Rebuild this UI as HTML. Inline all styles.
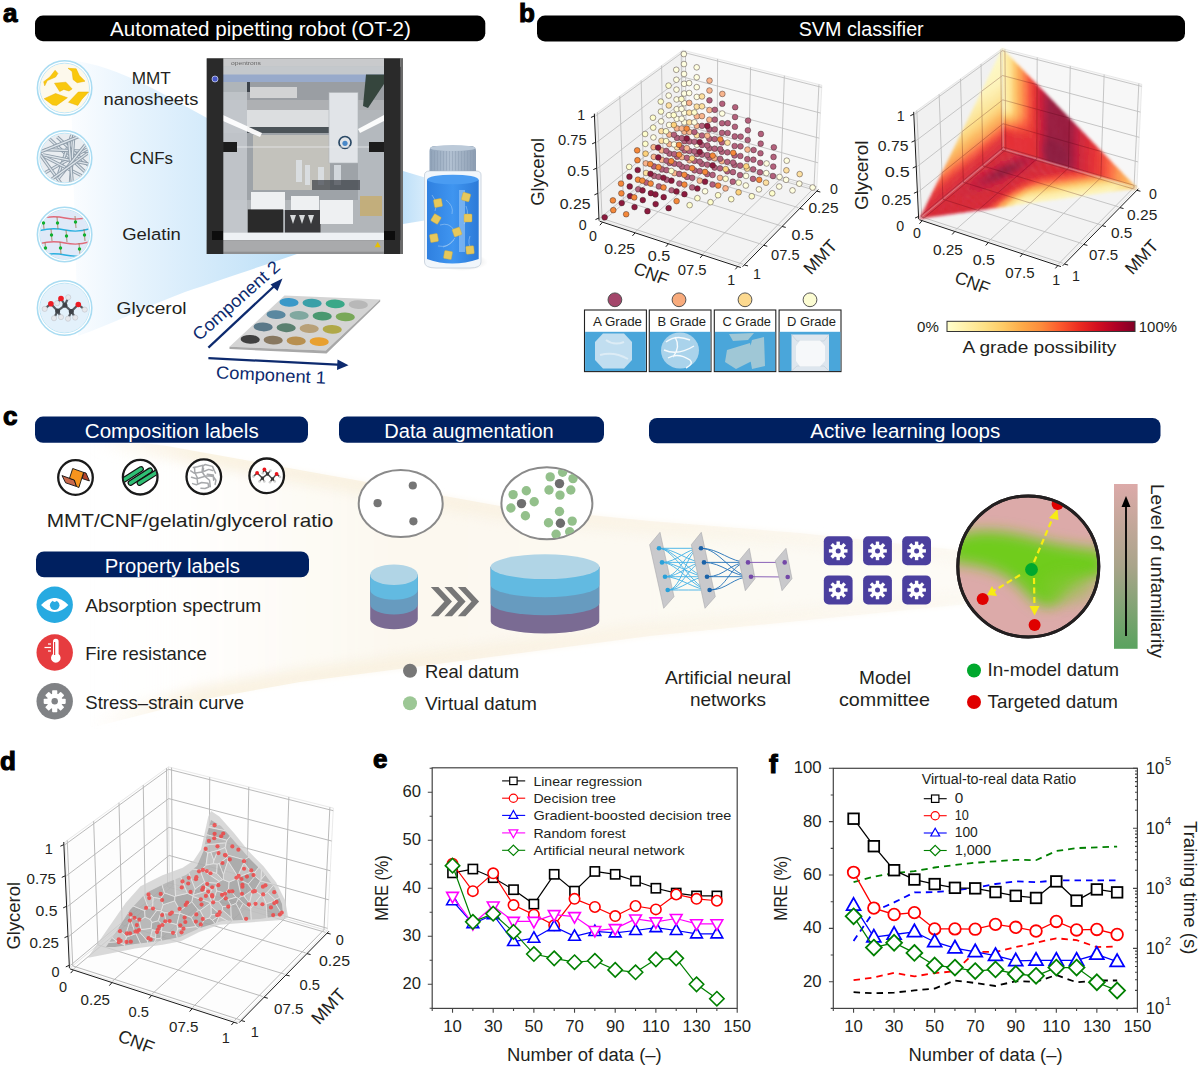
<!DOCTYPE html>
<html><head><meta charset="utf-8"><title>figure</title>
<style>
html,body{margin:0;padding:0;background:#fff;}
svg{display:block;}
text{font-family:"Liberation Sans", sans-serif;}
</style></head>
<body>
<svg width="1200" height="1066" viewBox="0 0 1200 1066">
<defs>
<linearGradient id="fanA" x1="0" y1="0" x2="1" y2="0">
<stop offset="0" stop-color="#fbfdff"/><stop offset="0.3" stop-color="#e6f3fd"/>
<stop offset="1" stop-color="#bcdff7"/></linearGradient>
<linearGradient id="fanB" x1="0" y1="0" x2="1" y2="0">
<stop offset="0" stop-color="#bfe0f8"/><stop offset="1" stop-color="#e6f3fd"/></linearGradient>
<clipPath id="cclip2"><circle cx="64.6" cy="158" r="24.3"/></clipPath>
<clipPath id="cclip3"><circle cx="64.6" cy="234.5" r="24.3"/></clipPath>
<filter id="blurP" x="0" y="0" width="100%" height="100%"><feGaussianBlur stdDeviation="0.6"/></filter>
<linearGradient id="capG" x1="0" y1="0" x2="1" y2="0">
<stop offset="0" stop-color="#8fa2b8"/><stop offset="0.45" stop-color="#b2c1d2"/><stop offset="1" stop-color="#8c9db2"/></linearGradient>
<linearGradient id="liqG" x1="0" y1="0" x2="1" y2="0">
<stop offset="0" stop-color="#2f80e0"/><stop offset="0.5" stop-color="#3f95f0"/><stop offset="1" stop-color="#2c7ad8"/></linearGradient>
<radialGradient id="shadB" cx="0.5" cy="0.5" r="0.5"><stop offset="0" stop-color="#000" stop-opacity="0.18"/><stop offset="1" stop-color="#000" stop-opacity="0"/></radialGradient>
<filter id="blurS" x="-5%" y="-5%" width="110%" height="110%"><feGaussianBlur stdDeviation="1.6"/></filter>
<clipPath id="triBR"><polygon points="1002.27,48.57 919.87,218.48 1136.83,188.13"/></clipPath>
<linearGradient id="cbar" x1="0" y1="0" x2="1" y2="0"><stop offset="0.0" stop-color="#ffffcc"/><stop offset="0.1" stop-color="#fff0a9"/><stop offset="0.2" stop-color="#fee186"/><stop offset="0.3" stop-color="#feca65"/><stop offset="0.4" stop-color="#fdaa48"/><stop offset="0.5" stop-color="#fc8c3b"/><stop offset="0.6" stop-color="#fc5a2d"/><stop offset="0.7" stop-color="#ec2d21"/><stop offset="0.8" stop-color="#d30f20"/><stop offset="0.9" stop-color="#af0026"/><stop offset="1.0" stop-color="#800026"/></linearGradient>
<linearGradient id="fanC" x1="90" y1="0" x2="968" y2="0" gradientUnits="userSpaceOnUse">
<stop offset="0" stop-color="#fcf8ef" stop-opacity="0"/>
<stop offset="0.12" stop-color="#fcf8ef" stop-opacity="0.15"/>
<stop offset="0.35" stop-color="#fcf8ef" stop-opacity="1"/>
<stop offset="1" stop-color="#fdfbf6" stop-opacity="1"/></linearGradient>
<linearGradient id="fanE" x1="90" y1="0" x2="968" y2="0" gradientUnits="userSpaceOnUse">
<stop offset="0" stop-color="#f7ebd2" stop-opacity="0"/>
<stop offset="0.12" stop-color="#f7ebd2" stop-opacity="1"/>
<stop offset="0.6" stop-color="#f9f0df" stop-opacity="1"/>
<stop offset="1" stop-color="#fbf5ea" stop-opacity="0.6"/></linearGradient>
<clipPath id="fanClip"><path d="M90,436 L167,446 L500,506 L650,521 L800,533 L968,551 L968,604 L650,636 L300,682 L200,700 L90,728 Z"/></clipPath>
<filter id="blur3" x="-20%" y="-20%" width="140%" height="140%"><feGaussianBlur stdDeviation="3"/></filter>
<filter id="blur6" x="-20%" y="-50%" width="140%" height="200%"><feGaussianBlur stdDeviation="6"/></filter>
<clipPath id="cnfc"><circle cx="140.2" cy="477.2" r="16.5"/></clipPath>
<clipPath id="eyeC"><path d="M41,605 Q54.7,591 68.4,605 Q54.7,619 41,605 Z"/></clipPath>
<clipPath id="ellR"><ellipse cx="546.9" cy="503.3" rx="45" ry="35.5"/></clipPath>
<clipPath id="bigc"><circle cx="1028.3" cy="566.4" r="70.5"/></clipPath>
<filter id="blurG" x="-50%" y="-50%" width="200%" height="200%"><feGaussianBlur stdDeviation="7"/></filter>
<clipPath id="bigc2"><circle cx="1028.3" cy="566.4" r="71"/></clipPath>
<linearGradient id="unf" x1="0" y1="0" x2="0" y2="1">
<stop offset="0" stop-color="#dcaaa9"/><stop offset="0.5" stop-color="#a9a48a"/><stop offset="1" stop-color="#5aa35f"/></linearGradient>
<clipPath id="dclip"><polygon points="88.3,956.8 100,940 109.3,926.5 125.8,902.7 140.5,886.2 162.5,875.2 182.7,867.8 193.7,860.5 201,849.5 204.7,833 208.3,816.5 211.1,811 219.3,816.5 234,833 248.7,851.3 263.3,866 276.2,882.5 285.3,900.8 288.1,917.3 281.7,920 245,922.8 219.3,924.7 199.2,932 180.8,941.2 162.5,944.8 135,948.5 107.5,954 88.3,957.7"/></clipPath>
<clipPath id="dinner"><polygon points="106,947 116,932 130,910 146,893 166,883 186,875 197,866 203.5,851 207,834 211,820 221,826 235,842 249,858 263,872 275,888 282,904 283,915 260,919 222,921 200,928 180,937 160,941 135,944 115,947"/></clipPath>
</defs>
<rect width="1200" height="1066" fill="#fff"/>
<text x="3" y="22" font-size="26" fill="#000" font-weight="bold" stroke="#000" stroke-width="1.1">a</text>
<rect x="35" y="15.6" width="450.3" height="25.6" fill="#000" rx="8"/>
<text x="0" y="0" font-size="1" fill="#fff"></text>
<text x="110" y="35.8" font-size="19.4" fill="#fff" textLength="300.8" lengthAdjust="spacingAndGlyphs">Automated pipetting robot (OT-2)</text>
<path d="M70,60 C120,66 170,98 207,118 L207,254 L297,254 C250,270 220,280 185,292 C150,305 110,325 78,336 Z" fill="url(#fanA)"/>
<path d="M403,171 L440,182 L440,218 L403,224 Z" fill="url(#fanB)"/>
<circle cx="64.6" cy="88" r="27.2" fill="#ffffff" stroke="#a9dcf2" stroke-width="1.6"/>
<circle cx="64.6" cy="88" r="24.8" fill="#eef5fb" stroke="#bfe6f6" stroke-width="1"/>
<circle cx="64.6" cy="158" r="27.2" fill="#ffffff" stroke="#a9dcf2" stroke-width="1.6"/>
<circle cx="64.6" cy="158" r="24.8" fill="#eef5fb" stroke="#bfe6f6" stroke-width="1"/>
<circle cx="64.6" cy="234.5" r="27.2" fill="#ffffff" stroke="#a9dcf2" stroke-width="1.6"/>
<circle cx="64.6" cy="234.5" r="24.8" fill="#eef5fb" stroke="#bfe6f6" stroke-width="1"/>
<circle cx="64.6" cy="308" r="27.2" fill="#ffffff" stroke="#a9dcf2" stroke-width="1.6"/>
<circle cx="64.6" cy="308" r="24.8" fill="#eef5fb" stroke="#bfe6f6" stroke-width="1"/>
<circle cx="64.6" cy="88" r="24.3" fill="#fdf9ec"/>
<polygon points="43.7,81.7 49.9,77 55.1,70.3 57.9,73.4 55.6,77 47.3,80.6 44.7,85.8" fill="#f9c80e" stroke="#e8b000" stroke-width="0.5" stroke-linejoin="round"/>
<polygon points="68,68.3 76.2,68.8 79.3,75.5 85,81.2 77.2,82.7 73.1,79.6 72.1,71.4" fill="#f9c80e" stroke="#e8b000" stroke-width="0.5" stroke-linejoin="round"/>
<polygon points="54.5,83.2 65.9,82.2 72.1,88.9 69,91 63.8,89.4 59.7,91.5" fill="#f9c80e" stroke="#e8b000" stroke-width="0.5" stroke-linejoin="round"/>
<polygon points="44.2,98.7 55.6,93.5 67.4,97.7 56.6,105.4 52.5,104.9" fill="#f9c80e" stroke="#e8b000" stroke-width="0.5" stroke-linejoin="round"/>
<polygon points="68.5,102.3 78.3,92 88.6,92 81.9,99.2 77.8,105.4" fill="#f9c80e" stroke="#e8b000" stroke-width="0.5" stroke-linejoin="round"/>
<circle cx="64.6" cy="158" r="24.3" fill="#e9edf1"/>
<line x1="43.93" y1="133.7" x2="87.93" y2="174.49" stroke="#8e9ca9" stroke-width="3.2" clip-path="url(#cclip2)"/>
<line x1="43.93" y1="133.7" x2="87.93" y2="174.49" stroke="#dde4ea" stroke-width="1.4" clip-path="url(#cclip2)"/>
<line x1="77.99" y1="116.55" x2="58.75" y2="173.38" stroke="#8e9ca9" stroke-width="3.2" clip-path="url(#cclip2)"/>
<line x1="77.99" y1="116.55" x2="58.75" y2="173.38" stroke="#dde4ea" stroke-width="1.4" clip-path="url(#cclip2)"/>
<line x1="44.75" y1="149.54" x2="104.7" y2="152.02" stroke="#8e9ca9" stroke-width="3.2" clip-path="url(#cclip2)"/>
<line x1="44.75" y1="149.54" x2="104.7" y2="152.02" stroke="#dde4ea" stroke-width="1.4" clip-path="url(#cclip2)"/>
<line x1="57.24" y1="136.96" x2="101.7" y2="177.25" stroke="#8e9ca9" stroke-width="3.2" clip-path="url(#cclip2)"/>
<line x1="57.24" y1="136.96" x2="101.7" y2="177.25" stroke="#dde4ea" stroke-width="1.4" clip-path="url(#cclip2)"/>
<line x1="90.02" y1="147.43" x2="37.76" y2="176.92" stroke="#8e9ca9" stroke-width="3.2" clip-path="url(#cclip2)"/>
<line x1="90.02" y1="147.43" x2="37.76" y2="176.92" stroke="#dde4ea" stroke-width="1.4" clip-path="url(#cclip2)"/>
<line x1="41.94" y1="155.37" x2="95.35" y2="182.71" stroke="#8e9ca9" stroke-width="3.2" clip-path="url(#cclip2)"/>
<line x1="41.94" y1="155.37" x2="95.35" y2="182.71" stroke="#dde4ea" stroke-width="1.4" clip-path="url(#cclip2)"/>
<line x1="74.02" y1="133.22" x2="69.65" y2="193.06" stroke="#8e9ca9" stroke-width="3.2" clip-path="url(#cclip2)"/>
<line x1="74.02" y1="133.22" x2="69.65" y2="193.06" stroke="#dde4ea" stroke-width="1.4" clip-path="url(#cclip2)"/>
<line x1="42.95" y1="154.74" x2="101.74" y2="166.73" stroke="#8e9ca9" stroke-width="3.2" clip-path="url(#cclip2)"/>
<line x1="42.95" y1="154.74" x2="101.74" y2="166.73" stroke="#dde4ea" stroke-width="1.4" clip-path="url(#cclip2)"/>
<line x1="32.99" y1="144.63" x2="68.07" y2="193.31" stroke="#8e9ca9" stroke-width="3.2" clip-path="url(#cclip2)"/>
<line x1="32.99" y1="144.63" x2="68.07" y2="193.31" stroke="#dde4ea" stroke-width="1.4" clip-path="url(#cclip2)"/>
<line x1="68.6" y1="139.47" x2="73.73" y2="199.25" stroke="#8e9ca9" stroke-width="3.2" clip-path="url(#cclip2)"/>
<line x1="68.6" y1="139.47" x2="73.73" y2="199.25" stroke="#dde4ea" stroke-width="1.4" clip-path="url(#cclip2)"/>
<line x1="95.93" y1="131.38" x2="58.54" y2="178.31" stroke="#8e9ca9" stroke-width="3.2" clip-path="url(#cclip2)"/>
<line x1="95.93" y1="131.38" x2="58.54" y2="178.31" stroke="#dde4ea" stroke-width="1.4" clip-path="url(#cclip2)"/>
<line x1="87.26" y1="153.5" x2="38.62" y2="188.63" stroke="#8e9ca9" stroke-width="3.2" clip-path="url(#cclip2)"/>
<line x1="87.26" y1="153.5" x2="38.62" y2="188.63" stroke="#dde4ea" stroke-width="1.4" clip-path="url(#cclip2)"/>
<line x1="80.38" y1="135.94" x2="24.67" y2="158.22" stroke="#8e9ca9" stroke-width="3.2" clip-path="url(#cclip2)"/>
<line x1="80.38" y1="135.94" x2="24.67" y2="158.22" stroke="#dde4ea" stroke-width="1.4" clip-path="url(#cclip2)"/>
<circle cx="64.6" cy="234.5" r="24.3" fill="#dfe9f8"/>
<path d="M38,219 q14,-4 27,-1 q14,3 27,-2" fill="none" stroke="#e06a7a" stroke-width="1.5" clip-path="url(#cclip3)"/>
<path d="M38,231 q14,-4 27,-1 q14,3 27,-2" fill="none" stroke="#2ab0e0" stroke-width="1.5" clip-path="url(#cclip3)"/>
<path d="M38,244 q14,-4 27,-1 q14,3 27,-2" fill="none" stroke="#e06a7a" stroke-width="1.5" clip-path="url(#cclip3)"/>
<path d="M38,256 q14,-4 27,-1 q14,3 27,-2" fill="none" stroke="#2ab0e0" stroke-width="1.5" clip-path="url(#cclip3)"/>
<line x1="43" y1="217" x2="44" y2="229" stroke="#a07850" stroke-width="0.8" clip-path="url(#cclip3)"/>
<circle cx="43.5" cy="223" r="1.7" fill="#10b030"/>
<line x1="57" y1="217" x2="58" y2="229" stroke="#a07850" stroke-width="0.8" clip-path="url(#cclip3)"/>
<circle cx="57.5" cy="223" r="1.7" fill="#10b030"/>
<line x1="75" y1="216" x2="76" y2="228" stroke="#a07850" stroke-width="0.8" clip-path="url(#cclip3)"/>
<circle cx="75.5" cy="222" r="1.7" fill="#10b030"/>
<line x1="51" y1="229" x2="52" y2="241" stroke="#a07850" stroke-width="0.8" clip-path="url(#cclip3)"/>
<circle cx="51.5" cy="235" r="1.7" fill="#10b030"/>
<line x1="66" y1="230" x2="67" y2="242" stroke="#a07850" stroke-width="0.8" clip-path="url(#cclip3)"/>
<circle cx="66.5" cy="236" r="1.7" fill="#10b030"/>
<line x1="84" y1="229" x2="85" y2="241" stroke="#a07850" stroke-width="0.8" clip-path="url(#cclip3)"/>
<circle cx="84.5" cy="235" r="1.7" fill="#10b030"/>
<line x1="45" y1="242" x2="46" y2="254" stroke="#a07850" stroke-width="0.8" clip-path="url(#cclip3)"/>
<circle cx="45.5" cy="248" r="1.7" fill="#10b030"/>
<line x1="60" y1="242" x2="61" y2="254" stroke="#a07850" stroke-width="0.8" clip-path="url(#cclip3)"/>
<circle cx="60.5" cy="248" r="1.7" fill="#10b030"/>
<line x1="79" y1="243" x2="80" y2="255" stroke="#a07850" stroke-width="0.8" clip-path="url(#cclip3)"/>
<circle cx="79.5" cy="249" r="1.7" fill="#10b030"/>
<circle cx="64.6" cy="308" r="24.3" fill="#e3f1fb"/>
<line x1="50.9" y1="303.7" x2="57.6" y2="310.9" stroke="#555a60" stroke-width="2.2"/>
<line x1="57.6" y1="310.9" x2="64.9" y2="305.3" stroke="#555a60" stroke-width="2.2"/>
<line x1="64.9" y1="305.3" x2="61" y2="298.5" stroke="#555a60" stroke-width="2.2"/>
<line x1="64.9" y1="305.3" x2="71.3" y2="311.4" stroke="#555a60" stroke-width="2.2"/>
<line x1="71.3" y1="311.4" x2="78.3" y2="304.5" stroke="#555a60" stroke-width="2.2"/>
<line x1="50.9" y1="303.7" x2="44.7" y2="308.9" stroke="#555a60" stroke-width="2.2"/>
<line x1="78.3" y1="304.5" x2="84.7" y2="309.6" stroke="#555a60" stroke-width="2.2"/>
<line x1="57.6" y1="310.9" x2="54" y2="318.2" stroke="#555a60" stroke-width="2.2"/>
<line x1="57.6" y1="310.9" x2="61" y2="317.1" stroke="#555a60" stroke-width="2.2"/>
<line x1="71.3" y1="311.4" x2="68" y2="318.7" stroke="#555a60" stroke-width="2.2"/>
<line x1="71.3" y1="311.4" x2="75.2" y2="317.6" stroke="#555a60" stroke-width="2.2"/>
<line x1="64.9" y1="305.3" x2="68.2" y2="297.3" stroke="#555a60" stroke-width="2.2"/>
<line x1="61" y1="298.5" x2="57.1" y2="303.2" stroke="#555a60" stroke-width="2.2"/>
<circle cx="44.7" cy="308.9" r="2.6" fill="#e6e8ec" stroke="#b8bcc4" stroke-width="0.5"/>
<circle cx="57.1" cy="303.2" r="2.6" fill="#e6e8ec" stroke="#b8bcc4" stroke-width="0.5"/>
<circle cx="68.2" cy="297.3" r="2.6" fill="#e6e8ec" stroke="#b8bcc4" stroke-width="0.5"/>
<circle cx="84.7" cy="309.6" r="2.6" fill="#e6e8ec" stroke="#b8bcc4" stroke-width="0.5"/>
<circle cx="54" cy="318.2" r="2.6" fill="#e6e8ec" stroke="#b8bcc4" stroke-width="0.5"/>
<circle cx="61" cy="317.1" r="2.6" fill="#e6e8ec" stroke="#b8bcc4" stroke-width="0.5"/>
<circle cx="68" cy="318.7" r="2.6" fill="#e6e8ec" stroke="#b8bcc4" stroke-width="0.5"/>
<circle cx="75.2" cy="317.6" r="2.6" fill="#e6e8ec" stroke="#b8bcc4" stroke-width="0.5"/>
<circle cx="57.6" cy="310.9" r="2.5" fill="#3e4248"/>
<circle cx="64.9" cy="305.3" r="2.5" fill="#3e4248"/>
<circle cx="71.3" cy="311.4" r="2.5" fill="#3e4248"/>
<circle cx="50.9" cy="303.7" r="2.8" fill="#ec1c24"/>
<circle cx="61" cy="298.5" r="2.8" fill="#ec1c24"/>
<circle cx="78.3" cy="304.5" r="2.8" fill="#ec1c24"/>
<text x="131.7" y="83.8" font-size="17.2" fill="#231f20" textLength="39.1" lengthAdjust="spacingAndGlyphs">MMT</text>
<text x="103.5" y="105.2" font-size="17.2" fill="#231f20" textLength="94.8" lengthAdjust="spacingAndGlyphs">nanosheets</text>
<text x="129.8" y="164.4" font-size="17.2" fill="#231f20" textLength="43.1" lengthAdjust="spacingAndGlyphs">CNFs</text>
<text x="122.2" y="239.6" font-size="17.2" fill="#231f20" textLength="58.6" lengthAdjust="spacingAndGlyphs">Gelatin</text>
<text x="116.6" y="313.5" font-size="17.2" fill="#231f20" textLength="70" lengthAdjust="spacingAndGlyphs">Glycerol</text>
<g filter="url(#blurP)">
<rect x="206.8" y="58.4" width="196.2" height="195.6" fill="#2c2c2e"/>
<rect x="223" y="60" width="161" height="180" fill="#b2b6ba"/>
<rect x="206.8" y="58.4" width="196.2" height="8.4" fill="#c9cacc"/>
<text x="231" y="64.8" font-size="5.5" fill="#666" textLength="30" lengthAdjust="spacingAndGlyphs">opentrons</text>
<rect x="223" y="66.6" width="161" height="8.5" fill="#c4c8cc"/>
<rect x="223" y="74.5" width="161" height="7.5" fill="#98aacb"/>
<rect x="223" y="82" width="161" height="18" fill="#9a9ea3"/>
<rect x="223" y="82" width="27" height="10" fill="#3a4248"/>
<rect x="250" y="87" width="47" height="11" fill="#d2d3d4"/>
<rect x="223" y="100" width="161" height="10" fill="#aeb0b3"/>
<rect x="247" y="110" width="82" height="17" fill="#dcdee0"/>
<rect x="247" y="127" width="82" height="6" fill="#4c5259"/>
<rect x="223" y="133" width="161" height="67" fill="#9ea3a8"/>
<rect x="253" y="135" width="77" height="55" fill="#c3c2bc"/>
<rect x="223" y="82" width="24" height="158" fill="#c4c9ce" opacity="0.85"/>
<path d="M366,74.5 L384,74.5 L384,84 L368,108 L363,106 Z" fill="#34443e"/>
<rect x="358" y="120" width="26" height="80" fill="#b4b9be"/>
<rect x="360" y="196" width="22" height="20" fill="#cfa748" opacity="0.55"/>
<rect x="329" y="92.5" width="29" height="70.5" fill="#e1e4e8" stroke="#b0b4b8" stroke-width="0.6"/>
<circle cx="345" cy="142.5" r="6" fill="none" stroke="#2c4a66" stroke-width="1.7"/>
<circle cx="345" cy="143.3" r="2.6" fill="#4a88c8"/>
<path d="M223,115 L262,133 L260,137 L223,121 Z" fill="#ffffff" opacity="0.95"/>
<path d="M384,115 L358,129 L360,133 L384,121 Z" fill="#ffffff" opacity="0.95"/>
<line x1="232" y1="147" x2="380" y2="147" stroke="#e8eaec" stroke-width="0.8"/>
<rect x="223" y="142" width="14" height="10" fill="#1e1e1e"/>
<rect x="369" y="142" width="15" height="10" fill="#1e1e1e"/>
<rect x="296" y="160" width="6" height="22" fill="#dfe3e8" opacity="0.8"/>
<rect x="305" y="165" width="5" height="20" fill="#dfe3e8" opacity="0.8"/>
<rect x="318" y="167" width="6" height="18" fill="#dfe3e8" opacity="0.8"/>
<rect x="334" y="165" width="7" height="20" fill="#dfe3e8" opacity="0.8"/>
<rect x="312" y="180" width="48" height="10" fill="#3a3f46" opacity="0.7"/>
<rect x="251" y="192" width="34" height="18" fill="#eef0f2"/>
<rect x="291" y="196" width="28" height="15" fill="#eef0f2"/>
<rect x="247.8" y="209.4" width="35.4" height="23.3" fill="#2a2a2c"/>
<rect x="285" y="210" width="35.5" height="22.7" fill="#38393b"/>
<path d="M290,215 l6,0 l-3,9 z" fill="#d8dadc"/>
<path d="M299,215 l6,0 l-3,9 z" fill="#d8dadc"/>
<path d="M308,215 l6,0 l-3,9 z" fill="#d8dadc"/>
<rect x="320" y="200" width="33" height="24" fill="#eef0f2"/>
<rect x="223" y="232.7" width="161" height="7.5" fill="#eef1f4"/>
<rect x="206.8" y="240.2" width="196.2" height="13.8" fill="#8f9092"/>
<rect x="223" y="240.2" width="161" height="11.5" fill="#a9aaac"/>
<path d="M377.7,241.8 l3,5.5 l-6,0 z" fill="#e8c000"/>
<rect x="206.8" y="58.4" width="16.5" height="195.6" fill="#29292a"/>
<rect x="384" y="58.4" width="16.4" height="195.6" fill="#29292a"/>
<rect x="400.4" y="58.4" width="2.6" height="195.6" fill="#6a6a6a"/>
<rect x="212" y="231" width="11" height="9" fill="#111"/>
<rect x="384" y="231" width="11" height="9" fill="#111"/>
<circle cx="215" cy="79" r="3" fill="#4a58c8" stroke="#c8d0f0" stroke-width="0.8"/>
</g>
<ellipse cx="462" cy="262" rx="26" ry="9" fill="url(#shadB)"/>
<path d="M424.5,175 Q424.5,171 430,171 L476,171 Q481,171 481,175 L481,262 Q481,268 470,268 L436,268 Q424.5,268 424.5,262 Z" fill="#f1f6fb" stroke="#cdd6e0" stroke-width="1"/>
<path d="M427,180 Q452,172 478.7,180 L478.7,259 Q452,268 427,259 Z" fill="url(#liqG)"/>
<ellipse cx="452.8" cy="179.5" rx="25.8" ry="4.8" fill="#4a9cf2"/>
<rect x="459" y="190" width="6" height="62" fill="#a8d0f8" opacity="0.55"/>
<path d="M432,195 q6,8 3,16 M446,200 q8,6 6,14 M440,225 q9,-3 14,5 M455,238 q-6,8 -12,9 M466,206 q4,10 -2,18 M438,246 q10,2 16,-6 M470,236 q-3,8 2,14" stroke="#b8d8f4" stroke-width="0.6" fill="none" opacity="0.8"/>
<path d="M429.5,151 Q429.5,146 435,146 L470.5,146 Q476,146 476,151 L476,171 L429.5,171 Z" fill="url(#capG)"/>
<line x1="431.5" y1="151" x2="431.5" y2="170.5" stroke="#8a9bb0" stroke-width="0.7" opacity="0.7"/><line x1="434.5" y1="151" x2="434.5" y2="170.5" stroke="#8a9bb0" stroke-width="0.7" opacity="0.7"/><line x1="437.5" y1="151" x2="437.5" y2="170.5" stroke="#8a9bb0" stroke-width="0.7" opacity="0.7"/><line x1="440.5" y1="151" x2="440.5" y2="170.5" stroke="#8a9bb0" stroke-width="0.7" opacity="0.7"/><line x1="443.5" y1="151" x2="443.5" y2="170.5" stroke="#8a9bb0" stroke-width="0.7" opacity="0.7"/><line x1="446.5" y1="151" x2="446.5" y2="170.5" stroke="#8a9bb0" stroke-width="0.7" opacity="0.7"/><line x1="449.5" y1="151" x2="449.5" y2="170.5" stroke="#8a9bb0" stroke-width="0.7" opacity="0.7"/><line x1="452.5" y1="151" x2="452.5" y2="170.5" stroke="#8a9bb0" stroke-width="0.7" opacity="0.7"/><line x1="455.5" y1="151" x2="455.5" y2="170.5" stroke="#8a9bb0" stroke-width="0.7" opacity="0.7"/><line x1="458.5" y1="151" x2="458.5" y2="170.5" stroke="#8a9bb0" stroke-width="0.7" opacity="0.7"/><line x1="461.5" y1="151" x2="461.5" y2="170.5" stroke="#8a9bb0" stroke-width="0.7" opacity="0.7"/><line x1="464.5" y1="151" x2="464.5" y2="170.5" stroke="#8a9bb0" stroke-width="0.7" opacity="0.7"/><line x1="467.5" y1="151" x2="467.5" y2="170.5" stroke="#8a9bb0" stroke-width="0.7" opacity="0.7"/><line x1="470.5" y1="151" x2="470.5" y2="170.5" stroke="#8a9bb0" stroke-width="0.7" opacity="0.7"/><line x1="473.5" y1="151" x2="473.5" y2="170.5" stroke="#8a9bb0" stroke-width="0.7" opacity="0.7"/>
<ellipse cx="452.8" cy="148" rx="22.8" ry="3" fill="#bccad9"/>
<rect x="434" y="199" width="8" height="8" fill="#e6c85c" stroke="#c8a840" stroke-width="0.4" transform="rotate(-10 438 203)" rx="1"/>
<rect x="462" y="193" width="8" height="8" fill="#e6c85c" stroke="#c8a840" stroke-width="0.4" transform="rotate(15 466 197)" rx="1"/>
<rect x="432" y="215" width="8" height="8" fill="#e6c85c" stroke="#c8a840" stroke-width="0.4" transform="rotate(30 436 219)" rx="1"/>
<rect x="464" y="214" width="8" height="8" fill="#e6c85c" stroke="#c8a840" stroke-width="0.4" transform="rotate(0 468 218)" rx="1"/>
<rect x="453" y="228" width="8" height="8" fill="#e6c85c" stroke="#c8a840" stroke-width="0.4" transform="rotate(-20 457 232)" rx="1"/>
<rect x="430" y="234" width="8" height="8" fill="#e6c85c" stroke="#c8a840" stroke-width="0.4" transform="rotate(80 434 238)" rx="1"/>
<rect x="444" y="251" width="8" height="8" fill="#e6c85c" stroke="#c8a840" stroke-width="0.4" transform="rotate(10 448 255)" rx="1"/>
<rect x="466" y="246" width="8" height="8" fill="#e6c85c" stroke="#c8a840" stroke-width="0.4" transform="rotate(-5 470 250)" rx="1"/>
<polygon points="284.5,295.5 380.2,299.5 325.8,350.5 229.5,346.8" fill="#d4d4d4"/>
<polygon points="229.5,346.8 325.8,350.5 380.2,299.5 380.2,301.5 326.5,353.5 229.5,349" fill="#a8a8a8"/>
<ellipse cx="289" cy="302.3" rx="9.6" ry="4.4" fill="#3a98c8" transform="rotate(2 289 302.3)"/>
<ellipse cx="312.1" cy="303.05" rx="9.6" ry="4.4" fill="#3aa0a8" transform="rotate(2 312.1 303.05)"/>
<ellipse cx="335.2" cy="303.8" rx="9.6" ry="4.4" fill="#3aa888" transform="rotate(2 335.2 303.8)"/>
<ellipse cx="358.3" cy="304.55" rx="9.6" ry="4.4" fill="#b8b8b8" transform="rotate(2 358.3 304.55)"/>
<ellipse cx="276.07" cy="314.63" rx="9.6" ry="4.4" fill="#5a88a0" transform="rotate(2 276.07 314.63)"/>
<ellipse cx="299.13" cy="315.4" rx="9.6" ry="4.4" fill="#80a8a0" transform="rotate(2 299.13 315.4)"/>
<ellipse cx="322.2" cy="316.17" rx="9.6" ry="4.4" fill="#4a9870" transform="rotate(2 322.2 316.17)"/>
<ellipse cx="345.27" cy="316.93" rx="9.6" ry="4.4" fill="#78a858" transform="rotate(2 345.27 316.93)"/>
<ellipse cx="263.13" cy="326.97" rx="9.6" ry="4.4" fill="#5a7888" transform="rotate(2 263.13 326.97)"/>
<ellipse cx="286.17" cy="327.75" rx="9.6" ry="4.4" fill="#5a8070" transform="rotate(2 286.17 327.75)"/>
<ellipse cx="309.2" cy="328.53" rx="9.6" ry="4.4" fill="#b8a078" transform="rotate(2 309.2 328.53)"/>
<ellipse cx="332.23" cy="329.32" rx="9.6" ry="4.4" fill="#b0a848" transform="rotate(2 332.23 329.32)"/>
<ellipse cx="250.2" cy="339.3" rx="9.6" ry="4.4" fill="#404040" transform="rotate(2 250.2 339.3)"/>
<ellipse cx="273.2" cy="340.1" rx="9.6" ry="4.4" fill="#887860" transform="rotate(2 273.2 340.1)"/>
<ellipse cx="296.2" cy="340.9" rx="9.6" ry="4.4" fill="#b89050" transform="rotate(2 296.2 340.9)"/>
<ellipse cx="319.2" cy="341.7" rx="9.6" ry="4.4" fill="#e8a030" transform="rotate(2 319.2 341.7)"/>
<line x1="208.4" y1="347.6" x2="277" y2="283.5" stroke="#0d2a6e" stroke-width="2.2"/>
<polygon points="282.5,278.5 270.5,284.5 277.5,291" fill="#0d2a6e"/>
<line x1="208.4" y1="358.2" x2="342" y2="364.8" stroke="#0d2a6e" stroke-width="2.2"/>
<polygon points="348.5,365.2 337.5,359.5 337,370" fill="#0d2a6e"/>
<text x="199" y="341.5" font-size="17.5" fill="#0d2a6e" textLength="110" lengthAdjust="spacingAndGlyphs" transform="rotate(-41.5 199 341.5)">Component 2</text>
<text x="215.8" y="378.2" font-size="17.5" fill="#0d2a6e" textLength="110" lengthAdjust="spacingAndGlyphs" transform="rotate(2.9 215.8 378.2)">Component 1</text>
<text x="519" y="22" font-size="26" fill="#000" font-weight="bold" stroke="#000" stroke-width="1.1">b</text>
<rect x="537" y="15.6" width="648" height="25.8" fill="#000" rx="8"/>
<text x="0" y="0" font-size="1" fill="#fff"></text>
<text x="798.7" y="36" font-size="19.5" fill="#fff" textLength="125" lengthAdjust="spacingAndGlyphs">SVM classifier</text>
<polygon points="683.59,150.39 600.27,220.01 595.55,113.65 682.82,50.13" fill="#f1f1f1" stroke="#dcdcdc" stroke-width="0.6"/>
<polygon points="683.59,150.39 816.72,188.91 821.87,85.19 682.82,50.13" fill="#f7f7f7" stroke="#dcdcdc" stroke-width="0.6"/>
<polygon points="683.59,150.39 816.72,188.91 741.37,265.91 600.27,220.01" fill="#f3f3f3" stroke="#dcdcdc" stroke-width="0.6"/>
<path d="M686.13,151.12L602.95,220.88M682.06,151.67L815.34,190.32M682.06,151.67L681.22,51.29M683.58,148.46L600.18,217.98M686.13,151.12L685.47,50.79M683.58,148.46L816.82,186.92M716.98,160.05L635.55,231.49M663.27,167.37L798.4,207.63M663.27,167.37L661.59,65.58M683.4,125.12L599.09,193.28M716.98,160.05L717.64,58.91M683.4,125.12L818.01,162.81M748.55,169.18L668.96,242.36M643.71,183.72L780.73,225.69M643.71,183.72L641.13,80.48M683.21,101.3L597.97,168.04M748.55,169.18L750.59,67.21M683.21,101.3L819.24,138.18M780.85,178.53L703.24,253.51M623.33,200.74L762.29,244.54M623.33,200.74L619.77,96.03M683.03,77.01L596.82,142.25M780.85,178.53L784.35,75.73M683.03,77.01L820.48,113.04M813.93,188.1L738.4,264.95M602.09,218.5L743.02,264.23M602.09,218.5L597.45,112.27M682.83,52.22L595.65,115.88M813.93,188.1L818.95,84.45M682.83,52.22L821.76,87.35" fill="none" stroke="#bfbfbf" stroke-width="0.9"/>
<circle cx="684.59" cy="150.48" r="2.85" fill="#b3607c" stroke="#3a2a2a" stroke-width="0.45"/>
<circle cx="684.52" cy="141.18" r="2.85" fill="#b3607c" stroke="#3a2a2a" stroke-width="0.45"/>
<circle cx="696.87" cy="154.03" r="2.85" fill="#b3607c" stroke="#3a2a2a" stroke-width="0.45"/>
<circle cx="677.17" cy="156.69" r="2.85" fill="#b3607c" stroke="#3a2a2a" stroke-width="0.45"/>
<circle cx="684.45" cy="131.8" r="2.85" fill="#f8b48c" stroke="#3a2a2a" stroke-width="0.45"/>
<circle cx="696.85" cy="144.7" r="2.85" fill="#fefee0" stroke="#3a2a2a" stroke-width="0.45"/>
<circle cx="709.26" cy="157.61" r="2.85" fill="#b3607c" stroke="#3a2a2a" stroke-width="0.45"/>
<circle cx="677.07" cy="147.34" r="2.85" fill="#fde0a0" stroke="#3a2a2a" stroke-width="0.45"/>
<circle cx="689.51" cy="160.29" r="2.85" fill="#f8b48c" stroke="#3a2a2a" stroke-width="0.45"/>
<circle cx="684.38" cy="122.36" r="2.85" fill="#fefee0" stroke="#3a2a2a" stroke-width="0.45"/>
<circle cx="721.76" cy="161.23" r="2.85" fill="#f8b48c" stroke="#3a2a2a" stroke-width="0.45"/>
<circle cx="696.83" cy="135.3" r="2.85" fill="#fde0a0" stroke="#3a2a2a" stroke-width="0.45"/>
<circle cx="709.29" cy="148.26" r="2.85" fill="#b3607c" stroke="#3a2a2a" stroke-width="0.45"/>
<circle cx="669.63" cy="162.99" r="2.85" fill="#b3607c" stroke="#3a2a2a" stroke-width="0.45"/>
<circle cx="676.97" cy="137.91" r="2.85" fill="#b3607c" stroke="#3a2a2a" stroke-width="0.45"/>
<circle cx="689.46" cy="150.92" r="2.85" fill="#b3607c" stroke="#3a2a2a" stroke-width="0.45"/>
<circle cx="701.97" cy="163.94" r="2.85" fill="#b3607c" stroke="#3a2a2a" stroke-width="0.45"/>
<circle cx="684.31" cy="112.83" r="2.85" fill="#fefee0" stroke="#3a2a2a" stroke-width="0.45"/>
<circle cx="696.81" cy="125.82" r="2.85" fill="#f8b48c" stroke="#3a2a2a" stroke-width="0.45"/>
<circle cx="709.32" cy="138.83" r="2.85" fill="#b3607c" stroke="#3a2a2a" stroke-width="0.45"/>
<circle cx="721.84" cy="151.85" r="2.85" fill="#b3607c" stroke="#3a2a2a" stroke-width="0.45"/>
<circle cx="734.38" cy="164.88" r="2.85" fill="#b3607c" stroke="#3a2a2a" stroke-width="0.45"/>
<circle cx="669.5" cy="153.59" r="2.85" fill="#b3607c" stroke="#3a2a2a" stroke-width="0.45"/>
<circle cx="682.03" cy="166.66" r="2.85" fill="#b3607c" stroke="#3a2a2a" stroke-width="0.45"/>
<circle cx="676.87" cy="128.41" r="2.85" fill="#f8b48c" stroke="#3a2a2a" stroke-width="0.45"/>
<circle cx="701.97" cy="154.53" r="2.85" fill="#b3607c" stroke="#3a2a2a" stroke-width="0.45"/>
<circle cx="714.54" cy="167.61" r="2.85" fill="#b3607c" stroke="#3a2a2a" stroke-width="0.45"/>
<circle cx="689.41" cy="141.46" r="2.85" fill="#b3607c" stroke="#3a2a2a" stroke-width="0.45"/>
<circle cx="684.24" cy="103.23" r="2.85" fill="#fefee0" stroke="#3a2a2a" stroke-width="0.45"/>
<circle cx="696.79" cy="116.27" r="2.85" fill="#f8b48c" stroke="#3a2a2a" stroke-width="0.45"/>
<circle cx="709.35" cy="129.32" r="2.85" fill="#b3607c" stroke="#3a2a2a" stroke-width="0.45"/>
<circle cx="721.92" cy="142.39" r="2.85" fill="#b3607c" stroke="#3a2a2a" stroke-width="0.45"/>
<circle cx="734.52" cy="155.47" r="2.85" fill="#b3607c" stroke="#3a2a2a" stroke-width="0.45"/>
<circle cx="747.12" cy="168.57" r="2.85" fill="#fde0a0" stroke="#3a2a2a" stroke-width="0.45"/>
<circle cx="661.97" cy="169.4" r="2.85" fill="#b3607c" stroke="#3a2a2a" stroke-width="0.45"/>
<circle cx="669.37" cy="144.12" r="2.85" fill="#f8b48c" stroke="#3a2a2a" stroke-width="0.45"/>
<circle cx="681.95" cy="157.23" r="2.85" fill="#f8b48c" stroke="#3a2a2a" stroke-width="0.45"/>
<circle cx="694.56" cy="170.36" r="2.85" fill="#b3607c" stroke="#3a2a2a" stroke-width="0.45"/>
<circle cx="714.59" cy="158.18" r="2.85" fill="#f8b48c" stroke="#3a2a2a" stroke-width="0.45"/>
<circle cx="676.77" cy="118.84" r="2.85" fill="#fefee0" stroke="#3a2a2a" stroke-width="0.45"/>
<circle cx="689.36" cy="131.93" r="2.85" fill="#f8b48c" stroke="#3a2a2a" stroke-width="0.45"/>
<circle cx="701.97" cy="145.05" r="2.85" fill="#b3607c" stroke="#3a2a2a" stroke-width="0.45"/>
<circle cx="727.23" cy="171.32" r="2.85" fill="#b3607c" stroke="#3a2a2a" stroke-width="0.45"/>
<circle cx="684.17" cy="93.56" r="2.85" fill="#fefee0" stroke="#3a2a2a" stroke-width="0.45"/>
<circle cx="696.77" cy="106.64" r="2.85" fill="#fde0a0" stroke="#3a2a2a" stroke-width="0.45"/>
<circle cx="722.01" cy="132.85" r="2.85" fill="#b3607c" stroke="#3a2a2a" stroke-width="0.45"/>
<circle cx="747.31" cy="159.12" r="2.85" fill="#b3607c" stroke="#3a2a2a" stroke-width="0.45"/>
<circle cx="759.98" cy="172.29" r="2.85" fill="#b3607c" stroke="#3a2a2a" stroke-width="0.45"/>
<circle cx="709.38" cy="119.73" r="2.85" fill="#f8b48c" stroke="#3a2a2a" stroke-width="0.45"/>
<circle cx="734.65" cy="145.98" r="2.85" fill="#b3607c" stroke="#3a2a2a" stroke-width="0.45"/>
<circle cx="661.81" cy="159.95" r="2.85" fill="#f8b48c" stroke="#3a2a2a" stroke-width="0.45"/>
<circle cx="674.44" cy="173.13" r="2.85" fill="#f8b48c" stroke="#3a2a2a" stroke-width="0.45"/>
<circle cx="669.24" cy="134.57" r="2.85" fill="#f8b48c" stroke="#3a2a2a" stroke-width="0.45"/>
<circle cx="694.53" cy="160.9" r="2.85" fill="#b3607c" stroke="#3a2a2a" stroke-width="0.45"/>
<circle cx="707.2" cy="174.1" r="2.85" fill="#b3607c" stroke="#3a2a2a" stroke-width="0.45"/>
<circle cx="681.87" cy="147.73" r="2.85" fill="#b3607c" stroke="#3a2a2a" stroke-width="0.45"/>
<circle cx="701.97" cy="135.49" r="2.85" fill="#b3607c" stroke="#3a2a2a" stroke-width="0.45"/>
<circle cx="714.64" cy="148.67" r="2.85" fill="#b3607c" stroke="#3a2a2a" stroke-width="0.45"/>
<circle cx="676.67" cy="109.18" r="2.85" fill="#fefee0" stroke="#3a2a2a" stroke-width="0.45"/>
<circle cx="689.31" cy="122.33" r="2.85" fill="#fde0a0" stroke="#3a2a2a" stroke-width="0.45"/>
<circle cx="727.33" cy="161.86" r="2.85" fill="#b3607c" stroke="#3a2a2a" stroke-width="0.45"/>
<circle cx="740.04" cy="175.07" r="2.85" fill="#b3607c" stroke="#3a2a2a" stroke-width="0.45"/>
<circle cx="654.18" cy="175.92" r="2.85" fill="#b3607c" stroke="#3a2a2a" stroke-width="0.45"/>
<circle cx="684.1" cy="83.8" r="2.85" fill="#fefee0" stroke="#3a2a2a" stroke-width="0.45"/>
<circle cx="696.75" cy="96.93" r="2.85" fill="#fefee0" stroke="#3a2a2a" stroke-width="0.45"/>
<circle cx="709.41" cy="110.07" r="2.85" fill="#f8b48c" stroke="#3a2a2a" stroke-width="0.45"/>
<circle cx="722.09" cy="123.23" r="2.85" fill="#b3607c" stroke="#3a2a2a" stroke-width="0.45"/>
<circle cx="734.78" cy="136.41" r="2.85" fill="#b3607c" stroke="#3a2a2a" stroke-width="0.45"/>
<circle cx="747.49" cy="149.6" r="2.85" fill="#f8b48c" stroke="#3a2a2a" stroke-width="0.45"/>
<circle cx="760.22" cy="162.81" r="2.85" fill="#b3607c" stroke="#3a2a2a" stroke-width="0.45"/>
<circle cx="772.96" cy="176.04" r="2.85" fill="#b3607c" stroke="#3a2a2a" stroke-width="0.45"/>
<circle cx="661.64" cy="150.43" r="2.85" fill="#f8b48c" stroke="#3a2a2a" stroke-width="0.45"/>
<circle cx="674.33" cy="163.65" r="2.85" fill="#b3607c" stroke="#3a2a2a" stroke-width="0.45"/>
<circle cx="687.03" cy="176.89" r="2.85" fill="#b3607c" stroke="#3a2a2a" stroke-width="0.45"/>
<circle cx="669.11" cy="124.94" r="2.85" fill="#fefee0" stroke="#3a2a2a" stroke-width="0.45"/>
<circle cx="681.79" cy="138.15" r="2.85" fill="#b3607c" stroke="#3a2a2a" stroke-width="0.45"/>
<circle cx="694.5" cy="151.37" r="2.85" fill="#b3607c" stroke="#3a2a2a" stroke-width="0.45"/>
<circle cx="707.22" cy="164.61" r="2.85" fill="#b3607c" stroke="#3a2a2a" stroke-width="0.45"/>
<circle cx="719.96" cy="177.87" r="2.85" fill="#f8b48c" stroke="#3a2a2a" stroke-width="0.45"/>
<circle cx="676.57" cy="99.45" r="2.85" fill="#fefee0" stroke="#3a2a2a" stroke-width="0.45"/>
<circle cx="689.26" cy="112.64" r="2.85" fill="#fde0a0" stroke="#3a2a2a" stroke-width="0.45"/>
<circle cx="701.97" cy="125.85" r="2.85" fill="#b3607c" stroke="#3a2a2a" stroke-width="0.45"/>
<circle cx="714.69" cy="139.08" r="2.85" fill="#b3607c" stroke="#3a2a2a" stroke-width="0.45"/>
<circle cx="727.44" cy="152.32" r="2.85" fill="#b3607c" stroke="#3a2a2a" stroke-width="0.45"/>
<circle cx="740.19" cy="165.57" r="2.85" fill="#b3607c" stroke="#3a2a2a" stroke-width="0.45"/>
<circle cx="752.97" cy="178.85" r="2.85" fill="#b3607c" stroke="#3a2a2a" stroke-width="0.45"/>
<circle cx="653.99" cy="166.42" r="2.85" fill="#b3607c" stroke="#3a2a2a" stroke-width="0.45"/>
<circle cx="666.72" cy="179.7" r="2.85" fill="#b3607c" stroke="#3a2a2a" stroke-width="0.45"/>
<circle cx="696.73" cy="87.14" r="2.85" fill="#fefee0" stroke="#3a2a2a" stroke-width="0.45"/>
<circle cx="773.25" cy="166.54" r="2.85" fill="#b3607c" stroke="#3a2a2a" stroke-width="0.45"/>
<circle cx="684.03" cy="73.96" r="2.85" fill="#fefee0" stroke="#3a2a2a" stroke-width="0.45"/>
<circle cx="709.44" cy="100.33" r="2.85" fill="#b3607c" stroke="#3a2a2a" stroke-width="0.45"/>
<circle cx="722.17" cy="113.54" r="2.85" fill="#fefee0" stroke="#3a2a2a" stroke-width="0.45"/>
<circle cx="734.92" cy="126.76" r="2.85" fill="#b3607c" stroke="#3a2a2a" stroke-width="0.45"/>
<circle cx="747.68" cy="140.01" r="2.85" fill="#b3607c" stroke="#3a2a2a" stroke-width="0.45"/>
<circle cx="760.46" cy="153.26" r="2.85" fill="#b3607c" stroke="#3a2a2a" stroke-width="0.45"/>
<circle cx="786.06" cy="179.83" r="2.85" fill="#fefee0" stroke="#3a2a2a" stroke-width="0.45"/>
<circle cx="686.97" cy="167.38" r="2.85" fill="#b3607c" stroke="#3a2a2a" stroke-width="0.45"/>
<circle cx="661.48" cy="140.82" r="2.85" fill="#fde0a0" stroke="#3a2a2a" stroke-width="0.45"/>
<circle cx="674.22" cy="154.1" r="2.85" fill="#b3607c" stroke="#3a2a2a" stroke-width="0.45"/>
<circle cx="699.73" cy="180.69" r="2.85" fill="#f8b48c" stroke="#3a2a2a" stroke-width="0.45"/>
<circle cx="720.03" cy="168.35" r="2.85" fill="#b3607c" stroke="#3a2a2a" stroke-width="0.45"/>
<circle cx="668.97" cy="115.23" r="2.85" fill="#fefee0" stroke="#3a2a2a" stroke-width="0.45"/>
<circle cx="681.71" cy="128.49" r="2.85" fill="#f8b48c" stroke="#3a2a2a" stroke-width="0.45"/>
<circle cx="694.47" cy="141.76" r="2.85" fill="#b3607c" stroke="#3a2a2a" stroke-width="0.45"/>
<circle cx="707.24" cy="155.05" r="2.85" fill="#b3607c" stroke="#3a2a2a" stroke-width="0.45"/>
<circle cx="732.83" cy="181.68" r="2.85" fill="#b3607c" stroke="#3a2a2a" stroke-width="0.45"/>
<circle cx="646.27" cy="182.54" r="2.85" fill="#b3607c" stroke="#3a2a2a" stroke-width="0.45"/>
<circle cx="676.46" cy="89.64" r="2.85" fill="#fefee0" stroke="#3a2a2a" stroke-width="0.45"/>
<circle cx="689.21" cy="102.88" r="2.85" fill="#f8b48c" stroke="#3a2a2a" stroke-width="0.45"/>
<circle cx="701.97" cy="116.14" r="2.85" fill="#f8b48c" stroke="#3a2a2a" stroke-width="0.45"/>
<circle cx="714.75" cy="129.41" r="2.85" fill="#b3607c" stroke="#3a2a2a" stroke-width="0.45"/>
<circle cx="753.18" cy="169.33" r="2.85" fill="#b3607c" stroke="#3a2a2a" stroke-width="0.45"/>
<circle cx="766.02" cy="182.67" r="2.85" fill="#fde0a0" stroke="#3a2a2a" stroke-width="0.45"/>
<circle cx="727.54" cy="142.7" r="2.85" fill="#fde0a0" stroke="#3a2a2a" stroke-width="0.45"/>
<circle cx="740.35" cy="156" r="2.85" fill="#b3607c" stroke="#3a2a2a" stroke-width="0.45"/>
<circle cx="666.57" cy="170.17" r="2.85" fill="#b3607c" stroke="#3a2a2a" stroke-width="0.45"/>
<circle cx="653.79" cy="156.84" r="2.85" fill="#f8b48c" stroke="#3a2a2a" stroke-width="0.45"/>
<circle cx="679.37" cy="183.53" r="2.85" fill="#b3607c" stroke="#3a2a2a" stroke-width="0.45"/>
<circle cx="709.47" cy="90.51" r="2.85" fill="#f8b48c" stroke="#3a2a2a" stroke-width="0.45"/>
<circle cx="722.25" cy="103.77" r="2.85" fill="#b3607c" stroke="#3a2a2a" stroke-width="0.45"/>
<circle cx="760.7" cy="143.64" r="2.85" fill="#b3607c" stroke="#3a2a2a" stroke-width="0.45"/>
<circle cx="773.54" cy="156.96" r="2.85" fill="#b3607c" stroke="#3a2a2a" stroke-width="0.45"/>
<circle cx="683.96" cy="64.05" r="2.85" fill="#fefee0" stroke="#3a2a2a" stroke-width="0.45"/>
<circle cx="696.71" cy="77.27" r="2.85" fill="#fefee0" stroke="#3a2a2a" stroke-width="0.45"/>
<circle cx="735.05" cy="117.04" r="2.85" fill="#b3607c" stroke="#3a2a2a" stroke-width="0.45"/>
<circle cx="747.87" cy="130.33" r="2.85" fill="#b3607c" stroke="#3a2a2a" stroke-width="0.45"/>
<circle cx="786.41" cy="170.3" r="2.85" fill="#fde0a0" stroke="#3a2a2a" stroke-width="0.45"/>
<circle cx="799.29" cy="183.66" r="2.85" fill="#fefee0" stroke="#3a2a2a" stroke-width="0.45"/>
<circle cx="674.1" cy="144.46" r="2.85" fill="#fefee0" stroke="#3a2a2a" stroke-width="0.45"/>
<circle cx="686.91" cy="157.8" r="2.85" fill="#b3607c" stroke="#3a2a2a" stroke-width="0.45"/>
<circle cx="661.31" cy="131.14" r="2.85" fill="#fde0a0" stroke="#3a2a2a" stroke-width="0.45"/>
<circle cx="699.73" cy="171.15" r="2.85" fill="#b3607c" stroke="#3a2a2a" stroke-width="0.45"/>
<circle cx="712.56" cy="184.52" r="2.85" fill="#b3607c" stroke="#3a2a2a" stroke-width="0.45"/>
<circle cx="668.84" cy="105.45" r="2.85" fill="#fde0a0" stroke="#3a2a2a" stroke-width="0.45"/>
<circle cx="707.26" cy="145.41" r="2.85" fill="#b3607c" stroke="#3a2a2a" stroke-width="0.45"/>
<circle cx="720.1" cy="158.76" r="2.85" fill="#b3607c" stroke="#3a2a2a" stroke-width="0.45"/>
<circle cx="745.84" cy="185.52" r="2.85" fill="#fefee0" stroke="#3a2a2a" stroke-width="0.45"/>
<circle cx="681.63" cy="118.75" r="2.85" fill="#fefee0" stroke="#3a2a2a" stroke-width="0.45"/>
<circle cx="694.44" cy="132.07" r="2.85" fill="#b3607c" stroke="#3a2a2a" stroke-width="0.45"/>
<circle cx="732.96" cy="172.13" r="2.85" fill="#b3607c" stroke="#3a2a2a" stroke-width="0.45"/>
<circle cx="646.04" cy="172.99" r="2.85" fill="#fde0a0" stroke="#3a2a2a" stroke-width="0.45"/>
<circle cx="658.87" cy="186.39" r="2.85" fill="#b3607c" stroke="#3a2a2a" stroke-width="0.45"/>
<circle cx="689.16" cy="93.04" r="2.85" fill="#fefee0" stroke="#3a2a2a" stroke-width="0.45"/>
<circle cx="701.97" cy="106.34" r="2.85" fill="#fde0a0" stroke="#3a2a2a" stroke-width="0.45"/>
<circle cx="714.8" cy="119.66" r="2.85" fill="#b3607c" stroke="#3a2a2a" stroke-width="0.45"/>
<circle cx="740.51" cy="146.35" r="2.85" fill="#b3607c" stroke="#3a2a2a" stroke-width="0.45"/>
<circle cx="753.39" cy="159.72" r="2.85" fill="#b3607c" stroke="#3a2a2a" stroke-width="0.45"/>
<circle cx="766.28" cy="173.11" r="2.85" fill="#fefee0" stroke="#3a2a2a" stroke-width="0.45"/>
<circle cx="676.36" cy="79.75" r="2.85" fill="#fefee0" stroke="#3a2a2a" stroke-width="0.45"/>
<circle cx="727.65" cy="133" r="2.85" fill="#b3607c" stroke="#3a2a2a" stroke-width="0.45"/>
<circle cx="779.19" cy="186.52" r="2.85" fill="#fefee0" stroke="#3a2a2a" stroke-width="0.45"/>
<circle cx="653.59" cy="147.18" r="2.85" fill="#f8b48c" stroke="#3a2a2a" stroke-width="0.45"/>
<circle cx="666.43" cy="160.57" r="2.85" fill="#b3607c" stroke="#3a2a2a" stroke-width="0.45"/>
<circle cx="692.15" cy="187.39" r="2.85" fill="#b3607c" stroke="#3a2a2a" stroke-width="0.45"/>
<circle cx="679.28" cy="173.97" r="2.85" fill="#b3607c" stroke="#3a2a2a" stroke-width="0.45"/>
<circle cx="683.88" cy="54.05" r="2.85" fill="#fefee0" stroke="#3a2a2a" stroke-width="0.45"/>
<circle cx="696.69" cy="67.32" r="2.85" fill="#fefee0" stroke="#3a2a2a" stroke-width="0.45"/>
<circle cx="709.5" cy="80.61" r="2.85" fill="#f8b48c" stroke="#3a2a2a" stroke-width="0.45"/>
<circle cx="722.34" cy="93.92" r="2.85" fill="#f8b48c" stroke="#3a2a2a" stroke-width="0.45"/>
<circle cx="735.19" cy="107.24" r="2.85" fill="#b3607c" stroke="#3a2a2a" stroke-width="0.45"/>
<circle cx="748.06" cy="120.57" r="2.85" fill="#b3607c" stroke="#3a2a2a" stroke-width="0.45"/>
<circle cx="760.94" cy="133.93" r="2.85" fill="#b3607c" stroke="#3a2a2a" stroke-width="0.45"/>
<circle cx="773.84" cy="147.3" r="2.85" fill="#b3607c" stroke="#3a2a2a" stroke-width="0.45"/>
<circle cx="786.76" cy="160.69" r="2.85" fill="#fefee0" stroke="#3a2a2a" stroke-width="0.45"/>
<circle cx="799.69" cy="174.1" r="2.85" fill="#fde0a0" stroke="#3a2a2a" stroke-width="0.45"/>
<circle cx="812.64" cy="187.52" r="2.85" fill="#fefee0" stroke="#3a2a2a" stroke-width="0.45"/>
<circle cx="661.15" cy="121.38" r="2.85" fill="#fefee0" stroke="#3a2a2a" stroke-width="0.45"/>
<circle cx="673.99" cy="134.75" r="2.85" fill="#b3607c" stroke="#3a2a2a" stroke-width="0.45"/>
<circle cx="686.84" cy="148.13" r="2.85" fill="#f8b48c" stroke="#3a2a2a" stroke-width="0.45"/>
<circle cx="699.72" cy="161.54" r="2.85" fill="#b3607c" stroke="#3a2a2a" stroke-width="0.45"/>
<circle cx="712.61" cy="174.96" r="2.85" fill="#b3607c" stroke="#3a2a2a" stroke-width="0.45"/>
<circle cx="725.51" cy="188.39" r="2.85" fill="#f8b48c" stroke="#3a2a2a" stroke-width="0.45"/>
<circle cx="638.23" cy="189.26" r="2.85" fill="#b3607c" stroke="#3a2a2a" stroke-width="0.45"/>
<circle cx="668.7" cy="95.58" r="2.85" fill="#fefee0" stroke="#3a2a2a" stroke-width="0.45"/>
<circle cx="681.55" cy="108.93" r="2.85" fill="#fefee0" stroke="#3a2a2a" stroke-width="0.45"/>
<circle cx="694.41" cy="122.3" r="2.85" fill="#fefee0" stroke="#3a2a2a" stroke-width="0.45"/>
<circle cx="707.29" cy="135.68" r="2.85" fill="#f8b48c" stroke="#3a2a2a" stroke-width="0.45"/>
<circle cx="720.18" cy="149.09" r="2.85" fill="#b3607c" stroke="#3a2a2a" stroke-width="0.45"/>
<circle cx="733.09" cy="162.51" r="2.85" fill="#b3607c" stroke="#3a2a2a" stroke-width="0.45"/>
<circle cx="746.02" cy="175.94" r="2.85" fill="#fefee0" stroke="#3a2a2a" stroke-width="0.45"/>
<circle cx="758.96" cy="189.4" r="2.85" fill="#fefee0" stroke="#3a2a2a" stroke-width="0.45"/>
<circle cx="645.81" cy="163.36" r="2.85" fill="#f8b48c" stroke="#3a2a2a" stroke-width="0.45"/>
<circle cx="658.69" cy="176.81" r="2.85" fill="#b3607c" stroke="#3a2a2a" stroke-width="0.45"/>
<circle cx="671.59" cy="190.27" r="2.85" fill="#b3607c" stroke="#3a2a2a" stroke-width="0.45"/>
<circle cx="701.97" cy="96.46" r="2.85" fill="#fde0a0" stroke="#3a2a2a" stroke-width="0.45"/>
<circle cx="714.85" cy="109.83" r="2.85" fill="#b3607c" stroke="#3a2a2a" stroke-width="0.45"/>
<circle cx="676.26" cy="69.78" r="2.85" fill="#fefee0" stroke="#3a2a2a" stroke-width="0.45"/>
<circle cx="689.11" cy="83.11" r="2.85" fill="#fefee0" stroke="#3a2a2a" stroke-width="0.45"/>
<circle cx="727.75" cy="123.22" r="2.85" fill="#b3607c" stroke="#3a2a2a" stroke-width="0.45"/>
<circle cx="740.67" cy="136.62" r="2.85" fill="#b3607c" stroke="#3a2a2a" stroke-width="0.45"/>
<circle cx="753.6" cy="150.04" r="2.85" fill="#b3607c" stroke="#3a2a2a" stroke-width="0.45"/>
<circle cx="766.55" cy="163.48" r="2.85" fill="#fefee0" stroke="#3a2a2a" stroke-width="0.45"/>
<circle cx="779.51" cy="176.94" r="2.85" fill="#fefee0" stroke="#3a2a2a" stroke-width="0.45"/>
<circle cx="792.5" cy="190.41" r="2.85" fill="#fefee0" stroke="#3a2a2a" stroke-width="0.45"/>
<circle cx="653.4" cy="137.45" r="2.85" fill="#fefee0" stroke="#3a2a2a" stroke-width="0.45"/>
<circle cx="666.28" cy="150.88" r="2.85" fill="#b3607c" stroke="#3a2a2a" stroke-width="0.45"/>
<circle cx="679.19" cy="164.33" r="2.85" fill="#b3607c" stroke="#3a2a2a" stroke-width="0.45"/>
<circle cx="692.11" cy="177.8" r="2.85" fill="#b3607c" stroke="#3a2a2a" stroke-width="0.45"/>
<circle cx="705.05" cy="191.28" r="2.85" fill="#fefee0" stroke="#3a2a2a" stroke-width="0.45"/>
<circle cx="660.98" cy="111.54" r="2.85" fill="#fdfdcc" stroke="#3a2a2a" stroke-width="0.45"/>
<circle cx="673.87" cy="124.96" r="2.85" fill="#fcd27c" stroke="#3a2a2a" stroke-width="0.45"/>
<circle cx="686.78" cy="138.39" r="2.85" fill="#8c1a3e" stroke="#3a2a2a" stroke-width="0.45"/>
<circle cx="738.59" cy="192.3" r="2.85" fill="#fcd27c" stroke="#3a2a2a" stroke-width="0.45"/>
<circle cx="699.71" cy="151.84" r="2.85" fill="#8c1a3e" stroke="#3a2a2a" stroke-width="0.45"/>
<circle cx="712.65" cy="165.31" r="2.85" fill="#8c1a3e" stroke="#3a2a2a" stroke-width="0.45"/>
<circle cx="725.61" cy="178.8" r="2.85" fill="#fdfdcc" stroke="#3a2a2a" stroke-width="0.45"/>
<circle cx="637.96" cy="179.66" r="2.85" fill="#f4883a" stroke="#3a2a2a" stroke-width="0.45"/>
<circle cx="650.89" cy="193.18" r="2.85" fill="#8c1a3e" stroke="#3a2a2a" stroke-width="0.45"/>
<circle cx="746.2" cy="166.29" r="2.85" fill="#fcd27c" stroke="#3a2a2a" stroke-width="0.45"/>
<circle cx="668.57" cy="85.63" r="2.85" fill="#fdfdcc" stroke="#3a2a2a" stroke-width="0.45"/>
<circle cx="681.46" cy="99.03" r="2.85" fill="#fdfdcc" stroke="#3a2a2a" stroke-width="0.45"/>
<circle cx="694.38" cy="112.45" r="2.85" fill="#fdfdcc" stroke="#3a2a2a" stroke-width="0.45"/>
<circle cx="707.31" cy="125.88" r="2.85" fill="#8c1a3e" stroke="#3a2a2a" stroke-width="0.45"/>
<circle cx="720.26" cy="139.33" r="2.85" fill="#f4883a" stroke="#3a2a2a" stroke-width="0.45"/>
<circle cx="733.22" cy="152.8" r="2.85" fill="#f4883a" stroke="#3a2a2a" stroke-width="0.45"/>
<circle cx="759.2" cy="179.79" r="2.85" fill="#f4883a" stroke="#3a2a2a" stroke-width="0.45"/>
<circle cx="772.21" cy="193.31" r="2.85" fill="#fdfdcc" stroke="#3a2a2a" stroke-width="0.45"/>
<circle cx="645.58" cy="153.65" r="2.85" fill="#fcd27c" stroke="#3a2a2a" stroke-width="0.45"/>
<circle cx="658.51" cy="167.15" r="2.85" fill="#f4883a" stroke="#3a2a2a" stroke-width="0.45"/>
<circle cx="684.44" cy="194.2" r="2.85" fill="#8c1a3e" stroke="#3a2a2a" stroke-width="0.45"/>
<circle cx="671.47" cy="180.66" r="2.85" fill="#8c1a3e" stroke="#3a2a2a" stroke-width="0.45"/>
<circle cx="692.07" cy="168.13" r="2.85" fill="#f4883a" stroke="#3a2a2a" stroke-width="0.45"/>
<circle cx="653.2" cy="127.63" r="2.85" fill="#fdfdcc" stroke="#3a2a2a" stroke-width="0.45"/>
<circle cx="666.14" cy="141.11" r="2.85" fill="#fdfdcc" stroke="#3a2a2a" stroke-width="0.45"/>
<circle cx="679.09" cy="154.61" r="2.85" fill="#f4883a" stroke="#3a2a2a" stroke-width="0.45"/>
<circle cx="705.06" cy="181.67" r="2.85" fill="#8c1a3e" stroke="#3a2a2a" stroke-width="0.45"/>
<circle cx="718.07" cy="195.22" r="2.85" fill="#fdfdcc" stroke="#3a2a2a" stroke-width="0.45"/>
<circle cx="630.05" cy="196.11" r="2.85" fill="#8c1a3e" stroke="#3a2a2a" stroke-width="0.45"/>
<circle cx="660.81" cy="101.61" r="2.85" fill="#fdfdcc" stroke="#3a2a2a" stroke-width="0.45"/>
<circle cx="673.76" cy="115.08" r="2.85" fill="#fdfdcc" stroke="#3a2a2a" stroke-width="0.45"/>
<circle cx="686.72" cy="128.56" r="2.85" fill="#f4883a" stroke="#3a2a2a" stroke-width="0.45"/>
<circle cx="699.7" cy="142.07" r="2.85" fill="#8c1a3e" stroke="#3a2a2a" stroke-width="0.45"/>
<circle cx="712.7" cy="155.58" r="2.85" fill="#f4883a" stroke="#3a2a2a" stroke-width="0.45"/>
<circle cx="725.71" cy="169.12" r="2.85" fill="#fcd27c" stroke="#3a2a2a" stroke-width="0.45"/>
<circle cx="738.74" cy="182.67" r="2.85" fill="#fdfdcc" stroke="#3a2a2a" stroke-width="0.45"/>
<circle cx="751.79" cy="196.24" r="2.85" fill="#fdfdcc" stroke="#3a2a2a" stroke-width="0.45"/>
<circle cx="637.7" cy="169.98" r="2.85" fill="#8c1a3e" stroke="#3a2a2a" stroke-width="0.45"/>
<circle cx="663.68" cy="197.13" r="2.85" fill="#8c1a3e" stroke="#3a2a2a" stroke-width="0.45"/>
<circle cx="650.68" cy="183.55" r="2.85" fill="#f4883a" stroke="#3a2a2a" stroke-width="0.45"/>
<circle cx="645.34" cy="143.86" r="2.85" fill="#fdfdcc" stroke="#3a2a2a" stroke-width="0.45"/>
<circle cx="658.33" cy="157.41" r="2.85" fill="#8c1a3e" stroke="#3a2a2a" stroke-width="0.45"/>
<circle cx="671.34" cy="170.97" r="2.85" fill="#fdfdcc" stroke="#3a2a2a" stroke-width="0.45"/>
<circle cx="684.37" cy="184.56" r="2.85" fill="#f4883a" stroke="#3a2a2a" stroke-width="0.45"/>
<circle cx="697.41" cy="198.16" r="2.85" fill="#fdfdcc" stroke="#3a2a2a" stroke-width="0.45"/>
<circle cx="652.99" cy="117.73" r="2.85" fill="#fdfdcc" stroke="#3a2a2a" stroke-width="0.45"/>
<circle cx="665.99" cy="131.27" r="2.85" fill="#fdfdcc" stroke="#3a2a2a" stroke-width="0.45"/>
<circle cx="692.03" cy="158.38" r="2.85" fill="#fcd27c" stroke="#3a2a2a" stroke-width="0.45"/>
<circle cx="705.07" cy="171.97" r="2.85" fill="#f4883a" stroke="#3a2a2a" stroke-width="0.45"/>
<circle cx="731.22" cy="199.19" r="2.85" fill="#fdfdcc" stroke="#3a2a2a" stroke-width="0.45"/>
<circle cx="679" cy="144.82" r="2.85" fill="#f4883a" stroke="#3a2a2a" stroke-width="0.45"/>
<circle cx="718.14" cy="185.57" r="2.85" fill="#f4883a" stroke="#3a2a2a" stroke-width="0.45"/>
<circle cx="629.75" cy="186.45" r="2.85" fill="#8c1a3e" stroke="#3a2a2a" stroke-width="0.45"/>
<circle cx="642.78" cy="200.09" r="2.85" fill="#8c1a3e" stroke="#3a2a2a" stroke-width="0.45"/>
<circle cx="637.43" cy="160.22" r="2.85" fill="#f4883a" stroke="#3a2a2a" stroke-width="0.45"/>
<circle cx="650.47" cy="173.84" r="2.85" fill="#8c1a3e" stroke="#3a2a2a" stroke-width="0.45"/>
<circle cx="663.52" cy="187.47" r="2.85" fill="#f4883a" stroke="#3a2a2a" stroke-width="0.45"/>
<circle cx="676.6" cy="201.12" r="2.85" fill="#f4883a" stroke="#3a2a2a" stroke-width="0.45"/>
<circle cx="684.29" cy="174.84" r="2.85" fill="#f4883a" stroke="#3a2a2a" stroke-width="0.45"/>
<circle cx="645.11" cy="133.99" r="2.85" fill="#fdfdcc" stroke="#3a2a2a" stroke-width="0.45"/>
<circle cx="658.15" cy="147.59" r="2.85" fill="#8c1a3e" stroke="#3a2a2a" stroke-width="0.45"/>
<circle cx="671.21" cy="161.2" r="2.85" fill="#f4883a" stroke="#3a2a2a" stroke-width="0.45"/>
<circle cx="697.39" cy="188.49" r="2.85" fill="#8c1a3e" stroke="#3a2a2a" stroke-width="0.45"/>
<circle cx="710.5" cy="202.16" r="2.85" fill="#fdfdcc" stroke="#3a2a2a" stroke-width="0.45"/>
<circle cx="621.73" cy="203.06" r="2.85" fill="#8c1a3e" stroke="#3a2a2a" stroke-width="0.45"/>
<circle cx="629.45" cy="176.72" r="2.85" fill="#8c1a3e" stroke="#3a2a2a" stroke-width="0.45"/>
<circle cx="655.64" cy="204.11" r="2.85" fill="#8c1a3e" stroke="#3a2a2a" stroke-width="0.45"/>
<circle cx="642.53" cy="190.4" r="2.85" fill="#8c1a3e" stroke="#3a2a2a" stroke-width="0.45"/>
<circle cx="637.16" cy="150.37" r="2.85" fill="#f4883a" stroke="#3a2a2a" stroke-width="0.45"/>
<circle cx="663.36" cy="177.73" r="2.85" fill="#8c1a3e" stroke="#3a2a2a" stroke-width="0.45"/>
<circle cx="689.64" cy="205.15" r="2.85" fill="#fdfdcc" stroke="#3a2a2a" stroke-width="0.45"/>
<circle cx="650.25" cy="164.04" r="2.85" fill="#f4883a" stroke="#3a2a2a" stroke-width="0.45"/>
<circle cx="676.49" cy="191.43" r="2.85" fill="#8c1a3e" stroke="#3a2a2a" stroke-width="0.45"/>
<circle cx="621.39" cy="193.36" r="2.85" fill="#f4883a" stroke="#3a2a2a" stroke-width="0.45"/>
<circle cx="634.53" cy="207.11" r="2.85" fill="#8c1a3e" stroke="#3a2a2a" stroke-width="0.45"/>
<circle cx="629.14" cy="166.9" r="2.85" fill="#fdfdcc" stroke="#3a2a2a" stroke-width="0.45"/>
<circle cx="642.28" cy="180.64" r="2.85" fill="#f4883a" stroke="#3a2a2a" stroke-width="0.45"/>
<circle cx="655.45" cy="194.39" r="2.85" fill="#8c1a3e" stroke="#3a2a2a" stroke-width="0.45"/>
<circle cx="668.62" cy="208.16" r="2.85" fill="#8c1a3e" stroke="#3a2a2a" stroke-width="0.45"/>
<circle cx="613.28" cy="210.14" r="2.85" fill="#f4883a" stroke="#3a2a2a" stroke-width="0.45"/>
<circle cx="621.05" cy="183.57" r="2.85" fill="#f4883a" stroke="#3a2a2a" stroke-width="0.45"/>
<circle cx="647.46" cy="211.2" r="2.85" fill="#8c1a3e" stroke="#3a2a2a" stroke-width="0.45"/>
<circle cx="634.25" cy="197.38" r="2.85" fill="#f4883a" stroke="#3a2a2a" stroke-width="0.45"/>
<circle cx="612.9" cy="200.38" r="2.85" fill="#f4883a" stroke="#3a2a2a" stroke-width="0.45"/>
<circle cx="626.15" cy="214.25" r="2.85" fill="#f4883a" stroke="#3a2a2a" stroke-width="0.45"/>
<circle cx="604.68" cy="217.33" r="2.85" fill="#8c1a3e" stroke="#3a2a2a" stroke-width="0.45"/>
<path d="M594.35,113.65L599.07,220.61M599.67,221.21L740.87,267.51M742.57,266.71L818.32,189.51M598.98,217.98l-3.5,1.6M602.45,222.28l-2.6,3M816.74,191.12l3.6,0.9M597.89,193.28l-3.5,1.6M635.05,232.89l-2.6,3M799.8,208.43l3.6,0.9M596.77,168.04l-3.5,1.6M668.46,243.76l-2.6,3M782.13,226.49l3.6,0.9M595.62,142.25l-3.5,1.6M702.74,254.91l-2.6,3M763.69,245.34l3.6,0.9M594.45,115.88l-3.5,1.6M737.9,266.35l-2.6,3M744.42,265.03l3.6,0.9" fill="none" stroke="#1a1a1a" stroke-width="1"/>
<text x="581.3" y="120.4" font-size="14.2" fill="#231f20" text-anchor="middle">1</text>
<text x="572.3" y="144.7" font-size="14.2" fill="#231f20" text-anchor="middle" textLength="28.6" lengthAdjust="spacingAndGlyphs">0.75</text>
<text x="578.2" y="176.2" font-size="14.2" fill="#231f20" text-anchor="middle" textLength="22" lengthAdjust="spacingAndGlyphs">0.5</text>
<text x="575.1" y="209" font-size="14.2" fill="#231f20" text-anchor="middle" textLength="30.8" lengthAdjust="spacingAndGlyphs">0.25</text>
<text x="582.8" y="230" font-size="14.2" fill="#231f20" text-anchor="middle">0</text>
<text x="593.05" y="240.7" font-size="14.2" fill="#231f20" text-anchor="middle">0</text>
<text x="619.7" y="253.7" font-size="14.2" fill="#231f20" text-anchor="middle" textLength="31" lengthAdjust="spacingAndGlyphs">0.25</text>
<text x="658.95" y="261.2" font-size="14.2" fill="#231f20" text-anchor="middle" textLength="22.5" lengthAdjust="spacingAndGlyphs">0.5</text>
<text x="692.1" y="274.7" font-size="14.2" fill="#231f20" text-anchor="middle" textLength="28.8" lengthAdjust="spacingAndGlyphs">07.5</text>
<text x="731.1" y="284.5" font-size="14.2" fill="#231f20" text-anchor="middle">1</text>
<text x="833.85" y="194.4" font-size="14.2" fill="#231f20" text-anchor="middle">0</text>
<text x="823.5" y="212.9" font-size="14.2" fill="#231f20" text-anchor="middle" textLength="30" lengthAdjust="spacingAndGlyphs">0.25</text>
<text x="802.65" y="239.8" font-size="14.2" fill="#231f20" text-anchor="middle" textLength="22.3" lengthAdjust="spacingAndGlyphs">0.5</text>
<text x="785.35" y="259.6" font-size="14.2" fill="#231f20" text-anchor="middle" textLength="28.5" lengthAdjust="spacingAndGlyphs">07.5</text>
<text x="757" y="279.4" font-size="14.2" fill="#231f20" text-anchor="middle">1</text>
<text x="544.5" y="205.8" font-size="17.5" fill="#231f20" textLength="67.8" lengthAdjust="spacingAndGlyphs" transform="rotate(-90 544.5 205.8)">Glycerol</text>
<text x="649" y="279.5" font-size="17.5" fill="#231f20" text-anchor="middle" transform="rotate(21 649 279.5)">CNF</text>
<text x="824.6" y="261" font-size="17.5" fill="#231f20" text-anchor="middle" transform="rotate(-47 824.6 261)">MMT</text>
<circle cx="614.9" cy="299.8" r="6.9" fill="#a3466a" stroke="#444" stroke-width="0.9"/>
<circle cx="679" cy="299.8" r="6.9" fill="#f8ab7c" stroke="#444" stroke-width="0.9"/>
<circle cx="745" cy="299.8" r="6.9" fill="#fcd98f" stroke="#444" stroke-width="0.9"/>
<circle cx="810" cy="299.8" r="6.9" fill="#fcfcd2" stroke="#444" stroke-width="0.9"/>
<rect x="584.5" y="310" width="61.9" height="61.6" fill="#ffffff" stroke="#222" stroke-width="1.1"/>
<rect x="585.1" y="331.8" width="60.7" height="39.2" fill="#4aa6da"/>
<text x="593" y="325.8" font-size="12.6" fill="#231f20" textLength="49" lengthAdjust="spacingAndGlyphs">A Grade</text>
<rect x="649.3" y="310" width="61.7" height="61.6" fill="#ffffff" stroke="#222" stroke-width="1.1"/>
<rect x="649.9" y="331.8" width="60.5" height="39.2" fill="#4aa6da"/>
<text x="657.5" y="325.8" font-size="12.6" fill="#231f20" textLength="48.5" lengthAdjust="spacingAndGlyphs">B Grade</text>
<rect x="714.3" y="310" width="61.5" height="61.6" fill="#ffffff" stroke="#222" stroke-width="1.1"/>
<rect x="714.9" y="331.8" width="60.3" height="39.2" fill="#4aa6da"/>
<text x="722.5" y="325.8" font-size="12.6" fill="#231f20" textLength="48.5" lengthAdjust="spacingAndGlyphs">C Grade</text>
<rect x="779.1" y="310" width="61.9" height="61.6" fill="#ffffff" stroke="#222" stroke-width="1.1"/>
<rect x="779.7" y="331.8" width="60.7" height="39.2" fill="#4aa6da"/>
<text x="787" y="325.8" font-size="12.6" fill="#231f20" textLength="49" lengthAdjust="spacingAndGlyphs">D Grade</text>
<g filter="url(#blurP)">
<path d="M603,333.5 L624,333.5 L632,342 L632,360 L624,368.5 L603,368.5 L595,360 L595,342 Z" fill="#d2e6f2" opacity="0.88"/>
<path d="M606,340 q8,6 18,2 M600,355 q14,-4 28,4" stroke="#e8f2f8" stroke-width="2" fill="none" opacity="0.7"/>
<ellipse cx="680" cy="350.5" rx="19" ry="18" fill="#cfe4f1" opacity="0.72"/>
<path d="M666,342 q10,-8 24,-2 M664,350 q14,6 30,-4 M668,358 q10,-6 22,2 q4,4 -4,8 M675,337 q6,10 -2,20" stroke="#ffffff" stroke-width="1.4" fill="none" opacity="0.9"/>
<path d="M729,334 L754,333 L748,340 L733,341 Z M727,350 L750,343 L754,360 L736,369 L725,362 Z M752,340 L764,337 L765,366 L752,369 L749,352 Z" fill="#b4d0d4" opacity="0.8"/>
<path d="M791.5,334.5 L829,334.5 L829,371 L791.5,371 Z" fill="#dde6ee"/>
<path d="M791.5,334.5 L797,341 L824,341 L829,334.5 M791.5,371 L797,366 L824,366 L829,371" stroke="#c8d2dc" stroke-width="0.8" fill="none"/>
<path d="M800,340.5 L820,340.5 L825,346 L825,361 L820,366.5 L800,366.5 L796,361 L796,346 Z" fill="#f6f8fa"/>
</g>
<polygon points="1003.26,149.03 919.87,218.48 914.9,111.89 1002.27,48.57" fill="#f1f1f1" stroke="#dcdcdc" stroke-width="0.6"/>
<polygon points="1003.26,149.03 1136.83,188.13 1141.77,84.22 1002.27,48.57" fill="#f7f7f7" stroke="#dcdcdc" stroke-width="0.6"/>
<polygon points="1003.26,149.03 1136.83,188.13 1061.45,265 919.87,218.48" fill="#f3f3f3" stroke="#dcdcdc" stroke-width="0.6"/>
<path d="M1005.81,149.78L922.56,219.36M1001.73,150.31L1135.45,189.54M1001.73,150.31L1000.67,49.73M1003.24,147.1L919.77,216.44M1005.81,149.78L1004.93,49.25M1003.24,147.1L1136.93,186.14M1036.76,158.84L955.26,230.11M982.92,165.97L1118.51,206.82M982.92,165.97L981.02,63.97M1003.01,123.71L918.62,191.69M1036.76,158.84L1037.2,57.5M1003.01,123.71L1138.08,161.98M1068.44,168.11L988.79,241.13M963.34,182.28L1100.83,224.85M963.34,182.28L960.53,78.82M1002.78,99.85L917.44,166.4M1068.44,168.11L1070.26,65.95M1002.78,99.85L1139.25,137.32M1100.85,177.6L1023.19,252.43M942.95,199.26L1082.38,243.66M942.95,199.26L939.15,94.32M1002.54,75.5L916.24,140.55M1100.85,177.6L1104.13,74.6M1002.54,75.5L1140.45,112.12M1134.03,187.31L1058.47,264.02M921.68,216.97L1063.1,263.33M921.68,216.97L916.81,110.51M1002.29,50.66L915,114.12M1134.03,187.31L1138.84,83.47M1002.29,50.66L1141.67,86.39" fill="none" stroke="#bfbfbf" stroke-width="0.9"/>
<g opacity="0.9" filter="url(#blurS)"><polygon points="1003.41,149.09 1000.01,151.92 1003.37,144.83" fill="#d4101f"/><polygon points="1000.16,151.99 1000.12,147.71 1003.52,144.89" fill="#d6111f"/><polygon points="1003.38,145.38 999.97,148.2 1003.33,141.1" fill="#d8121e"/><polygon points="1000.12,148.27 1000.08,143.98 1003.48,141.17" fill="#d9131e"/><polygon points="1003.34,141.66 999.93,144.47 1003.3,137.36" fill="#dc151d"/><polygon points="1000.08,144.54 1000.03,140.23 1003.45,137.43" fill="#dd161d"/><polygon points="1003.3,137.93 999.89,140.73 1003.26,133.62" fill="#e31a1c"/><polygon points="1000.04,140.79 999.99,136.48 1003.41,133.68" fill="#e7221e"/><polygon points="1003.27,134.18 999.85,136.97 1003.22,129.86" fill="#ee3222"/><polygon points="1000,137.04 999.95,132.71 1003.37,129.92" fill="#f23b24"/><polygon points="1003.23,130.42 999.8,133.21 1003.19,126.09" fill="#fa4b29"/><polygon points="999.95,133.27 999.91,128.93 1003.34,126.15" fill="#fc562c"/><polygon points="1003.19,126.65 999.76,129.43 1003.15,122.3" fill="#fc7033"/><polygon points="999.91,129.5 999.86,125.14 1003.3,122.37" fill="#fc7c37"/><polygon points="1003.16,122.87 999.72,125.64 1003.11,118.51" fill="#fd923e"/><polygon points="999.87,125.71 999.82,121.33 1003.26,118.58" fill="#fd9941"/><polygon points="1003.12,119.08 999.68,121.83 1003.07,114.7" fill="#fda345"/><polygon points="999.83,121.9 999.78,117.52 1003.23,114.77" fill="#fda847"/><polygon points="1003.08,115.27 999.63,118.02 1003.04,110.88" fill="#fdb14b"/><polygon points="999.78,118.09 999.74,113.69 1003.19,110.95" fill="#feb650"/><polygon points="1003.04,111.45 999.59,114.19 1003,107.05" fill="#fec05b"/><polygon points="999.74,114.26 999.69,109.85 1003.15,107.12" fill="#fec661"/><polygon points="1003.01,107.62 999.55,110.35 1002.96,103.2" fill="#fecd69"/><polygon points="999.7,110.42 999.65,105.99 1003.11,103.28" fill="#fed16d"/><polygon points="1002.97,103.78 999.5,106.5 1002.92,99.34" fill="#fed976"/><polygon points="999.66,106.57 999.61,102.13 1003.08,99.42" fill="#fedb7a"/><polygon points="1002.93,99.92 999.46,102.63 1002.89,95.48" fill="#fedf82"/><polygon points="999.61,102.71 999.56,98.25 1003.04,95.55" fill="#fee186"/><polygon points="1002.89,96.06 999.42,98.75 1002.85,91.59" fill="#fee48e"/><polygon points="999.57,98.83 999.52,94.36 1003,91.67" fill="#fee691"/><polygon points="1002.85,92.18 999.37,94.86 1002.81,87.7" fill="#fee896"/><polygon points="999.53,94.94 999.48,90.45 1002.96,87.78" fill="#fee999"/><polygon points="1002.82,88.28 999.33,90.96 1002.77,83.79" fill="#feec9f"/><polygon points="999.48,91.04 999.43,86.54 1002.93,83.87" fill="#ffeea2"/><polygon points="1002.78,84.38 999.28,87.05 1002.73,79.87" fill="#fff0a8"/><polygon points="999.44,87.13 999.39,82.61 1002.89,79.95" fill="#fff2ac"/><polygon points="1002.74,80.46 999.24,83.12 1002.69,75.94" fill="#fff3b0"/><polygon points="999.39,83.2 999.34,78.67 1002.85,76.02" fill="#fff4b1"/><polygon points="1002.7,76.53 999.19,79.18 1002.66,72" fill="#fff4b3"/><polygon points="999.35,79.26 999.3,74.71 1002.81,72.08" fill="#fff5b4"/><polygon points="1002.66,72.59 999.15,75.22 1002.62,68.04" fill="#fff5b5"/><polygon points="999.31,75.31 999.25,70.75 1002.77,68.12" fill="#fff6b7"/><polygon points="1002.62,68.63 999.11,71.26 1002.58,64.07" fill="#fff7b8"/><polygon points="999.26,71.34 999.21,66.77 1002.73,64.15" fill="#fff7ba"/><polygon points="1002.58,64.66 999.06,67.28 1002.54,60.08" fill="#fff8bb"/><polygon points="999.22,67.36 999.17,62.77 1002.69,60.17" fill="#fff8bc"/><polygon points="1002.54,60.68 999.02,63.29 1002.5,56.09" fill="#fff9be"/><polygon points="999.17,63.37 999.12,58.77 1002.66,56.18" fill="#fff9bf"/><polygon points="1002.51,56.69 998.97,59.28 1002.46,52.08" fill="#fffac0"/><polygon points="999.13,59.37 999.08,54.75 1002.62,52.17" fill="#fffbc2"/><polygon points="1002.47,52.68 998.93,55.26 1002.42,48.06" fill="#fffbc3"/><polygon points="1000.46,151.55 997.04,154.4 1000.41,147.28" fill="#d4101f"/><polygon points="997.19,154.46 997.14,150.18 1000.56,147.34" fill="#d6111f"/><polygon points="1000.42,147.84 996.99,150.67 1000.37,143.54" fill="#d8121e"/><polygon points="997.14,150.74 997.09,146.44 1000.52,143.61" fill="#d9131e"/><polygon points="1000.38,144.1 996.95,146.93 1000.33,139.8" fill="#dc151d"/><polygon points="997.1,147 997.04,142.68 1000.48,139.86" fill="#dd161d"/><polygon points="1000.34,140.36 996.9,143.18 1000.29,136.04" fill="#e31a1c"/><polygon points="997.05,143.25 997,138.92 1000.44,136.11" fill="#e7221e"/><polygon points="1000.29,136.61 996.85,139.42 1000.25,132.28" fill="#ee3222"/><polygon points="997,139.49 996.95,135.14 1000.4,132.34" fill="#f23b24"/><polygon points="1000.25,132.84 996.8,135.64 1000.2,128.5" fill="#fa4b29"/><polygon points="996.96,135.71 996.9,131.36 1000.36,128.56" fill="#fc562c"/><polygon points="1000.21,129.06 996.76,131.86 1000.16,124.7" fill="#fc7033"/><polygon points="996.91,131.93 996.86,127.56 1000.31,124.77" fill="#fc7c37"/><polygon points="1000.17,125.27 996.71,128.06 1000.12,120.9" fill="#fd923e"/><polygon points="996.86,128.13 996.81,123.74 1000.27,120.97" fill="#fd9941"/><polygon points="1000.13,121.47 996.66,124.25 1000.08,117.08" fill="#fda345"/><polygon points="996.81,124.32 996.76,119.92 1000.23,117.15" fill="#fda847"/><polygon points="1000.08,117.66 996.61,120.42 1000.03,113.26" fill="#fdb14b"/><polygon points="996.77,120.49 996.71,116.08 1000.19,113.33" fill="#feb650"/><polygon points="1000.04,113.83 996.57,116.58 999.99,109.42" fill="#fec05b"/><polygon points="996.72,116.66 996.66,112.23 1000.15,109.49" fill="#fec661"/><polygon points="1000,109.99 996.52,112.74 999.95,105.56" fill="#fecd69"/><polygon points="996.67,112.81 996.62,108.37 1000.1,105.64" fill="#fed16d"/><polygon points="999.96,106.14 996.47,108.88 999.91,101.7" fill="#fed976"/><polygon points="996.62,108.95 996.57,104.5 1000.06,101.77" fill="#fedb7a"/><polygon points="999.91,102.28 996.42,105 999.86,97.82" fill="#fedf82"/><polygon points="996.57,105.08 996.52,100.61 1000.02,97.89" fill="#fee186"/><polygon points="999.87,98.4 996.37,101.12 999.82,93.93" fill="#fee48e"/><polygon points="996.53,101.19 996.47,96.71 999.98,94.01" fill="#fee691"/><polygon points="999.83,94.51 996.32,97.22 999.78,90.03" fill="#fee896"/><polygon points="996.48,97.29 996.42,92.8 999.93,90.1" fill="#fee999"/><polygon points="999.78,90.61 996.27,93.31 999.73,86.11" fill="#feec9f"/><polygon points="996.43,93.38 996.37,88.87 999.89,86.19" fill="#ffeea2"/><polygon points="999.74,86.7 996.22,89.38 999.69,82.18" fill="#fff0a8"/><polygon points="996.38,89.46 996.32,84.93 999.85,82.26" fill="#fff2ac"/><polygon points="999.7,82.77 996.17,85.44 999.65,78.24" fill="#fff3b0"/><polygon points="996.33,85.53 996.27,80.98 999.8,78.32" fill="#fff4b1"/><polygon points="999.65,78.83 996.13,81.5 999.6,74.29" fill="#fff4b3"/><polygon points="996.28,81.58 996.22,77.02 999.76,74.37" fill="#fff5b4"/><polygon points="999.61,74.88 996.08,77.53 999.56,70.32" fill="#fff5b5"/><polygon points="996.23,77.62 996.17,73.04 999.72,70.4" fill="#fff6b7"/><polygon points="999.57,70.92 996.03,73.56 999.51,66.34" fill="#fff7b8"/><polygon points="996.18,73.64 996.12,69.06 999.67,66.42" fill="#fff7ba"/><polygon points="999.52,66.94 995.98,69.57 999.47,62.35" fill="#fff8bb"/><polygon points="996.13,69.65 996.08,65.05 999.63,62.43" fill="#fff8bc"/><polygon points="999.48,62.95 995.93,65.57 999.43,58.34" fill="#fff9be"/><polygon points="996.08,65.65 996.02,61.04 999.58,58.43" fill="#fff9bf"/><polygon points="999.43,58.94 995.87,61.55 999.38,54.32" fill="#fffac0"/><polygon points="997.49,154.03 994.05,156.9 997.43,149.74" fill="#d4101f"/><polygon points="994.2,156.96 994.14,152.66 997.59,149.81" fill="#d6111f"/><polygon points="997.44,150.3 993.99,153.16 997.39,146" fill="#d8121e"/><polygon points="994.15,153.22 994.09,148.91 997.54,146.07" fill="#d9131e"/><polygon points="997.39,146.56 993.94,149.41 997.34,142.25" fill="#dc151d"/><polygon points="994.1,149.48 994.04,145.15 997.49,142.32" fill="#dd161d"/><polygon points="997.35,142.81 993.89,145.65 997.29,138.49" fill="#e31a1c"/><polygon points="994.04,145.72 993.98,141.38 997.45,138.55" fill="#e7221e"/><polygon points="997.3,139.05 993.84,141.88 997.25,134.71" fill="#ee3222"/><polygon points="993.99,141.95 993.93,137.6 997.4,134.78" fill="#f23b24"/><polygon points="997.26,135.28 993.79,138.1 997.2,130.92" fill="#fa4b29"/><polygon points="993.94,138.16 993.88,133.8 997.35,130.99" fill="#fc562c"/><polygon points="997.21,131.49 993.73,134.3 997.15,127.12" fill="#fc7033"/><polygon points="993.89,134.37 993.83,129.99 997.31,127.19" fill="#fc7c37"/><polygon points="997.16,127.69 993.68,130.49 997.11,123.31" fill="#fd923e"/><polygon points="993.83,130.56 993.77,126.17 997.26,123.38" fill="#fd9941"/><polygon points="997.11,123.88 993.63,126.67 997.06,119.49" fill="#fda345"/><polygon points="993.78,126.74 993.72,122.34 997.21,119.56" fill="#fda847"/><polygon points="997.07,120.06 993.57,122.84 997.01,115.65" fill="#fdb14b"/><polygon points="993.73,122.91 993.67,118.49 997.17,115.72" fill="#feb650"/><polygon points="997.02,116.23 993.52,119 996.97,111.8" fill="#fec05b"/><polygon points="993.68,119.07 993.62,114.63 997.12,111.87" fill="#fec661"/><polygon points="996.97,112.38 993.47,115.14 996.92,107.94" fill="#fecd69"/><polygon points="993.62,115.21 993.56,110.76 997.07,108.01" fill="#fed16d"/><polygon points="996.92,108.52 993.41,111.27 996.87,104.06" fill="#fed976"/><polygon points="993.57,111.34 993.51,106.88 997.02,104.14" fill="#fedb7a"/><polygon points="996.88,104.65 993.36,107.39 996.82,100.18" fill="#fedf82"/><polygon points="993.52,107.46 993.46,102.98 996.98,100.25" fill="#fee186"/><polygon points="996.83,100.76 993.31,103.49 996.77,96.28" fill="#fee48e"/><polygon points="993.46,103.57 993.4,99.08 996.93,96.35" fill="#fee691"/><polygon points="996.78,96.86 993.25,99.59 996.72,92.37" fill="#fee896"/><polygon points="993.41,99.66 993.35,95.16 996.88,92.44" fill="#fee999"/><polygon points="996.73,92.95 993.2,95.67 996.68,88.44" fill="#feec9f"/><polygon points="993.36,95.74 993.29,91.22 996.83,88.52" fill="#ffeea2"/><polygon points="996.68,89.03 993.14,91.73 996.63,84.5" fill="#fff0a8"/><polygon points="993.3,91.81 993.24,87.27 996.78,84.58" fill="#fff2ac"/><polygon points="996.64,85.1 993.09,87.79 996.58,80.55" fill="#fff3b0"/><polygon points="993.25,87.87 993.18,83.32 996.74,80.63" fill="#fff4b1"/><polygon points="996.59,81.15 993.04,83.83 996.53,76.59" fill="#fff4b3"/><polygon points="993.19,83.91 993.13,79.34 996.69,76.67" fill="#fff5b4"/><polygon points="996.54,77.19 992.98,79.86 996.48,72.61" fill="#fff5b5"/><polygon points="993.14,79.94 993.07,75.36 996.64,72.7" fill="#fff6b7"/><polygon points="996.49,73.21 992.93,75.87 996.43,68.63" fill="#fff7b8"/><polygon points="993.08,75.96 993.02,71.36 996.59,68.71" fill="#fff7ba"/><polygon points="996.44,69.23 992.87,71.87 996.38,64.62" fill="#fff8bb"/><polygon points="993.03,71.96 992.96,67.35 996.54,64.71" fill="#fff8bc"/><polygon points="996.39,65.22 992.81,67.86 996.33,60.61" fill="#fff9be"/><polygon points="994.5,156.52 991.03,159.4 994.44,152.23" fill="#d4101f"/><polygon points="991.19,159.47 991.12,155.16 994.59,152.29" fill="#d6111f"/><polygon points="994.45,152.79 990.98,155.66 994.39,148.48" fill="#d8121e"/><polygon points="991.13,155.72 991.07,151.41 994.54,148.54" fill="#d9131e"/><polygon points="994.39,149.04 990.92,151.91 994.33,144.72" fill="#dc151d"/><polygon points="991.07,151.97 991.01,147.64 994.49,144.78" fill="#dd161d"/><polygon points="994.34,145.28 990.86,148.14 994.28,140.95" fill="#e31a1c"/><polygon points="991.02,148.2 990.95,143.86 994.44,141.01" fill="#e7221e"/><polygon points="994.29,141.51 990.81,144.36 994.23,137.16" fill="#ee3222"/><polygon points="990.96,144.42 990.89,140.06 994.39,137.23" fill="#f23b24"/><polygon points="994.24,137.73 990.75,140.57 994.18,133.36" fill="#fa4b29"/><polygon points="990.9,140.63 990.84,136.26 994.33,133.43" fill="#fc562c"/><polygon points="994.19,133.94 990.69,136.76 994.13,129.56" fill="#fc7033"/><polygon points="990.85,136.83 990.78,132.44 994.28,129.62" fill="#fc7c37"/><polygon points="994.14,130.13 990.63,132.95 994.08,125.74" fill="#fd923e"/><polygon points="990.79,133.02 990.72,128.61 994.23,125.8" fill="#fd9941"/><polygon points="994.08,126.31 990.57,129.12 994.02,121.9" fill="#fda345"/><polygon points="990.73,129.19 990.66,124.77 994.18,121.97" fill="#fda847"/><polygon points="994.03,122.48 990.52,125.28 993.97,118.06" fill="#fdb14b"/><polygon points="990.67,125.35 990.61,120.92 994.13,118.13" fill="#feb650"/><polygon points="993.98,118.63 990.46,121.42 993.92,114.2" fill="#fec05b"/><polygon points="990.61,121.5 990.55,117.05 994.07,114.27" fill="#fec661"/><polygon points="993.93,114.78 990.4,117.56 993.87,110.33" fill="#fecd69"/><polygon points="990.56,117.63 990.49,113.17 994.02,110.4" fill="#fed16d"/><polygon points="993.87,110.91 990.34,113.68 993.81,106.45" fill="#fed976"/><polygon points="990.5,113.75 990.43,109.28 993.97,106.52" fill="#fedb7a"/><polygon points="993.82,107.03 990.28,109.79 993.76,102.55" fill="#fedf82"/><polygon points="990.44,109.86 990.37,105.38 993.92,102.63" fill="#fee186"/><polygon points="993.77,103.14 990.22,105.89 993.71,98.64" fill="#fee48e"/><polygon points="990.38,105.96 990.31,101.46 993.86,98.72" fill="#fee691"/><polygon points="993.71,99.23 990.16,101.97 993.65,94.72" fill="#fee896"/><polygon points="990.32,102.05 990.25,97.53 993.81,94.8" fill="#fee999"/><polygon points="993.66,95.31 990.1,98.04 993.6,90.79" fill="#feec9f"/><polygon points="990.26,98.12 990.19,93.59 993.76,90.87" fill="#ffeea2"/><polygon points="993.61,91.38 990.04,94.1 993.55,86.84" fill="#fff0a8"/><polygon points="990.2,94.18 990.13,89.63 993.7,86.92" fill="#fff2ac"/><polygon points="993.55,87.44 989.99,90.14 993.49,82.88" fill="#fff3b0"/><polygon points="990.14,90.22 990.07,85.66 993.65,82.96" fill="#fff4b1"/><polygon points="993.5,83.48 989.92,86.18 993.44,78.91" fill="#fff4b3"/><polygon points="990.08,86.26 990.01,81.68 993.6,78.99" fill="#fff5b4"/><polygon points="993.45,79.51 989.86,82.19 993.38,74.93" fill="#fff5b5"/><polygon points="990.02,82.28 989.95,77.69 993.54,75.01" fill="#fff6b7"/><polygon points="993.39,75.52 989.8,78.2 993.33,70.93" fill="#fff7b8"/><polygon points="989.96,78.28 989.89,73.68 993.49,71.01" fill="#fff7ba"/><polygon points="993.34,71.53 989.74,74.19 993.27,66.92" fill="#fff8bb"/><polygon points="991.49,159.03 988,161.93 991.42,154.72" fill="#d4101f"/><polygon points="988.16,161.99 988.09,157.68 991.58,154.78" fill="#d6111f"/><polygon points="991.43,155.29 987.94,158.18 991.37,150.97" fill="#d8121e"/><polygon points="988.09,158.24 988.02,153.91 991.52,151.03" fill="#d9131e"/><polygon points="991.37,151.53 987.88,154.42 991.31,147.2" fill="#dc151d"/><polygon points="988.03,154.48 987.96,150.14 991.46,147.26" fill="#dd161d"/><polygon points="991.32,147.77 987.82,150.64 991.25,143.42" fill="#e31a1c"/><polygon points="987.97,150.7 987.9,146.35 991.41,143.48" fill="#e7221e"/><polygon points="991.26,143.99 987.75,146.85 991.2,139.63" fill="#ee3222"/><polygon points="987.91,146.92 987.84,142.55 991.35,139.69" fill="#f23b24"/><polygon points="991.2,140.2 987.69,143.05 991.14,135.82" fill="#fa4b29"/><polygon points="987.85,143.12 987.77,138.73 991.29,135.89" fill="#fc562c"/><polygon points="991.15,136.39 987.63,139.24 991.08,132.01" fill="#fc7033"/><polygon points="987.78,139.31 987.71,134.91 991.24,132.07" fill="#fc7c37"/><polygon points="991.09,132.58 987.56,135.42 991.02,128.18" fill="#fd923e"/><polygon points="987.72,135.48 987.65,131.07 991.18,128.24" fill="#fd9941"/><polygon points="991.03,128.75 987.5,131.58 990.97,124.34" fill="#fda345"/><polygon points="987.66,131.65 987.59,127.22 991.12,124.4" fill="#fda847"/><polygon points="990.98,124.91 987.44,127.73 990.91,120.48" fill="#fdb14b"/><polygon points="987.6,127.8 987.52,123.36 991.07,120.55" fill="#feb650"/><polygon points="990.92,121.06 987.38,123.87 990.85,116.61" fill="#fec05b"/><polygon points="987.53,123.94 987.46,119.48 991.01,116.69" fill="#fec661"/><polygon points="990.86,117.2 987.31,119.99 990.79,112.74" fill="#fecd69"/><polygon points="987.47,120.07 987.4,115.6 990.95,112.81" fill="#fed16d"/><polygon points="990.8,113.32 987.25,116.11 990.74,108.84" fill="#fed976"/><polygon points="987.41,116.18 987.33,111.7 990.89,108.92" fill="#fedb7a"/><polygon points="990.75,109.43 987.18,112.21 990.68,104.94" fill="#fedf82"/><polygon points="987.34,112.28 987.27,107.78 990.84,105.02" fill="#fee186"/><polygon points="990.69,105.53 987.12,108.29 990.62,101.02" fill="#fee48e"/><polygon points="987.28,108.37 987.2,103.86 990.78,101.1" fill="#fee691"/><polygon points="990.63,101.61 987.05,104.37 990.56,97.09" fill="#fee896"/><polygon points="987.21,104.45 987.14,99.92 990.72,97.17" fill="#fee999"/><polygon points="990.57,97.68 986.99,100.43 990.5,93.15" fill="#feec9f"/><polygon points="987.15,100.51 987.07,95.97 990.66,93.23" fill="#ffeea2"/><polygon points="990.51,93.74 986.92,96.48 990.44,89.2" fill="#fff0a8"/><polygon points="987.08,96.56 987.01,92 990.6,89.27" fill="#fff2ac"/><polygon points="990.45,89.79 986.86,92.52 990.38,85.23" fill="#fff3b0"/><polygon points="987.02,92.6 986.94,88.02 990.54,85.31" fill="#fff4b1"/><polygon points="990.39,85.82 986.79,88.54 990.32,81.25" fill="#fff4b3"/><polygon points="986.95,88.62 986.88,84.03 990.48,81.33" fill="#fff5b4"/><polygon points="990.33,81.84 986.73,84.55 990.26,77.25" fill="#fff5b5"/><polygon points="986.89,84.63 986.81,80.03 990.42,77.33" fill="#fff6b7"/><polygon points="990.27,77.85 986.66,80.55 990.2,73.24" fill="#fff7b8"/><polygon points="988.46,161.55 984.95,164.47 988.39,157.24" fill="#d4101f"/><polygon points="985.1,164.53 985.03,160.21 988.54,157.3" fill="#d6111f"/><polygon points="988.4,157.8 984.88,160.71 988.33,153.47" fill="#d8121e"/><polygon points="985.04,160.77 984.96,156.44 988.48,153.54" fill="#d9131e"/><polygon points="988.33,154.04 984.82,156.94 988.26,149.7" fill="#dc151d"/><polygon points="984.97,157 984.9,152.65 988.42,149.76" fill="#dd161d"/><polygon points="988.27,150.26 984.75,153.16 988.2,145.91" fill="#e31a1c"/><polygon points="984.9,153.22 984.83,148.86 988.36,145.97" fill="#e7221e"/><polygon points="988.21,146.48 984.68,149.36 988.14,142.11" fill="#ee3222"/><polygon points="984.84,149.43 984.76,145.05 988.3,142.17" fill="#f23b24"/><polygon points="988.15,142.68 984.61,145.55 988.08,138.3" fill="#fa4b29"/><polygon points="984.77,145.62 984.69,141.23 988.24,138.36" fill="#fc562c"/><polygon points="988.09,138.87 984.55,141.73 988.02,134.47" fill="#fc7033"/><polygon points="984.7,141.8 984.63,137.39 988.17,134.54" fill="#fc7c37"/><polygon points="988.03,135.05 984.48,137.9 987.95,130.63" fill="#fd923e"/><polygon points="984.63,137.97 984.56,133.55 988.11,130.7" fill="#fd9941"/><polygon points="987.96,131.21 984.41,134.06 987.89,126.78" fill="#fda345"/><polygon points="984.57,134.12 984.49,129.69 988.05,126.85" fill="#fda847"/><polygon points="987.9,127.36 984.34,130.2 987.83,122.92" fill="#fdb14b"/><polygon points="984.5,130.27 984.42,125.82 987.99,122.99" fill="#feb650"/><polygon points="987.84,123.5 984.27,126.33 987.77,119.05" fill="#fec05b"/><polygon points="984.43,126.4 984.35,121.93 987.92,119.12" fill="#fec661"/><polygon points="987.78,119.63 984.2,122.44 987.7,115.16" fill="#fecd69"/><polygon points="984.36,122.52 984.28,118.04 987.86,115.23" fill="#fed16d"/><polygon points="987.71,115.74 984.13,118.55 987.64,111.26" fill="#fed976"/><polygon points="984.29,118.62 984.21,114.13 987.8,111.33" fill="#fedb7a"/><polygon points="987.65,111.84 984.06,114.64 987.58,107.35" fill="#fedf82"/><polygon points="984.22,114.71 984.14,110.21 987.74,107.42" fill="#fee186"/><polygon points="987.59,107.93 983.99,110.72 987.51,103.42" fill="#fee48e"/><polygon points="984.15,110.79 984.07,106.27 987.67,103.5" fill="#fee691"/><polygon points="987.52,104.01 983.92,106.78 987.45,99.48" fill="#fee896"/><polygon points="984.08,106.86 984,102.32 987.61,99.56" fill="#fee999"/><polygon points="987.46,100.07 983.85,102.84 987.38,95.53" fill="#feec9f"/><polygon points="984.01,102.92 983.93,98.36 987.54,95.61" fill="#ffeea2"/><polygon points="987.39,96.12 983.78,98.88 987.32,91.56" fill="#fff0a8"/><polygon points="983.94,98.96 983.86,94.39 987.48,91.64" fill="#fff2ac"/><polygon points="987.33,92.16 983.71,94.9 987.25,87.59" fill="#fff3b0"/><polygon points="983.87,94.98 983.79,90.4 987.42,87.67" fill="#fff4b1"/><polygon points="987.26,88.18 983.64,90.92 987.19,83.6" fill="#fff4b3"/><polygon points="983.8,91 983.72,86.4 987.35,83.68" fill="#fff5b4"/><polygon points="987.2,84.2 983.57,86.92 987.13,79.59" fill="#fff5b5"/><polygon points="985.41,164.09 981.88,167.03 985.33,159.77" fill="#d4101f"/><polygon points="982.03,167.09 981.95,162.76 985.49,159.83" fill="#d6111f"/><polygon points="985.34,160.33 981.81,163.26 985.27,156" fill="#d8121e"/><polygon points="981.96,163.32 981.88,158.98 985.42,156.06" fill="#d9131e"/><polygon points="985.28,156.56 981.73,159.48 985.2,152.21" fill="#dc151d"/><polygon points="981.89,159.55 981.81,155.19 985.36,152.27" fill="#dd161d"/><polygon points="985.21,152.78 981.66,155.69 985.13,148.41" fill="#e31a1c"/><polygon points="981.82,155.76 981.74,151.38 985.29,148.48" fill="#e7221e"/><polygon points="985.14,148.99 981.59,151.89 985.07,144.61" fill="#ee3222"/><polygon points="981.75,151.95 981.66,147.56 985.22,144.67" fill="#f23b24"/><polygon points="985.08,145.18 981.52,148.07 985,140.79" fill="#fa4b29"/><polygon points="981.67,148.14 981.59,143.73 985.16,140.85" fill="#fc562c"/><polygon points="985.01,141.36 981.44,144.24 984.93,136.95" fill="#fc7033"/><polygon points="981.6,144.31 981.52,139.89 985.09,137.02" fill="#fc7c37"/><polygon points="984.94,137.53 981.37,140.4 984.86,133.11" fill="#fd923e"/><polygon points="981.53,140.47 981.44,136.04 985.02,133.17" fill="#fd9941"/><polygon points="984.87,133.68 981.3,136.55 984.8,129.25" fill="#fda345"/><polygon points="981.46,136.62 981.37,132.17 984.95,129.32" fill="#fda847"/><polygon points="984.81,129.83 981.22,132.68 984.73,125.38" fill="#fdb14b"/><polygon points="981.38,132.75 981.3,128.29 984.89,125.45" fill="#feb650"/><polygon points="984.74,125.96 981.15,128.8 984.66,121.49" fill="#fec05b"/><polygon points="981.31,128.87 981.22,124.4 984.82,121.56" fill="#fec661"/><polygon points="984.67,122.08 981.07,124.91 984.59,117.6" fill="#fecd69"/><polygon points="981.23,124.98 981.15,120.49 984.75,117.67" fill="#fed16d"/><polygon points="984.6,118.18 981,121.01 984.52,113.69" fill="#fed976"/><polygon points="981.16,121.08 981.07,116.57 984.68,113.76" fill="#fedb7a"/><polygon points="984.53,114.27 980.92,117.09 984.45,109.77" fill="#fedf82"/><polygon points="981.09,117.16 981,112.64 984.61,109.84" fill="#fee186"/><polygon points="984.46,110.36 980.85,113.16 984.38,105.83" fill="#fee48e"/><polygon points="981.01,113.23 980.92,108.7 984.55,105.91" fill="#fee691"/><polygon points="984.4,106.42 980.77,109.22 984.32,101.88" fill="#fee896"/><polygon points="980.94,109.29 980.85,104.74 984.48,101.96" fill="#fee999"/><polygon points="984.33,102.48 980.7,105.26 984.25,97.92" fill="#feec9f"/><polygon points="980.86,105.34 980.77,100.77 984.41,98" fill="#ffeea2"/><polygon points="984.26,98.52 980.62,101.29 984.18,93.95" fill="#fff0a8"/><polygon points="980.78,101.37 980.7,96.79 984.34,94.03" fill="#fff2ac"/><polygon points="984.19,94.55 980.55,97.31 984.11,89.96" fill="#fff3b0"/><polygon points="980.71,97.39 980.62,92.79 984.27,90.04" fill="#fff4b1"/><polygon points="984.12,90.56 980.47,93.31 984.04,85.96" fill="#fff4b3"/><polygon points="982.34,166.65 978.79,169.61 982.26,162.31" fill="#d4101f"/><polygon points="978.95,169.67 978.86,165.32 982.42,162.37" fill="#d6111f"/><polygon points="982.27,162.88 978.71,165.83 982.19,158.53" fill="#d8121e"/><polygon points="978.87,165.89 978.78,161.54 982.34,158.6" fill="#d9131e"/><polygon points="982.2,159.1 978.63,162.04 982.11,154.74" fill="#dc151d"/><polygon points="978.79,162.1 978.7,157.73 982.27,154.8" fill="#dd161d"/><polygon points="982.13,155.31 978.55,158.24 982.04,150.94" fill="#e31a1c"/><polygon points="978.71,158.31 978.62,153.92 982.2,151" fill="#e7221e"/><polygon points="982.05,151.51 978.48,154.43 981.97,147.12" fill="#ee3222"/><polygon points="978.64,154.49 978.55,150.1 982.13,147.18" fill="#f23b24"/><polygon points="981.98,147.69 978.4,150.61 981.9,143.29" fill="#fa4b29"/><polygon points="978.56,150.67 978.47,146.26 982.06,143.36" fill="#fc562c"/><polygon points="981.91,143.87 978.32,146.77 981.83,139.45" fill="#fc7033"/><polygon points="978.48,146.83 978.39,142.41 981.99,139.52" fill="#fc7c37"/><polygon points="981.84,140.03 978.24,142.92 981.75,135.59" fill="#fd923e"/><polygon points="978.4,142.99 978.31,138.54 981.91,135.66" fill="#fd9941"/><polygon points="981.76,136.17 978.16,139.06 981.68,131.73" fill="#fda345"/><polygon points="978.32,139.12 978.23,134.67 981.84,131.8" fill="#fda847"/><polygon points="981.69,132.31 978.08,135.18 981.61,127.85" fill="#fdb14b"/><polygon points="978.24,135.25 978.15,130.78 981.77,127.92" fill="#feb650"/><polygon points="981.62,128.43 978,131.29 981.53,123.96" fill="#fec05b"/><polygon points="978.17,131.36 978.07,126.88 981.69,124.03" fill="#fec661"/><polygon points="981.54,124.54 977.92,127.39 981.46,120.05" fill="#fecd69"/><polygon points="978.09,127.47 977.99,122.97 981.62,120.12" fill="#fed16d"/><polygon points="981.47,120.64 977.84,123.48 981.39,116.13" fill="#fed976"/><polygon points="978.01,123.55 977.91,119.04 981.55,116.21" fill="#fedb7a"/><polygon points="981.4,116.72 977.76,119.55 981.31,112.2" fill="#fedf82"/><polygon points="977.93,119.63 977.83,115.1 981.47,112.28" fill="#fee186"/><polygon points="981.32,112.79 977.68,115.62 981.24,108.26" fill="#fee48e"/><polygon points="977.85,115.69 977.75,111.15 981.4,108.33" fill="#fee691"/><polygon points="981.25,108.85 977.6,111.66 981.16,104.3" fill="#fee896"/><polygon points="977.77,111.74 977.67,107.18 981.32,104.38" fill="#fee999"/><polygon points="981.17,104.9 977.52,107.7 981.09,100.33" fill="#feec9f"/><polygon points="977.68,107.78 977.59,103.2 981.25,100.41" fill="#ffeea2"/><polygon points="981.1,100.93 977.44,103.72 981.01,96.35" fill="#fff0a8"/><polygon points="977.6,103.8 977.51,99.21 981.17,96.43" fill="#fff2ac"/><polygon points="981.02,96.95 977.36,99.73 980.94,92.35" fill="#fff3b0"/><polygon points="979.25,169.22 975.68,172.2 979.16,164.88" fill="#d4101f"/><polygon points="975.84,172.26 975.74,167.91 979.32,164.94" fill="#d6111f"/><polygon points="979.18,165.44 975.59,168.41 979.09,161.09" fill="#d8121e"/><polygon points="975.75,168.47 975.66,164.11 979.25,161.15" fill="#d9131e"/><polygon points="979.1,161.66 975.51,164.62 979.01,157.29" fill="#dc151d"/><polygon points="975.67,164.68 975.58,160.3 979.17,157.35" fill="#dd161d"/><polygon points="979.02,157.86 975.43,160.81 978.93,153.48" fill="#e31a1c"/><polygon points="975.59,160.87 975.49,156.48 979.09,153.54" fill="#e7221e"/><polygon points="978.94,154.05 975.34,156.99 978.86,149.65" fill="#ee3222"/><polygon points="975.51,157.05 975.41,152.64 979.02,149.71" fill="#f23b24"/><polygon points="978.87,150.22 975.26,153.16 978.78,145.81" fill="#fa4b29"/><polygon points="975.42,153.22 975.33,148.8 978.94,145.88" fill="#fc562c"/><polygon points="978.79,146.39 975.18,149.31 978.7,141.96" fill="#fc7033"/><polygon points="975.34,149.38 975.24,144.94 978.86,142.03" fill="#fc7c37"/><polygon points="978.71,142.54 975.09,145.45 978.62,138.1" fill="#fd923e"/><polygon points="975.25,145.52 975.16,141.07 978.78,138.17" fill="#fd9941"/><polygon points="978.63,138.68 975.01,141.58 978.54,134.22" fill="#fda345"/><polygon points="975.17,141.65 975.07,137.18 978.71,134.29" fill="#fda847"/><polygon points="978.56,134.81 974.92,137.7 978.46,130.34" fill="#fdb14b"/><polygon points="975.09,137.77 974.99,133.29 978.63,130.4" fill="#feb650"/><polygon points="978.48,130.92 974.84,133.8 978.39,126.43" fill="#fec05b"/><polygon points="975,133.87 974.9,129.38 978.55,126.51" fill="#fec661"/><polygon points="978.4,127.02 974.75,129.89 978.31,122.52" fill="#fecd69"/><polygon points="974.92,129.96 974.82,125.45 978.47,122.59" fill="#fed16d"/><polygon points="978.32,123.11 974.67,125.97 978.23,118.59" fill="#fed976"/><polygon points="974.83,126.04 974.73,121.52 978.39,118.67" fill="#fedb7a"/><polygon points="978.24,119.18 974.58,122.04 978.15,114.65" fill="#fedf82"/><polygon points="974.75,122.11 974.65,117.57 978.31,114.73" fill="#fee186"/><polygon points="978.16,115.25 974.5,118.09 978.07,110.7" fill="#fee48e"/><polygon points="974.66,118.16 974.56,113.61 978.23,110.78" fill="#fee691"/><polygon points="978.08,111.3 974.41,114.13 977.99,106.74" fill="#fee896"/><polygon points="974.57,114.2 974.48,109.63 978.15,106.81" fill="#fee999"/><polygon points="978,107.33 974.32,110.15 977.91,102.76" fill="#feec9f"/><polygon points="974.49,110.23 974.39,105.64 978.07,102.83" fill="#ffeea2"/><polygon points="977.92,103.36 974.24,106.17 977.83,98.77" fill="#fff0a8"/><polygon points="976.14,171.81 972.54,174.8 976.05,167.46" fill="#d4101f"/><polygon points="972.71,174.86 972.61,170.5 976.21,167.52" fill="#d6111f"/><polygon points="976.06,168.03 972.46,171.01 975.97,163.66" fill="#d8121e"/><polygon points="972.62,171.07 972.52,166.7 976.13,163.72" fill="#d9131e"/><polygon points="975.98,164.23 972.37,167.21 975.89,159.85" fill="#dc151d"/><polygon points="972.53,167.27 972.43,162.88 976.05,159.91" fill="#dd161d"/><polygon points="975.9,160.42 972.28,163.39 975.8,156.03" fill="#e31a1c"/><polygon points="972.44,163.46 972.34,159.05 975.96,156.09" fill="#e7221e"/><polygon points="975.82,156.6 972.19,159.56 975.72,152.2" fill="#ee3222"/><polygon points="972.35,159.63 972.25,155.21 975.88,152.26" fill="#f23b24"/><polygon points="975.73,152.77 972.1,155.72 975.64,148.35" fill="#fa4b29"/><polygon points="972.26,155.79 972.16,151.36 975.8,148.42" fill="#fc562c"/><polygon points="975.65,148.93 972.01,151.87 975.55,144.49" fill="#fc7033"/><polygon points="972.18,151.93 972.07,147.49 975.72,144.56" fill="#fc7c37"/><polygon points="975.57,145.07 971.92,148 975.47,140.62" fill="#fd923e"/><polygon points="972.09,148.07 971.98,143.61 975.63,140.69" fill="#fd9941"/><polygon points="975.48,141.2 971.83,144.12 975.39,136.74" fill="#fda345"/><polygon points="972,144.19 971.89,139.72 975.55,136.8" fill="#fda847"/><polygon points="975.4,137.32 971.74,140.23 975.3,132.84" fill="#fdb14b"/><polygon points="971.91,140.3 971.8,135.81 975.47,132.91" fill="#feb650"/><polygon points="975.31,133.43 971.65,136.33 975.22,128.93" fill="#fec05b"/><polygon points="971.82,136.4 971.71,131.89 975.38,129" fill="#fec661"/><polygon points="975.23,129.52 971.56,132.41 975.13,125.01" fill="#fecd69"/><polygon points="971.73,132.48 971.62,127.96 975.3,125.08" fill="#fed16d"/><polygon points="975.15,125.6 971.47,128.48 975.05,121.07" fill="#fed976"/><polygon points="971.64,128.55 971.53,124.01 975.21,121.14" fill="#fedb7a"/><polygon points="975.06,121.66 971.38,124.53 974.96,117.12" fill="#fedf82"/><polygon points="971.55,124.61 971.44,120.06 975.13,117.2" fill="#fee186"/><polygon points="974.98,117.72 971.29,120.58 974.88,113.16" fill="#fee48e"/><polygon points="971.45,120.65 971.35,116.09 975.04,113.24" fill="#fee691"/><polygon points="974.89,113.76 971.2,116.61 974.79,109.19" fill="#fee896"/><polygon points="971.36,116.68 971.26,112.1 974.96,109.26" fill="#fee999"/><polygon points="974.8,109.78 971.1,112.62 974.71,105.2" fill="#feec9f"/><polygon points="973.02,174.41 969.39,177.43 972.91,170.05" fill="#d4101f"/><polygon points="969.56,177.49 969.45,173.12 973.08,170.11" fill="#d6111f"/><polygon points="972.93,170.62 969.3,173.63 972.83,166.25" fill="#d8121e"/><polygon points="969.46,173.69 969.36,169.31 972.99,166.31" fill="#d9131e"/><polygon points="972.84,166.82 969.21,169.82 972.74,162.43" fill="#dc151d"/><polygon points="969.37,169.88 969.26,165.48 972.9,162.49" fill="#dd161d"/><polygon points="972.75,163.01 969.11,165.99 972.65,158.6" fill="#e31a1c"/><polygon points="969.28,166.06 969.17,161.64 972.82,158.66" fill="#e7221e"/><polygon points="972.67,159.18 969.02,162.16 972.56,154.76" fill="#ee3222"/><polygon points="969.18,162.22 969.07,157.79 972.73,154.82" fill="#f23b24"/><polygon points="972.58,155.34 968.92,158.31 972.48,150.91" fill="#fa4b29"/><polygon points="969.09,158.37 968.98,153.93 972.64,150.97" fill="#fc562c"/><polygon points="972.49,151.48 968.83,154.44 972.39,147.04" fill="#fc7033"/><polygon points="968.99,154.51 968.88,150.05 972.55,147.1" fill="#fc7c37"/><polygon points="972.4,147.62 968.73,150.57 972.3,143.16" fill="#fd923e"/><polygon points="968.9,150.64 968.79,146.16 972.46,143.22" fill="#fd9941"/><polygon points="972.31,143.74 968.64,146.68 972.21,139.27" fill="#fda345"/><polygon points="968.8,146.75 968.69,142.26 972.37,139.33" fill="#fda847"/><polygon points="972.22,139.85 968.54,142.78 972.12,135.36" fill="#fdb14b"/><polygon points="968.71,142.85 968.6,138.35 972.28,135.43" fill="#feb650"/><polygon points="972.13,135.95 968.45,138.87 972.03,131.44" fill="#fec05b"/><polygon points="968.61,138.94 968.5,134.42 972.19,131.51" fill="#fec661"/><polygon points="972.04,132.03 968.35,134.94 971.94,127.51" fill="#fecd69"/><polygon points="968.52,135.01 968.41,130.48 972.1,127.58" fill="#fed16d"/><polygon points="971.95,128.1 968.25,131 971.85,123.57" fill="#fed976"/><polygon points="968.42,131.07 968.31,126.53 972.01,123.64" fill="#fedb7a"/><polygon points="971.86,124.16 968.16,127.05 971.76,119.61" fill="#fedf82"/><polygon points="968.32,127.12 968.21,122.56 971.92,119.68" fill="#fee186"/><polygon points="971.77,120.2 968.06,123.08 971.67,115.64" fill="#fee48e"/><polygon points="968.23,123.16 968.11,118.58 971.83,115.71" fill="#fee691"/><polygon points="971.68,116.24 967.96,119.1 971.57,111.65" fill="#fee896"/><polygon points="969.87,177.04 966.22,180.07 969.76,172.67" fill="#d4101f"/><polygon points="966.38,180.13 966.27,175.75 969.92,172.72" fill="#d6111f"/><polygon points="969.77,173.24 966.12,176.26 969.67,168.85" fill="#d8121e"/><polygon points="966.29,176.32 966.17,171.93 969.83,168.91" fill="#d9131e"/><polygon points="969.68,169.43 966.02,172.44 969.57,165.03" fill="#dc151d"/><polygon points="966.19,172.5 966.07,168.1 969.74,165.09" fill="#dd161d"/><polygon points="969.59,165.6 965.92,168.61 969.48,161.19" fill="#e31a1c"/><polygon points="966.09,168.67 965.97,164.25 969.65,161.25" fill="#e7221e"/><polygon points="969.5,161.77 965.82,164.77 969.39,157.34" fill="#ee3222"/><polygon points="965.99,164.83 965.87,160.39 969.55,157.4" fill="#f23b24"/><polygon points="969.4,157.92 965.72,160.91 969.29,153.48" fill="#fa4b29"/><polygon points="965.89,160.97 965.77,156.52 969.46,153.54" fill="#fc562c"/><polygon points="969.31,154.06 965.62,157.04 969.2,149.6" fill="#fc7033"/><polygon points="965.79,157.1 965.67,152.64 969.36,149.67" fill="#fc7c37"/><polygon points="969.21,150.18 965.52,153.15 969.1,145.71" fill="#fd923e"/><polygon points="965.69,153.22 965.57,148.74 969.27,145.78" fill="#fd9941"/><polygon points="969.12,146.3 965.42,149.26 969.01,141.81" fill="#fda345"/><polygon points="965.59,149.32 965.47,144.83 969.18,141.88" fill="#fda847"/><polygon points="969.02,142.4 965.32,145.35 968.91,137.9" fill="#fdb14b"/><polygon points="965.49,145.42 965.37,140.91 969.08,137.97" fill="#feb650"/><polygon points="968.93,138.49 965.22,141.43 968.82,133.97" fill="#fec05b"/><polygon points="965.39,141.49 965.27,136.97 968.99,134.04" fill="#fec661"/><polygon points="968.83,134.56 965.12,137.49 968.72,130.03" fill="#fecd69"/><polygon points="965.28,137.56 965.17,133.02 968.89,130.1" fill="#fed16d"/><polygon points="968.74,130.62 965.01,133.54 968.63,126.08" fill="#fed976"/><polygon points="965.18,133.61 965.06,129.06 968.79,126.15" fill="#fedb7a"/><polygon points="968.64,126.67 964.91,129.58 968.53,122.11" fill="#fedf82"/><polygon points="965.08,129.65 964.96,125.08 968.7,122.18" fill="#fee186"/><polygon points="968.55,122.71 964.81,125.61 968.43,118.13" fill="#fee48e"/><polygon points="966.7,179.68 963.03,182.73 966.58,175.3" fill="#d4101f"/><polygon points="963.19,182.79 963.07,178.4 966.75,175.35" fill="#d6111f"/><polygon points="966.6,175.87 962.92,178.92 966.49,171.48" fill="#d8121e"/><polygon points="963.09,178.97 962.97,174.57 966.65,171.53" fill="#d9131e"/><polygon points="966.5,172.05 962.82,175.09 966.39,167.64" fill="#dc151d"/><polygon points="962.98,175.15 962.86,170.73 966.55,167.7" fill="#dd161d"/><polygon points="966.4,168.22 962.71,171.25 966.29,163.8" fill="#e31a1c"/><polygon points="962.88,171.31 962.76,166.88 966.45,163.86" fill="#e7221e"/><polygon points="966.3,164.37 962.61,167.39 966.19,159.94" fill="#ee3222"/><polygon points="962.77,167.45 962.65,163.01 966.36,160" fill="#f23b24"/><polygon points="966.2,160.52 962.5,163.53 966.09,156.07" fill="#fa4b29"/><polygon points="962.67,163.59 962.55,159.13 966.26,156.13" fill="#fc562c"/><polygon points="966.11,156.65 962.4,159.65 965.99,152.18" fill="#fc7033"/><polygon points="962.56,159.71 962.44,155.24 966.16,152.25" fill="#fc7c37"/><polygon points="966.01,152.77 962.29,155.75 965.89,148.29" fill="#fd923e"/><polygon points="962.46,155.82 962.34,151.33 966.06,148.35" fill="#fd9941"/><polygon points="965.91,148.87 962.18,151.85 965.79,144.38" fill="#fda345"/><polygon points="962.35,151.92 962.23,147.41 965.96,144.44" fill="#fda847"/><polygon points="965.8,144.96 962.08,147.93 965.69,140.45" fill="#fdb14b"/><polygon points="962.24,148 962.12,143.48 965.86,140.52" fill="#feb650"/><polygon points="965.7,141.04 961.97,144 965.59,136.52" fill="#fec05b"/><polygon points="962.14,144.07 962.01,139.53 965.76,136.58" fill="#fec661"/><polygon points="965.6,137.11 961.86,140.06 965.49,132.57" fill="#fecd69"/><polygon points="962.03,140.13 961.91,135.58 965.65,132.64" fill="#fed16d"/><polygon points="965.5,133.16 961.75,136.1 965.38,128.6" fill="#fed976"/><polygon points="961.92,136.17 961.8,131.6 965.55,128.68" fill="#fedb7a"/><polygon points="965.4,129.2 961.64,132.13 965.28,124.63" fill="#fedf82"/><polygon points="963.51,182.33 959.81,185.41 963.39,177.94" fill="#d4101f"/><polygon points="959.98,185.47 959.85,181.07 963.55,178" fill="#d6111f"/><polygon points="963.4,178.52 959.7,181.58 963.28,174.12" fill="#d8121e"/><polygon points="959.87,181.64 959.74,177.23 963.45,174.17" fill="#d9131e"/><polygon points="963.3,174.69 959.59,177.75 963.18,170.27" fill="#dc151d"/><polygon points="959.76,177.81 959.63,173.38 963.35,170.33" fill="#dd161d"/><polygon points="963.2,170.85 959.48,173.9 963.08,166.42" fill="#e31a1c"/><polygon points="959.65,173.96 959.52,169.52 963.24,166.48" fill="#e7221e"/><polygon points="963.09,167 959.37,170.04 962.97,162.55" fill="#ee3222"/><polygon points="959.54,170.1 959.41,165.64 963.14,162.61" fill="#f23b24"/><polygon points="962.99,163.13 959.26,166.16 962.87,158.67" fill="#fa4b29"/><polygon points="959.43,166.22 959.3,161.75 963.03,158.73" fill="#fc562c"/><polygon points="962.88,159.26 959.15,162.27 962.76,154.78" fill="#fc7033"/><polygon points="959.32,162.34 959.19,157.85 962.93,154.84" fill="#fc7c37"/><polygon points="962.78,155.36 959.04,158.37 962.65,150.87" fill="#fd923e"/><polygon points="959.2,158.44 959.08,153.94 962.82,150.94" fill="#fd9941"/><polygon points="962.67,151.46 958.92,154.46 962.55,146.96" fill="#fda345"/><polygon points="959.09,154.53 958.96,150.01 962.72,147.02" fill="#fda847"/><polygon points="962.56,147.54 958.81,150.53 962.44,143.02" fill="#fdb14b"/><polygon points="958.98,150.6 958.85,146.07 962.61,143.09" fill="#feb650"/><polygon points="962.46,143.61 958.7,146.59 962.33,139.08" fill="#fec05b"/><polygon points="958.87,146.66 958.74,142.12 962.5,139.15" fill="#fec661"/><polygon points="962.35,139.67 958.58,142.64 962.23,135.12" fill="#fecd69"/><polygon points="958.75,142.71 958.62,138.15 962.4,135.19" fill="#fed16d"/><polygon points="962.24,135.72 958.47,138.67 962.12,131.15" fill="#fed976"/><polygon points="960.3,185.01 956.58,188.1 960.17,180.61" fill="#d4101f"/><polygon points="956.75,188.16 956.61,183.75 960.34,180.67" fill="#d6111f"/><polygon points="960.19,181.18 956.46,184.27 960.06,176.77" fill="#d8121e"/><polygon points="956.63,184.33 956.5,179.91 960.23,176.83" fill="#d9131e"/><polygon points="960.08,177.35 956.35,180.43 959.95,172.92" fill="#dc151d"/><polygon points="956.51,180.49 956.38,176.05 960.12,172.98" fill="#dd161d"/><polygon points="959.97,173.5 956.23,176.57 959.84,169.06" fill="#e31a1c"/><polygon points="956.4,176.63 956.27,172.18 960.01,169.12" fill="#e7221e"/><polygon points="959.86,169.64 956.11,172.7 959.73,165.18" fill="#ee3222"/><polygon points="956.28,172.76 956.15,168.29 959.9,165.25" fill="#f23b24"/><polygon points="959.75,165.77 956,168.81 959.62,161.3" fill="#fa4b29"/><polygon points="956.17,168.88 956.03,164.4 959.79,161.36" fill="#fc562c"/><polygon points="959.64,161.88 955.88,164.92 959.51,157.39" fill="#fc7033"/><polygon points="956.05,164.98 955.91,160.49 959.68,157.46" fill="#fc7c37"/><polygon points="959.53,157.98 955.76,161.01 959.4,153.48" fill="#fd923e"/><polygon points="955.93,161.07 955.8,156.56 959.57,153.54" fill="#fd9941"/><polygon points="959.41,154.07 955.64,157.09 959.29,149.55" fill="#fda345"/><polygon points="955.81,157.15 955.68,152.63 959.45,149.62" fill="#fda847"/><polygon points="959.3,150.14 955.52,153.15 959.17,145.61" fill="#fdb14b"/><polygon points="955.69,153.22 955.56,148.68 959.34,145.68" fill="#feb650"/><polygon points="959.19,146.2 955.4,149.2 959.06,141.66" fill="#fec05b"/><polygon points="955.58,149.27 955.44,144.71 959.23,141.73" fill="#fec661"/><polygon points="959.08,142.25 955.29,145.24 958.95,137.69" fill="#fecd69"/><polygon points="957.06,187.7 953.32,190.82 956.93,183.29" fill="#d4101f"/><polygon points="953.49,190.87 953.35,186.46 957.1,183.35" fill="#d6111f"/><polygon points="956.95,183.87 953.2,186.98 956.82,179.45" fill="#d8121e"/><polygon points="953.37,187.03 953.23,182.6 956.99,179.5" fill="#d9131e"/><polygon points="956.83,180.02 953.08,183.12 956.7,175.59" fill="#dc151d"/><polygon points="953.25,183.18 953.11,178.74 956.87,175.65" fill="#dd161d"/><polygon points="956.72,176.17 952.96,179.26 956.59,171.72" fill="#e31a1c"/><polygon points="953.13,179.32 952.99,174.86 956.76,171.78" fill="#e7221e"/><polygon points="956.6,172.3 952.83,175.38 956.47,167.83" fill="#ee3222"/><polygon points="953,175.44 952.86,170.96 956.64,167.89" fill="#f23b24"/><polygon points="956.49,168.42 952.71,171.49 956.35,163.94" fill="#fa4b29"/><polygon points="952.88,171.55 952.74,167.06 956.52,164" fill="#fc562c"/><polygon points="956.37,164.52 952.59,167.58 956.24,160.03" fill="#fc7033"/><polygon points="952.76,167.64 952.62,163.14 956.41,160.09" fill="#fc7c37"/><polygon points="956.25,160.61 952.46,163.66 956.12,156.1" fill="#fd923e"/><polygon points="952.63,163.73 952.49,159.21 956.29,156.17" fill="#fd9941"/><polygon points="956.14,156.69 952.34,159.73 956,152.17" fill="#fda345"/><polygon points="952.51,159.8 952.37,155.26 956.17,152.23" fill="#fda847"/><polygon points="956.02,152.76 952.21,155.79 955.88,148.22" fill="#fdb14b"/><polygon points="952.39,155.85 952.24,151.3 956.05,148.28" fill="#feb650"/><polygon points="955.9,148.81 952.09,151.83 955.76,144.26" fill="#fec05b"/><polygon points="953.81,190.41 950.04,193.55 953.67,185.99" fill="#d4101f"/><polygon points="950.21,193.6 950.07,189.18 953.84,186.05" fill="#d6111f"/><polygon points="953.69,186.57 949.92,189.7 953.55,182.14" fill="#d8121e"/><polygon points="950.09,189.75 949.94,185.31 953.72,182.2" fill="#d9131e"/><polygon points="953.57,182.72 949.79,185.84 953.43,178.27" fill="#dc151d"/><polygon points="949.96,185.89 949.81,181.44 953.6,178.33" fill="#dd161d"/><polygon points="953.45,178.85 949.66,181.96 953.31,174.39" fill="#e31a1c"/><polygon points="949.83,182.02 949.68,177.55 953.48,174.45" fill="#e7221e"/><polygon points="953.33,174.98 949.53,178.07 953.19,170.5" fill="#ee3222"/><polygon points="949.7,178.13 949.56,173.65 953.36,170.56" fill="#f23b24"/><polygon points="953.2,171.08 949.4,174.17 953.06,166.59" fill="#fa4b29"/><polygon points="949.57,174.24 949.43,169.74 953.24,166.66" fill="#fc562c"/><polygon points="953.08,167.18 949.27,170.26 952.94,162.68" fill="#fc7033"/><polygon points="949.45,170.32 949.3,165.81 953.11,162.74" fill="#fc7c37"/><polygon points="952.96,163.26 949.14,166.33 952.82,158.74" fill="#fd923e"/><polygon points="949.32,166.4 949.17,161.87 952.99,158.81" fill="#fd9941"/><polygon points="952.84,159.33 949.01,162.39 952.69,154.8" fill="#fda345"/><polygon points="949.19,162.46 949.04,157.91 952.87,154.86" fill="#fda847"/><polygon points="952.71,155.39 948.88,158.44 952.57,150.84" fill="#fdb14b"/><polygon points="950.54,193.14 946.74,196.3 950.39,188.71" fill="#d4101f"/><polygon points="946.92,196.35 946.76,191.92 950.56,188.77" fill="#d6111f"/><polygon points="950.41,189.29 946.61,192.44 950.26,184.85" fill="#d8121e"/><polygon points="946.78,192.49 946.63,188.04 950.44,184.91" fill="#d9131e"/><polygon points="950.28,185.43 946.48,188.57 950.14,180.97" fill="#dc151d"/><polygon points="946.65,188.63 946.5,184.16 950.31,181.03" fill="#dd161d"/><polygon points="950.16,181.56 946.34,184.69 950.01,177.09" fill="#e31a1c"/><polygon points="946.52,184.74 946.36,180.26 950.18,177.14" fill="#e7221e"/><polygon points="950.03,177.67 946.21,180.79 949.88,173.18" fill="#ee3222"/><polygon points="946.38,180.85 946.23,176.35 950.05,173.24" fill="#f23b24"/><polygon points="949.9,173.77 946.07,176.88 949.75,169.27" fill="#fa4b29"/><polygon points="946.25,176.94 946.09,172.43 949.93,169.33" fill="#fc562c"/><polygon points="949.77,169.86 945.94,172.96 949.62,165.34" fill="#fc7033"/><polygon points="946.11,173.02 945.96,168.5 949.8,165.41" fill="#fc7c37"/><polygon points="949.64,165.93 945.8,169.02 949.49,161.4" fill="#fd923e"/><polygon points="945.98,169.09 945.82,164.55 949.67,161.47" fill="#fd9941"/><polygon points="949.51,161.99 945.67,165.08 949.36,157.45" fill="#fda345"/><polygon points="947.24,195.88 943.42,199.06 947.09,191.45" fill="#d4101f"/><polygon points="943.59,199.12 943.43,194.67 947.26,191.5" fill="#d6111f"/><polygon points="947.11,192.03 943.28,195.2 946.95,187.58" fill="#d8121e"/><polygon points="943.46,195.25 943.3,190.79 947.13,187.63" fill="#d9131e"/><polygon points="946.97,188.16 943.14,191.32 946.82,183.69" fill="#dc151d"/><polygon points="943.32,191.38 943.16,186.9 946.99,183.75" fill="#dd161d"/><polygon points="946.84,184.28 943,187.43 946.69,179.8" fill="#e31a1c"/><polygon points="943.18,187.49 943.02,183 946.86,179.86" fill="#e7221e"/><polygon points="946.71,180.38 942.86,183.52 946.55,175.89" fill="#ee3222"/><polygon points="943.04,183.58 942.87,179.08 946.73,175.95" fill="#f23b24"/><polygon points="946.57,176.47 942.72,179.61 946.42,171.96" fill="#fa4b29"/><polygon points="942.9,179.67 942.73,175.15 946.59,172.03" fill="#fc562c"/><polygon points="946.44,172.55 942.58,175.68 946.28,168.03" fill="#fc7033"/><polygon points="942.75,175.74 942.59,171.2 946.46,168.09" fill="#fc7c37"/><polygon points="946.3,168.62 942.44,171.73 946.15,164.08" fill="#fd923e"/><polygon points="943.92,198.65 940.08,201.85 943.76,194.2" fill="#d4101f"/><polygon points="940.25,201.9 940.08,197.45 943.94,194.26" fill="#d6111f"/><polygon points="943.78,194.78 939.93,197.97 943.62,190.32" fill="#d8121e"/><polygon points="940.11,198.03 939.94,193.56 943.8,190.38" fill="#d9131e"/><polygon points="943.64,190.91 939.79,194.09 943.48,186.43" fill="#dc151d"/><polygon points="939.96,194.14 939.79,189.66 943.66,186.49" fill="#dd161d"/><polygon points="943.5,187.02 939.64,190.19 943.34,182.53" fill="#e31a1c"/><polygon points="939.81,190.25 939.65,185.75 943.52,182.58" fill="#e7221e"/><polygon points="943.36,183.11 939.49,186.28 943.2,178.61" fill="#ee3222"/><polygon points="939.67,186.33 939.5,181.82 943.38,178.67" fill="#f23b24"/><polygon points="943.22,179.2 939.35,182.35 943.06,174.68" fill="#fa4b29"/><polygon points="939.52,182.41 939.35,177.88 943.24,174.74" fill="#fc562c"/><polygon points="943.08,175.27 939.2,178.41 942.92,170.73" fill="#fc7033"/><polygon points="940.58,201.43 936.71,204.65 940.41,196.98" fill="#d4101f"/><polygon points="936.89,204.71 936.71,200.24 940.59,197.03" fill="#d6111f"/><polygon points="940.44,197.56 936.56,200.77 940.27,193.09" fill="#d8121e"/><polygon points="936.73,200.83 936.56,196.35 940.44,193.14" fill="#d9131e"/><polygon points="940.29,193.67 936.41,196.88 940.12,189.19" fill="#dc151d"/><polygon points="936.58,196.93 936.41,192.44 940.3,189.24" fill="#dd161d"/><polygon points="940.15,189.77 936.25,192.97 939.98,185.27" fill="#e31a1c"/><polygon points="936.43,193.02 936.26,188.52 940.15,185.33" fill="#e7221e"/><polygon points="940,185.86 936.1,189.05 939.83,181.35" fill="#ee3222"/><polygon points="936.28,189.1 936.1,184.58 940.01,181.41" fill="#f23b24"/><polygon points="939.85,181.94 935.95,185.11 939.68,177.41" fill="#fa4b29"/><polygon points="937.22,204.23 933.32,207.48 937.04,199.77" fill="#d4101f"/><polygon points="933.5,207.53 933.32,203.06 937.22,199.82" fill="#d6111f"/><polygon points="937.07,200.35 933.16,203.59 936.89,195.87" fill="#d8121e"/><polygon points="933.34,203.64 933.16,199.15 937.07,195.93" fill="#d9131e"/><polygon points="936.91,196.46 933,199.68 936.74,191.96" fill="#dc151d"/><polygon points="933.18,199.74 933,195.23 936.92,192.02" fill="#dd161d"/><polygon points="936.76,192.55 932.85,195.77 936.59,188.04" fill="#e31a1c"/><polygon points="933.02,195.82 932.84,191.3 936.77,188.1" fill="#e7221e"/><polygon points="936.61,188.63 932.69,191.84 936.44,184.11" fill="#ee3222"/><polygon points="933.83,207.05 929.91,210.32 933.65,202.58" fill="#d4101f"/><polygon points="930.09,210.37 929.9,205.89 933.83,202.63" fill="#d6111f"/><polygon points="933.67,203.16 929.74,206.42 933.49,198.67" fill="#d8121e"/><polygon points="929.92,206.47 929.73,201.98 933.67,198.73" fill="#d9131e"/><polygon points="933.52,199.26 929.58,202.51 933.33,194.76" fill="#dc151d"/><polygon points="929.76,202.56 929.57,198.05 933.51,194.81" fill="#dd161d"/><polygon points="933.36,195.35 929.41,198.58 933.18,190.83" fill="#e31a1c"/><polygon points="930.42,209.89 926.47,213.18 930.23,205.41" fill="#d4101f"/><polygon points="926.65,213.23 926.46,208.74 930.41,205.46" fill="#d6111f"/><polygon points="930.26,205.99 926.3,209.27 930.07,201.5" fill="#d8121e"/><polygon points="926.48,209.33 926.29,204.82 930.25,201.55" fill="#d9131e"/><polygon points="930.09,202.08 926.13,205.35 929.9,197.57" fill="#dc151d"/><polygon points="926.99,212.75 923.01,216.06 926.79,208.26" fill="#d4101f"/><polygon points="923.19,216.11 922.99,211.61 926.97,208.31" fill="#d6111f"/><polygon points="926.82,208.85 922.84,212.15 926.62,204.34" fill="#d8121e"/><polygon points="923.53,215.63 919.53,218.96 923.33,211.13" fill="#d4101f"/></g>
<g opacity="0.9" filter="url(#blurS)"><polygon points="1003.02,149.15 1008.66,150.8 1002.98,144.88" fill="#e2191c"/><polygon points="1008.42,150.91 1008.38,146.64 1002.73,144.99" fill="#e2191c"/><polygon points="1002.98,145.43 1008.63,147.08 1002.94,141.15" fill="#e2191c"/><polygon points="1008.39,147.19 1008.35,142.91 1002.7,141.27" fill="#e2191c"/><polygon points="1002.95,141.71 1008.6,143.35 1002.9,137.42" fill="#e2191c"/><polygon points="1008.36,143.47 1008.32,139.17 1002.66,137.53" fill="#e2191c"/><polygon points="1002.91,137.98 1008.57,139.61 1002.87,133.67" fill="#e2191c"/><polygon points="1008.33,139.73 1008.3,135.41 1002.62,133.78" fill="#e2191c"/><polygon points="1002.87,134.23 1008.55,135.86 1002.83,129.91" fill="#e31c1c"/><polygon points="1008.3,135.98 1008.27,131.65 1002.58,130.03" fill="#e6201d"/><polygon points="1002.83,130.47 1008.52,132.1 1002.79,126.14" fill="#ee3122"/><polygon points="1008.27,132.22 1008.24,127.87 1002.54,126.25" fill="#f23b24"/><polygon points="1002.8,126.7 1008.49,128.32 1002.75,122.35" fill="#fc5a2d"/><polygon points="1008.24,128.44 1008.21,124.08 1002.51,122.47" fill="#fc6831"/><polygon points="1002.76,122.92 1008.46,124.53 1002.71,118.56" fill="#fd913d"/><polygon points="1008.21,124.65 1008.18,120.28 1002.47,118.68" fill="#fd9a41"/><polygon points="1002.72,119.13 1008.43,120.73 1002.68,114.75" fill="#feb650"/><polygon points="1008.18,120.86 1008.15,116.47 1002.43,114.87" fill="#febd58"/><polygon points="1002.68,115.32 1008.4,116.92 1002.64,110.93" fill="#fed976"/><polygon points="1008.15,117.04 1008.12,112.65 1002.39,111.05" fill="#fedb7a"/><polygon points="1002.64,111.5 1008.37,113.1 1002.6,107.1" fill="#fee795"/><polygon points="1008.13,113.22 1008.09,108.81 1002.35,107.22" fill="#fee793"/><polygon points="1002.61,107.67 1008.34,109.26 1002.56,103.25" fill="#ffefa5"/><polygon points="1008.1,109.39 1008.06,104.96 1002.31,103.37" fill="#feec9e"/><polygon points="1002.57,103.83 1008.31,105.41 1002.52,99.39" fill="#ffefa6"/><polygon points="1008.07,105.54 1008.03,101.1 1002.28,99.52" fill="#feec9e"/><polygon points="1002.53,99.97 1008.29,101.55 1002.48,95.52" fill="#ffefa6"/><polygon points="1008.04,101.68 1008,97.22 1002.24,95.65" fill="#feec9e"/><polygon points="1002.49,96.11 1008.26,97.68 1002.45,91.64" fill="#ffefa6"/><polygon points="1008.01,97.81 1007.97,93.34 1002.2,91.77" fill="#feec9e"/><polygon points="1002.45,92.23 1008.23,93.79 1002.41,87.75" fill="#ffefa6"/><polygon points="1007.98,93.92 1007.94,89.44 1002.16,87.87" fill="#feec9e"/><polygon points="1002.41,88.33 1008.2,89.9 1002.37,83.84" fill="#ffefa6"/><polygon points="1007.95,90.02 1007.91,85.53 1002.12,83.97" fill="#feec9e"/><polygon points="1002.37,84.43 1008.17,85.99 1002.33,79.92" fill="#ffefa6"/><polygon points="1007.92,86.11 1007.88,81.6 1002.08,80.05" fill="#feec9e"/><polygon points="1002.33,80.51 1008.14,82.06 1002.29,75.99" fill="#ffefa6"/><polygon points="1007.89,82.19 1007.85,77.66 1002.04,76.12" fill="#feec9e"/><polygon points="1002.3,76.58 1008.11,78.13 1002.25,72.04" fill="#ffefa6"/><polygon points="1007.86,78.26 1007.82,73.71 1002,72.17" fill="#feec9e"/><polygon points="1002.26,72.64 1008.08,74.18 1002.21,68.09" fill="#ffefa6"/><polygon points="1007.83,74.31 1007.79,69.75 1001.96,68.22" fill="#feec9e"/><polygon points="1002.22,68.68 1008.05,70.21 1002.17,64.12" fill="#ffefa6"/><polygon points="1007.8,70.35 1007.76,65.77 1001.92,64.25" fill="#feec9e"/><polygon points="1002.18,64.71 1008.02,66.24 1002.13,60.13" fill="#ffefa6"/><polygon points="1007.76,66.37 1007.73,61.79 1001.88,60.26" fill="#feec9e"/><polygon points="1002.14,60.73 1007.99,62.25 1002.09,56.14" fill="#ffefa6"/><polygon points="1007.73,62.39 1007.7,57.78 1001.84,56.27" fill="#feec9e"/><polygon points="1002.1,56.74 1007.96,58.25 1002.05,52.13" fill="#ffefa6"/><polygon points="1007.7,58.39 1007.67,53.77 1001.8,52.26" fill="#feec9e"/><polygon points="1002.06,52.73 1007.93,54.24 1002.01,48.1" fill="#ffefa6"/><polygon points="1007.92,150.58 1013.58,152.24 1007.89,146.31" fill="#e2191c"/><polygon points="1013.34,152.35 1013.31,148.07 1007.64,146.42" fill="#e2191c"/><polygon points="1007.89,146.87 1013.56,148.52 1007.86,142.58" fill="#e2191c"/><polygon points="1013.32,148.63 1013.29,144.34 1007.61,142.69" fill="#e2191c"/><polygon points="1007.86,143.14 1013.54,144.78 1007.83,138.84" fill="#e2191c"/><polygon points="1013.3,144.9 1013.27,140.59 1007.58,138.95" fill="#e2191c"/><polygon points="1007.83,139.4 1013.52,141.04 1007.8,135.08" fill="#e2191c"/><polygon points="1013.27,141.16 1013.25,136.84 1007.55,135.2" fill="#e2191c"/><polygon points="1007.8,135.65 1013.5,137.28 1007.77,131.32" fill="#e31c1c"/><polygon points="1013.25,137.4 1013.23,133.07 1007.52,131.44" fill="#e51f1d"/><polygon points="1007.77,131.89 1013.48,133.52 1007.74,127.54" fill="#ec2d21"/><polygon points="1013.23,133.63 1013.21,129.29 1007.49,127.66" fill="#f03623"/><polygon points="1007.74,128.11 1013.46,129.74 1007.71,123.75" fill="#fc502a"/><polygon points="1013.21,129.85 1013.19,125.49 1007.46,123.87" fill="#fc5c2e"/><polygon points="1007.71,124.32 1013.44,125.94 1007.68,119.95" fill="#fc8439"/><polygon points="1013.19,126.06 1013.16,121.69 1007.43,120.07" fill="#fd8d3c"/><polygon points="1007.68,120.52 1013.42,122.14 1007.65,116.14" fill="#fda847"/><polygon points="1013.17,122.26 1013.14,117.87 1007.4,116.26" fill="#fdab49"/><polygon points="1007.65,116.71 1013.4,118.32 1007.62,112.32" fill="#fec763"/><polygon points="1013.15,118.44 1013.12,114.04 1007.37,112.44" fill="#fec763"/><polygon points="1007.62,112.89 1013.37,114.49 1007.59,108.48" fill="#fedc7d"/><polygon points="1013.13,114.62 1013.1,110.2 1007.34,108.6" fill="#feda79"/><polygon points="1007.59,109.06 1013.35,110.65 1007.56,104.63" fill="#fee38c"/><polygon points="1013.1,110.78 1013.08,106.34 1007.31,104.75" fill="#fede81"/><polygon points="1007.56,105.21 1013.33,106.8 1007.53,100.77" fill="#fee48d"/><polygon points="1013.08,106.92 1013.06,102.48 1007.28,100.89" fill="#fede81"/><polygon points="1007.53,101.35 1013.31,102.93 1007.5,96.89" fill="#fee48d"/><polygon points="1013.06,103.06 1013.04,98.6 1007.25,97.02" fill="#fede81"/><polygon points="1007.5,97.47 1013.29,99.06 1007.47,93.01" fill="#fee48d"/><polygon points="1013.04,99.18 1013.01,94.71 1007.22,93.13" fill="#fede81"/><polygon points="1007.47,93.59 1013.27,95.16 1007.44,89.11" fill="#fee48d"/><polygon points="1013.02,95.29 1012.99,90.8 1007.19,89.23" fill="#fede81"/><polygon points="1007.44,89.69 1013.25,91.26 1007.41,85.19" fill="#fee48d"/><polygon points="1013,91.39 1012.97,86.88 1007.15,85.32" fill="#fede81"/><polygon points="1007.41,85.78 1013.22,87.34 1007.37,81.27" fill="#fee48d"/><polygon points="1012.97,87.47 1012.95,82.96 1007.12,81.4" fill="#fede81"/><polygon points="1007.38,81.86 1013.2,83.42 1007.34,77.33" fill="#fee48d"/><polygon points="1012.95,83.55 1012.93,79.01 1007.09,77.46" fill="#fede81"/><polygon points="1007.35,77.92 1013.18,79.47 1007.31,73.38" fill="#fee48d"/><polygon points="1012.93,79.6 1012.9,75.06 1007.06,73.51" fill="#fede81"/><polygon points="1007.32,73.98 1013.16,75.52 1007.28,69.42" fill="#fee48d"/><polygon points="1012.91,75.65 1012.88,71.09 1007.03,69.55" fill="#fede81"/><polygon points="1007.29,70.01 1013.14,71.55 1007.25,65.44" fill="#fee48d"/><polygon points="1012.88,71.69 1012.86,67.11 1007,65.57" fill="#fede81"/><polygon points="1007.25,66.04 1013.12,67.57 1007.22,61.45" fill="#fee48d"/><polygon points="1012.86,67.71 1012.84,63.11 1006.96,61.59" fill="#fede81"/><polygon points="1007.22,62.05 1013.09,63.58 1007.19,57.45" fill="#fee48d"/><polygon points="1012.84,63.71 1012.81,59.11 1006.93,57.59" fill="#fede81"/><polygon points="1007.19,58.05 1013.07,59.57 1007.15,53.44" fill="#fee48d"/><polygon points="1012.84,152.02 1018.52,153.68 1012.82,147.74" fill="#e2191c"/><polygon points="1018.28,153.8 1018.26,149.51 1012.57,147.86" fill="#e2191c"/><polygon points="1012.82,148.3 1018.51,149.96 1012.8,144.01" fill="#e2191c"/><polygon points="1018.26,150.07 1018.25,145.78 1012.55,144.12" fill="#e2191c"/><polygon points="1012.8,144.57 1018.5,146.22 1012.77,140.26" fill="#e2191c"/><polygon points="1018.25,146.34 1018.24,142.03 1012.53,140.38" fill="#e2191c"/><polygon points="1012.78,140.83 1018.49,142.47 1012.75,136.51" fill="#e2191c"/><polygon points="1018.24,142.59 1018.22,138.26 1012.51,136.62" fill="#e2191c"/><polygon points="1012.76,137.07 1018.47,138.71 1012.73,132.74" fill="#e31c1c"/><polygon points="1018.22,138.83 1018.21,134.49 1012.48,132.85" fill="#e41d1c"/><polygon points="1012.73,133.3 1018.46,134.94 1012.71,128.96" fill="#eb2a20"/><polygon points="1018.21,135.06 1018.2,130.7 1012.46,129.07" fill="#ed2f21"/><polygon points="1012.71,129.52 1018.45,131.15 1012.69,125.16" fill="#f74427"/><polygon points="1018.2,131.27 1018.18,126.91 1012.44,125.28" fill="#f94928"/><polygon points="1012.69,125.73 1018.43,127.36 1012.66,121.36" fill="#fc6a32"/><polygon points="1018.18,127.48 1018.17,123.1 1012.42,121.48" fill="#fc6c32"/><polygon points="1012.67,121.93 1018.42,123.55 1012.64,117.54" fill="#fd913d"/><polygon points="1018.17,123.67 1018.16,119.27 1012.39,117.66" fill="#fd8f3d"/><polygon points="1012.65,118.11 1018.41,119.73 1012.62,113.71" fill="#fda948"/><polygon points="1018.16,119.85 1018.14,115.44 1012.37,113.83" fill="#fda345"/><polygon points="1012.62,114.28 1018.39,115.89 1012.6,109.87" fill="#febb56"/><polygon points="1018.14,116.02 1018.13,111.59 1012.35,109.99" fill="#feb24c"/><polygon points="1012.6,110.44 1018.38,112.05 1012.58,106.01" fill="#fec661"/><polygon points="1018.13,112.17 1018.11,107.73 1012.32,106.14" fill="#feb752"/><polygon points="1012.58,106.59 1018.37,108.19 1012.55,102.15" fill="#fec661"/><polygon points="1018.12,108.31 1018.1,103.86 1012.3,102.27" fill="#feb752"/><polygon points="1012.56,102.73 1018.35,104.32 1012.53,98.27" fill="#fec661"/><polygon points="1018.1,104.44 1018.09,99.98 1012.28,98.39" fill="#feb752"/><polygon points="1012.53,98.85 1018.34,100.44 1012.51,94.37" fill="#fec661"/><polygon points="1018.09,100.56 1018.07,96.08 1012.26,94.5" fill="#feb752"/><polygon points="1012.51,94.96 1018.33,96.54 1012.48,90.47" fill="#fec661"/><polygon points="1018.08,96.67 1018.06,92.17 1012.23,90.6" fill="#feb752"/><polygon points="1012.49,91.06 1018.31,92.63 1012.46,86.55" fill="#fec661"/><polygon points="1018.06,92.76 1018.05,88.25 1012.21,86.68" fill="#feb752"/><polygon points="1012.46,87.14 1018.3,88.71 1012.44,82.62" fill="#fec661"/><polygon points="1018.05,88.84 1018.03,84.31 1012.19,82.75" fill="#feb752"/><polygon points="1012.44,83.21 1018.29,84.78 1012.42,78.68" fill="#fec661"/><polygon points="1018.03,84.91 1018.02,80.37 1012.16,78.81" fill="#feb752"/><polygon points="1012.42,79.27 1018.27,80.83 1012.39,74.72" fill="#fec661"/><polygon points="1018.02,80.96 1018,76.41 1012.14,74.85" fill="#feb752"/><polygon points="1012.4,75.32 1018.26,76.87 1012.37,70.76" fill="#fec661"/><polygon points="1018.01,77 1017.99,72.43 1012.12,70.89" fill="#feb752"/><polygon points="1012.37,71.35 1018.25,72.9 1012.35,66.77" fill="#fec661"/><polygon points="1017.99,73.03 1017.98,68.45 1012.09,66.91" fill="#feb752"/><polygon points="1012.35,67.37 1018.23,68.91 1012.32,62.78" fill="#fec661"/><polygon points="1017.98,69.04 1017.96,64.45 1012.07,62.91" fill="#feb752"/><polygon points="1012.33,63.38 1018.22,64.91 1012.3,58.77" fill="#fec661"/><polygon points="1017.78,153.47 1023.48,155.14 1017.77,149.18" fill="#e2191c"/><polygon points="1023.24,155.25 1023.23,150.96 1017.52,149.3" fill="#e2191c"/><polygon points="1017.77,149.74 1023.48,151.41 1017.75,145.45" fill="#e2191c"/><polygon points="1023.23,151.52 1023.22,147.22 1017.5,145.56" fill="#e2191c"/><polygon points="1017.75,146.01 1023.47,147.66 1017.74,141.69" fill="#e2191c"/><polygon points="1023.22,147.78 1023.22,143.46 1017.49,141.81" fill="#e2191c"/><polygon points="1017.74,142.26 1023.47,143.91 1017.72,137.93" fill="#e2191c"/><polygon points="1023.22,144.03 1023.21,139.7 1017.48,138.05" fill="#e2191c"/><polygon points="1017.73,138.5 1023.46,140.15 1017.71,134.16" fill="#e31a1c"/><polygon points="1023.21,140.26 1023.21,135.92 1017.46,134.28" fill="#e31c1c"/><polygon points="1017.71,134.73 1023.46,136.37 1017.7,130.37" fill="#e7241e"/><polygon points="1023.21,136.49 1023.2,132.13 1017.45,130.49" fill="#e9271f"/><polygon points="1017.7,130.94 1023.45,132.58 1017.68,126.58" fill="#f13724"/><polygon points="1023.2,132.7 1023.2,128.33 1017.43,126.69" fill="#f23924"/><polygon points="1017.68,127.15 1023.45,128.78 1017.67,122.76" fill="#fc4e2a"/><polygon points="1023.2,128.9 1023.19,124.51 1017.42,122.88" fill="#fc4e2a"/><polygon points="1017.67,123.34 1023.44,124.96 1017.65,118.94" fill="#fc6c32"/><polygon points="1023.19,125.08 1023.19,120.68 1017.4,119.06" fill="#fc6831"/><polygon points="1017.65,119.52 1023.44,121.14 1017.64,115.11" fill="#fc883a"/><polygon points="1023.19,121.26 1023.18,116.84 1017.39,115.23" fill="#fc8038"/><polygon points="1017.64,115.68 1023.43,117.3 1017.62,111.26" fill="#fd9640"/><polygon points="1023.18,117.42 1023.17,112.99 1017.37,111.38" fill="#fd8e3c"/><polygon points="1017.63,111.84 1023.43,113.45 1017.61,107.4" fill="#fd9c42"/><polygon points="1023.18,113.57 1023.17,109.13 1017.36,107.52" fill="#fd933e"/><polygon points="1017.61,107.98 1023.42,109.58 1017.6,103.53" fill="#fd9d43"/><polygon points="1023.17,109.71 1023.16,105.25 1017.34,103.65" fill="#fd933e"/><polygon points="1017.6,104.11 1023.42,105.71 1017.58,99.65" fill="#fd9d43"/><polygon points="1023.17,105.83 1023.16,101.36 1017.33,99.77" fill="#fd933e"/><polygon points="1017.58,100.23 1023.41,101.82 1017.57,95.75" fill="#fd9d43"/><polygon points="1023.16,101.95 1023.15,97.46 1017.31,95.87" fill="#fd933e"/><polygon points="1017.57,96.33 1023.41,97.92 1017.55,91.84" fill="#fd9d43"/><polygon points="1023.15,98.05 1023.15,93.55 1017.3,91.97" fill="#fd933e"/><polygon points="1017.55,92.43 1023.4,94.01 1017.54,87.92" fill="#fd9d43"/><polygon points="1023.15,94.13 1023.14,89.62 1017.28,88.04" fill="#fd933e"/><polygon points="1017.54,88.51 1023.4,90.08 1017.52,83.98" fill="#fd9d43"/><polygon points="1023.14,90.21 1023.14,85.68 1017.27,84.11" fill="#fd933e"/><polygon points="1017.52,84.57 1023.39,86.14 1017.51,80.03" fill="#fd9d43"/><polygon points="1023.14,86.27 1023.13,81.73 1017.25,80.16" fill="#fd933e"/><polygon points="1017.51,80.63 1023.39,82.19 1017.49,76.07" fill="#fd9d43"/><polygon points="1023.13,82.32 1023.12,77.76 1017.24,76.2" fill="#fd933e"/><polygon points="1017.49,76.67 1023.38,78.22 1017.48,72.1" fill="#fd9d43"/><polygon points="1023.13,78.36 1023.12,73.78 1017.22,72.23" fill="#fd933e"/><polygon points="1017.48,72.7 1023.38,74.25 1017.46,68.11" fill="#fd9d43"/><polygon points="1023.12,74.38 1023.11,69.79 1017.21,68.24" fill="#fd933e"/><polygon points="1017.47,68.71 1023.37,70.26 1017.45,64.11" fill="#fd9d43"/><polygon points="1022.74,154.92 1028.46,156.59 1022.73,150.63" fill="#e2191c"/><polygon points="1028.21,156.71 1028.21,152.41 1022.48,150.74" fill="#e2191c"/><polygon points="1022.73,151.19 1028.46,152.86 1022.73,146.89" fill="#e2191c"/><polygon points="1028.21,152.97 1028.22,148.67 1022.48,147" fill="#e2191c"/><polygon points="1022.73,147.45 1028.47,149.11 1022.72,143.13" fill="#e2191c"/><polygon points="1028.22,149.23 1028.22,144.91 1022.47,143.25" fill="#e2191c"/><polygon points="1022.72,143.7 1028.47,145.36 1022.71,139.37" fill="#e2191c"/><polygon points="1028.22,145.47 1028.22,141.14 1022.46,139.48" fill="#e2191c"/><polygon points="1022.71,139.93 1028.47,141.58 1022.71,135.59" fill="#e31a1c"/><polygon points="1028.22,141.7 1028.22,137.35 1022.46,135.7" fill="#e31a1c"/><polygon points="1022.71,136.15 1028.48,137.8 1022.7,131.8" fill="#e6201d"/><polygon points="1028.22,137.92 1028.23,133.56 1022.45,131.91" fill="#e7221e"/><polygon points="1022.7,132.37 1028.48,134.01 1022.69,127.99" fill="#eb2c20"/><polygon points="1028.23,134.13 1028.23,129.75 1022.44,128.11" fill="#eb2c20"/><polygon points="1022.69,128.56 1028.48,130.2 1022.69,124.18" fill="#f23b24"/><polygon points="1028.23,130.32 1028.23,125.93 1022.44,124.3" fill="#f23924"/><polygon points="1022.69,124.75 1028.48,126.38 1022.68,120.35" fill="#fa4b29"/><polygon points="1028.23,126.5 1028.23,122.1 1022.43,120.47" fill="#f84627"/><polygon points="1022.68,120.93 1028.49,122.55 1022.68,116.51" fill="#fc5c2e"/><polygon points="1028.23,122.67 1028.24,118.25 1022.42,116.63" fill="#fc502a"/><polygon points="1022.68,117.09 1028.49,118.71 1022.67,112.66" fill="#fc6a32"/><polygon points="1028.24,118.83 1028.24,114.4 1022.42,112.78" fill="#fc5a2d"/><polygon points="1022.67,113.24 1028.49,114.85 1022.66,108.8" fill="#fc7033"/><polygon points="1028.24,114.98 1028.24,110.53 1022.41,108.92" fill="#fc5e2e"/><polygon points="1022.66,109.38 1028.5,110.99 1022.66,104.92" fill="#fc7234"/><polygon points="1028.24,111.11 1028.25,106.65 1022.4,105.04" fill="#fc5e2e"/><polygon points="1022.66,105.5 1028.5,107.1 1022.65,101.03" fill="#fc7234"/><polygon points="1028.25,107.23 1028.25,102.75 1022.4,101.15" fill="#fc5e2e"/><polygon points="1022.65,101.61 1028.5,103.21 1022.64,97.13" fill="#fc7234"/><polygon points="1028.25,103.34 1028.25,98.85 1022.39,97.25" fill="#fc5e2e"/><polygon points="1022.64,97.71 1028.51,99.31 1022.64,93.21" fill="#fc7234"/><polygon points="1028.25,99.43 1028.25,94.93 1022.38,93.34" fill="#fc5e2e"/><polygon points="1022.64,93.8 1028.51,95.39 1022.63,89.28" fill="#fc7234"/><polygon points="1028.25,95.51 1028.26,90.99 1022.38,89.41" fill="#fc5e2e"/><polygon points="1022.63,89.87 1028.51,91.46 1022.63,85.34" fill="#fc7234"/><polygon points="1028.26,91.58 1028.26,87.05 1022.37,85.47" fill="#fc5e2e"/><polygon points="1022.63,85.94 1028.52,87.51 1022.62,81.39" fill="#fc7234"/><polygon points="1028.26,87.64 1028.26,83.09 1022.36,81.52" fill="#fc5e2e"/><polygon points="1022.62,81.99 1028.52,83.55 1022.61,77.43" fill="#fc7234"/><polygon points="1028.26,83.68 1028.27,79.12 1022.36,77.56" fill="#fc5e2e"/><polygon points="1022.61,78.02 1028.52,79.58 1022.61,73.45" fill="#fc7234"/><polygon points="1028.27,79.71 1028.27,75.13 1022.35,73.58" fill="#fc5e2e"/><polygon points="1022.61,74.04 1028.53,75.6 1022.6,69.45" fill="#fc7234"/><polygon points="1027.71,156.38 1033.46,158.06 1027.71,152.08" fill="#e2191c"/><polygon points="1033.21,158.17 1033.22,153.87 1027.46,152.19" fill="#e2191c"/><polygon points="1027.71,152.64 1033.47,154.32 1027.72,148.33" fill="#e2191c"/><polygon points="1033.22,154.43 1033.23,150.12 1027.47,148.45" fill="#e2191c"/><polygon points="1027.72,148.9 1033.48,150.57 1027.72,144.57" fill="#e2191c"/><polygon points="1033.23,150.68 1033.24,146.35 1027.47,144.69" fill="#e0181c"/><polygon points="1027.72,145.14 1033.49,146.8 1027.72,140.8" fill="#e2191c"/><polygon points="1033.24,146.92 1033.25,142.58 1027.47,140.92" fill="#e0181c"/><polygon points="1027.72,141.37 1033.5,143.03 1027.72,137.02" fill="#e2191c"/><polygon points="1033.25,143.15 1033.26,138.79 1027.47,137.14" fill="#e2191c"/><polygon points="1027.72,137.59 1033.51,139.24 1027.72,133.22" fill="#e31c1c"/><polygon points="1033.26,139.36 1033.27,134.99 1027.47,133.34" fill="#e31c1c"/><polygon points="1027.72,133.79 1033.52,135.44 1027.73,129.42" fill="#e7221e"/><polygon points="1033.27,135.56 1033.28,131.18 1027.47,129.54" fill="#e6201d"/><polygon points="1027.73,129.99 1033.53,131.63 1027.73,125.6" fill="#ea2920"/><polygon points="1033.28,131.75 1033.29,127.35 1027.47,125.72" fill="#e8251f"/><polygon points="1027.73,126.17 1033.54,127.81 1027.73,121.76" fill="#ed2f21"/><polygon points="1033.29,127.93 1033.3,123.52 1027.48,121.89" fill="#eb2a20"/><polygon points="1027.73,122.34 1033.56,123.97 1027.73,117.92" fill="#f03623"/><polygon points="1033.3,124.09 1033.31,119.67 1027.48,118.04" fill="#ed2f21"/><polygon points="1027.73,118.5 1033.57,120.12 1027.73,114.06" fill="#f23b24"/><polygon points="1033.31,120.25 1033.32,115.81 1027.48,114.19" fill="#ee3222"/><polygon points="1027.73,114.64 1033.58,116.26 1027.74,110.19" fill="#f43e25"/><polygon points="1033.32,116.39 1033.34,111.93 1027.48,110.32" fill="#ee3222"/><polygon points="1027.73,110.78 1033.59,112.39 1027.74,106.31" fill="#f43e25"/><polygon points="1033.33,112.52 1033.35,108.05 1027.48,106.44" fill="#ee3222"/><polygon points="1027.74,106.9 1033.6,108.51 1027.74,102.42" fill="#f43e25"/><polygon points="1033.35,108.63 1033.36,104.15 1027.48,102.54" fill="#ee3222"/><polygon points="1027.74,103 1033.61,104.61 1027.74,98.51" fill="#f43e25"/><polygon points="1033.36,104.73 1033.37,100.24 1027.49,98.64" fill="#ee3222"/><polygon points="1027.74,99.1 1033.62,100.7 1027.74,94.59" fill="#f43e25"/><polygon points="1033.37,100.82 1033.38,96.31 1027.49,94.72" fill="#ee3222"/><polygon points="1027.74,95.18 1033.64,96.77 1027.74,90.66" fill="#f43e25"/><polygon points="1033.38,96.9 1033.39,92.37 1027.49,90.79" fill="#ee3222"/><polygon points="1027.74,91.25 1033.65,92.84 1027.75,86.71" fill="#f43e25"/><polygon points="1033.39,92.96 1033.4,88.42 1027.49,86.84" fill="#ee3222"/><polygon points="1027.75,87.31 1033.66,88.89 1027.75,82.75" fill="#f43e25"/><polygon points="1033.4,89.02 1033.41,84.46 1027.49,82.88" fill="#ee3222"/><polygon points="1027.75,83.35 1033.67,84.92 1027.75,78.78" fill="#f43e25"/><polygon points="1033.41,85.05 1033.42,80.48 1027.49,78.91" fill="#ee3222"/><polygon points="1027.75,79.38 1033.68,80.95 1027.75,74.8" fill="#f43e25"/><polygon points="1032.71,157.84 1038.47,159.52 1032.72,153.54" fill="#e2191c"/><polygon points="1038.22,159.64 1038.24,155.33 1032.47,153.65" fill="#da141e"/><polygon points="1032.71,154.1 1038.49,155.78 1032.73,149.79" fill="#e0181c"/><polygon points="1038.24,155.9 1038.26,151.58 1032.47,149.9" fill="#d9131e"/><polygon points="1032.72,150.35 1038.51,152.03 1032.74,146.02" fill="#df171c"/><polygon points="1038.26,152.14 1038.28,147.81 1032.48,146.14" fill="#d8121e"/><polygon points="1032.73,146.59 1038.53,148.26 1032.75,142.25" fill="#df171c"/><polygon points="1038.27,148.37 1038.3,144.03 1032.49,142.36" fill="#d8121e"/><polygon points="1032.74,142.81 1038.55,144.48 1032.76,138.46" fill="#e0181c"/><polygon points="1038.29,144.6 1038.31,140.24 1032.5,138.57" fill="#d9131e"/><polygon points="1032.75,139.03 1038.57,140.69 1032.77,134.66" fill="#e2191c"/><polygon points="1038.31,140.81 1038.33,136.43 1032.51,134.78" fill="#da141e"/><polygon points="1032.76,135.23 1038.58,136.88 1032.78,130.85" fill="#e2191c"/><polygon points="1038.33,137 1038.35,132.61 1032.52,130.96" fill="#dc151d"/><polygon points="1032.77,131.42 1038.6,133.07 1032.79,127.02" fill="#e31a1c"/><polygon points="1038.35,133.19 1038.37,128.78 1032.53,127.14" fill="#dc151d"/><polygon points="1032.78,127.6 1038.62,129.24 1032.8,123.18" fill="#e31c1c"/><polygon points="1038.37,129.36 1038.39,124.94 1032.54,123.3" fill="#dc151d"/><polygon points="1032.79,123.76 1038.64,125.4 1032.81,119.33" fill="#e31c1c"/><polygon points="1038.39,125.52 1038.41,121.09 1032.55,119.46" fill="#dc151d"/><polygon points="1032.8,119.91 1038.66,121.55 1032.82,115.47" fill="#e31c1c"/><polygon points="1038.41,121.67 1038.43,117.22 1032.56,115.59" fill="#dc151d"/><polygon points="1032.81,116.05 1038.68,117.68 1032.83,111.6" fill="#e31c1c"/><polygon points="1038.43,117.8 1038.45,113.34 1032.57,111.72" fill="#dc151d"/><polygon points="1032.82,112.18 1038.7,113.8 1032.84,107.71" fill="#e31c1c"/><polygon points="1038.44,113.93 1038.47,109.45 1032.58,107.84" fill="#dc151d"/><polygon points="1032.83,108.3 1038.72,109.91 1032.85,103.81" fill="#e31c1c"/><polygon points="1038.46,110.04 1038.49,105.55 1032.59,103.94" fill="#dc151d"/><polygon points="1032.84,104.4 1038.74,106.01 1032.86,99.9" fill="#e31c1c"/><polygon points="1038.48,106.13 1038.51,101.63 1032.6,100.03" fill="#dc151d"/><polygon points="1032.86,100.49 1038.76,102.09 1032.87,95.98" fill="#e31c1c"/><polygon points="1038.5,102.22 1038.53,97.7 1032.61,96.1" fill="#dc151d"/><polygon points="1032.87,96.56 1038.78,98.16 1032.88,92.04" fill="#e31c1c"/><polygon points="1038.52,98.29 1038.54,93.76 1032.62,92.16" fill="#dc151d"/><polygon points="1032.88,92.63 1038.8,94.22 1032.89,88.09" fill="#e31c1c"/><polygon points="1038.54,94.35 1038.56,89.8 1032.63,88.22" fill="#dc151d"/><polygon points="1032.89,88.68 1038.82,90.27 1032.9,84.12" fill="#e31c1c"/><polygon points="1038.56,90.4 1038.58,85.83 1032.64,84.25" fill="#dc151d"/><polygon points="1032.9,84.72 1038.84,86.3 1032.91,80.15" fill="#e31c1c"/><polygon points="1037.72,159.3 1043.5,161 1037.74,155" fill="#ca0922"/><polygon points="1043.25,161.11 1043.28,156.8 1037.48,155.11" fill="#bf0125"/><polygon points="1037.73,155.56 1043.53,157.25 1037.76,151.24" fill="#c70723"/><polygon points="1043.28,157.36 1043.31,153.04 1037.5,151.36" fill="#bd0025"/><polygon points="1037.75,151.81 1043.56,153.49 1037.77,147.47" fill="#c50523"/><polygon points="1043.3,153.61 1043.33,149.27 1037.52,147.59" fill="#b90026"/><polygon points="1037.77,148.04 1043.58,149.72 1037.79,143.69" fill="#c50523"/><polygon points="1043.33,149.83 1043.36,145.48 1037.54,143.81" fill="#b90026"/><polygon points="1037.79,144.26 1043.61,145.93 1037.81,139.9" fill="#c60623"/><polygon points="1043.36,146.05 1043.39,141.69 1037.55,140.02" fill="#bd0025"/><polygon points="1037.81,140.47 1043.64,142.14 1037.83,136.1" fill="#c90822"/><polygon points="1043.38,142.26 1043.41,137.88 1037.57,136.21" fill="#c00225"/><polygon points="1037.82,136.67 1043.67,138.33 1037.85,132.28" fill="#ca0922"/><polygon points="1043.41,138.45 1043.44,134.05 1037.59,132.4" fill="#c10324"/><polygon points="1037.84,132.85 1043.69,134.51 1037.86,128.45" fill="#cb0922"/><polygon points="1043.44,134.63 1043.47,130.22 1037.61,128.57" fill="#c30424"/><polygon points="1037.86,129.02 1043.72,130.68 1037.88,124.61" fill="#cb0922"/><polygon points="1043.46,130.8 1043.5,126.37 1037.63,124.73" fill="#c30424"/><polygon points="1037.88,125.18 1043.75,126.83 1037.9,120.75" fill="#cb0922"/><polygon points="1043.49,126.95 1043.52,122.51 1037.64,120.88" fill="#c30424"/><polygon points="1037.9,121.33 1043.78,122.97 1037.92,116.89" fill="#cb0922"/><polygon points="1043.52,123.09 1043.55,118.64 1037.66,117.01" fill="#c30424"/><polygon points="1037.92,117.47 1043.8,119.1 1037.94,113.01" fill="#cb0922"/><polygon points="1043.55,119.22 1043.58,114.76 1037.68,113.13" fill="#c30424"/><polygon points="1037.93,113.59 1043.83,115.22 1037.96,109.12" fill="#cb0922"/><polygon points="1043.57,115.34 1043.61,110.86 1037.7,109.24" fill="#c30424"/><polygon points="1037.95,109.7 1043.86,111.32 1037.97,105.21" fill="#cb0922"/><polygon points="1043.6,111.45 1043.63,106.95 1037.72,105.34" fill="#c30424"/><polygon points="1037.97,105.8 1043.89,107.41 1037.99,101.29" fill="#cb0922"/><polygon points="1043.63,107.54 1043.66,103.03 1037.73,101.42" fill="#c30424"/><polygon points="1037.99,101.88 1043.92,103.49 1038.01,97.36" fill="#cb0922"/><polygon points="1043.66,103.62 1043.69,99.1 1037.75,97.49" fill="#c30424"/><polygon points="1038.01,97.95 1043.95,99.56 1038.03,93.42" fill="#cb0922"/><polygon points="1043.69,99.69 1043.72,95.15 1037.77,93.55" fill="#c30424"/><polygon points="1038.03,94.01 1043.97,95.61 1038.05,89.47" fill="#cb0922"/><polygon points="1043.71,95.74 1043.75,91.19 1037.79,89.59" fill="#c30424"/><polygon points="1038.05,90.06 1044,91.65 1038.07,85.5" fill="#cb0922"/><polygon points="1042.75,160.78 1048.55,162.48 1042.78,156.47" fill="#a60026"/><polygon points="1048.3,162.59 1048.34,158.27 1042.52,156.58" fill="#950026"/><polygon points="1042.77,157.03 1048.59,158.72 1042.8,152.71" fill="#a00026"/><polygon points="1048.33,158.84 1048.37,154.51 1042.55,152.82" fill="#8d0026"/><polygon points="1042.8,153.27 1048.62,154.96 1042.83,148.93" fill="#9a0026"/><polygon points="1048.37,155.07 1048.41,150.73 1042.57,149.05" fill="#870026"/><polygon points="1042.82,149.5 1048.66,151.18 1042.85,145.15" fill="#980026"/><polygon points="1048.4,151.3 1048.44,146.94 1042.6,145.26" fill="#890026"/><polygon points="1042.85,145.72 1048.69,147.39 1042.88,141.35" fill="#9c0026"/><polygon points="1048.44,147.51 1048.48,143.14 1042.62,141.47" fill="#8f0026"/><polygon points="1042.88,141.92 1048.73,143.59 1042.91,137.54" fill="#a20026"/><polygon points="1048.47,143.71 1048.51,139.33 1042.65,137.66" fill="#960026"/><polygon points="1042.9,138.11 1048.77,139.78 1042.93,133.72" fill="#a80026"/><polygon points="1048.51,139.9 1048.55,135.5 1042.68,133.84" fill="#9a0026"/><polygon points="1042.93,134.29 1048.8,135.95 1042.96,129.88" fill="#ac0026"/><polygon points="1048.54,136.07 1048.59,131.66 1042.7,130" fill="#9e0026"/><polygon points="1042.96,130.46 1048.84,132.12 1042.99,126.04" fill="#ac0026"/><polygon points="1048.58,132.24 1048.62,127.81 1042.73,126.16" fill="#9e0026"/><polygon points="1042.98,126.62 1048.87,128.27 1043.01,122.18" fill="#ac0026"/><polygon points="1048.62,128.39 1048.66,123.95 1042.75,122.3" fill="#9e0026"/><polygon points="1043.01,122.76 1048.91,124.4 1043.04,118.31" fill="#ac0026"/><polygon points="1048.65,124.53 1048.69,120.07 1042.78,118.43" fill="#9e0026"/><polygon points="1043.03,118.89 1048.95,120.53 1043.07,114.42" fill="#ac0026"/><polygon points="1048.69,120.65 1048.73,116.18 1042.81,114.55" fill="#9e0026"/><polygon points="1043.06,115.01 1048.98,116.64 1043.09,110.53" fill="#ac0026"/><polygon points="1048.72,116.76 1048.76,112.28 1042.83,110.65" fill="#9e0026"/><polygon points="1043.09,111.11 1049.02,112.74 1043.12,106.62" fill="#ac0026"/><polygon points="1048.76,112.86 1048.8,108.36 1042.86,106.74" fill="#9e0026"/><polygon points="1043.12,107.2 1049.06,108.83 1043.15,102.69" fill="#ac0026"/><polygon points="1048.8,108.95 1048.84,104.44 1042.89,102.82" fill="#9e0026"/><polygon points="1043.14,103.28 1049.09,104.9 1043.17,98.76" fill="#ac0026"/><polygon points="1048.83,105.03 1048.87,100.5 1042.91,98.89" fill="#9e0026"/><polygon points="1043.17,99.35 1049.13,100.96 1043.2,94.81" fill="#ac0026"/><polygon points="1048.87,101.09 1048.91,96.54 1042.94,94.94" fill="#9e0026"/><polygon points="1043.2,95.4 1049.17,97.01 1043.23,90.85" fill="#ac0026"/><polygon points="1047.79,162.25 1053.62,163.96 1047.83,157.94" fill="#850026"/><polygon points="1053.37,164.07 1053.42,159.75 1047.58,158.05" fill="#810026"/><polygon points="1047.83,158.5 1053.67,160.2 1047.87,154.17" fill="#800026"/><polygon points="1053.41,160.32 1053.46,155.98 1047.61,154.29" fill="#800026"/><polygon points="1047.86,154.74 1053.71,156.43 1047.9,150.4" fill="#800026"/><polygon points="1053.45,156.55 1053.5,152.2 1047.65,150.51" fill="#800026"/><polygon points="1047.9,150.96 1053.75,152.65 1047.94,146.61" fill="#800026"/><polygon points="1053.5,152.77 1053.55,148.41 1047.68,146.72" fill="#800026"/><polygon points="1047.93,147.18 1053.8,148.86 1047.97,142.8" fill="#800026"/><polygon points="1053.54,148.98 1053.59,144.6 1047.71,142.92" fill="#800026"/><polygon points="1047.97,143.38 1053.84,145.05 1048.01,138.99" fill="#800026"/><polygon points="1053.58,145.17 1053.63,140.78 1047.75,139.11" fill="#810026"/><polygon points="1048,139.56 1053.89,141.24 1048.04,135.16" fill="#870026"/><polygon points="1053.63,141.36 1053.68,136.95 1047.78,135.28" fill="#890026"/><polygon points="1048.03,135.74 1053.93,137.41 1048.07,131.32" fill="#8b0026"/><polygon points="1053.67,137.53 1053.72,133.11 1047.82,131.44" fill="#8b0026"/><polygon points="1048.07,131.9 1053.97,133.56 1048.11,127.47" fill="#8d0026"/><polygon points="1053.71,133.68 1053.76,129.25 1047.85,127.59" fill="#8d0026"/><polygon points="1048.1,128.05 1054.02,129.71 1048.14,123.61" fill="#8d0026"/><polygon points="1053.76,129.83 1053.81,125.38 1047.89,123.73" fill="#8d0026"/><polygon points="1048.14,124.19 1054.06,125.84 1048.18,119.73" fill="#8d0026"/><polygon points="1053.8,125.96 1053.85,121.5 1047.92,119.85" fill="#8d0026"/><polygon points="1048.17,120.31 1054.11,121.96 1048.21,115.84" fill="#8d0026"/><polygon points="1053.85,122.08 1053.9,117.61 1047.95,115.97" fill="#8d0026"/><polygon points="1048.21,116.43 1054.15,118.07 1048.25,111.94" fill="#8d0026"/><polygon points="1053.89,118.19 1053.94,113.7 1047.99,112.06" fill="#8d0026"/><polygon points="1048.24,112.53 1054.2,114.16 1048.29,108.03" fill="#8d0026"/><polygon points="1053.94,114.29 1053.99,109.78 1048.02,108.15" fill="#8d0026"/><polygon points="1048.28,108.61 1054.24,110.24 1048.32,104.1" fill="#8d0026"/><polygon points="1053.98,110.37 1054.03,105.85 1048.06,104.22" fill="#8d0026"/><polygon points="1048.32,104.69 1054.29,106.31 1048.36,100.16" fill="#8d0026"/><polygon points="1054.03,106.44 1054.08,101.9 1048.09,100.29" fill="#8d0026"/><polygon points="1048.35,100.75 1054.33,102.37 1048.39,96.21" fill="#8d0026"/><polygon points="1052.86,163.74 1058.71,165.45 1052.91,159.42" fill="#830026"/><polygon points="1058.45,165.56 1058.51,161.24 1052.65,159.53" fill="#810026"/><polygon points="1052.9,159.98 1058.76,161.69 1052.95,155.65" fill="#800026"/><polygon points="1058.51,161.8 1058.56,157.46 1052.7,155.76" fill="#800026"/><polygon points="1052.95,156.21 1058.81,157.92 1052.99,151.86" fill="#800026"/><polygon points="1058.56,158.03 1058.62,153.68 1052.74,151.98" fill="#800026"/><polygon points="1052.99,152.43 1058.87,154.13 1053.04,148.07" fill="#800026"/><polygon points="1058.61,154.25 1058.67,149.88 1052.78,148.19" fill="#800026"/><polygon points="1053.03,148.64 1058.92,150.33 1053.08,144.26" fill="#800026"/><polygon points="1058.66,150.45 1058.72,146.07 1052.82,144.38" fill="#800026"/><polygon points="1053.07,144.84 1058.97,146.52 1053.12,140.44" fill="#800026"/><polygon points="1058.71,146.64 1058.77,142.24 1052.86,140.56" fill="#830026"/><polygon points="1053.12,141.02 1059.02,142.7 1053.17,136.61" fill="#870026"/><polygon points="1058.76,142.82 1058.82,138.41 1052.91,136.73" fill="#890026"/><polygon points="1053.16,137.19 1059.08,138.86 1053.21,132.77" fill="#8b0026"/><polygon points="1058.82,138.98 1058.88,134.56 1052.95,132.89" fill="#8d0026"/><polygon points="1053.2,133.35 1059.13,135.02 1053.25,128.91" fill="#8d0026"/><polygon points="1058.87,135.14 1058.93,130.7 1052.99,129.03" fill="#8d0026"/><polygon points="1053.25,129.49 1059.18,131.16 1053.3,125.04" fill="#8d0026"/><polygon points="1058.92,131.28 1058.98,126.82 1053.04,125.17" fill="#8d0026"/><polygon points="1053.29,125.63 1059.24,127.28 1053.34,121.16" fill="#8d0026"/><polygon points="1058.97,127.41 1059.03,122.94 1053.08,121.28" fill="#8d0026"/><polygon points="1053.33,121.75 1059.29,123.4 1053.38,117.27" fill="#8d0026"/><polygon points="1059.03,123.52 1059.09,119.04 1053.12,117.39" fill="#8d0026"/><polygon points="1053.38,117.85 1059.34,119.5 1053.43,113.36" fill="#8d0026"/><polygon points="1059.08,119.62 1059.14,115.13 1053.16,113.49" fill="#8d0026"/><polygon points="1053.42,113.95 1059.4,115.59 1053.47,109.44" fill="#8d0026"/><polygon points="1059.13,115.71 1059.19,111.2 1053.21,109.57" fill="#8d0026"/><polygon points="1053.46,110.03 1059.45,111.67 1053.51,105.51" fill="#8d0026"/><polygon points="1059.19,111.79 1059.25,107.26 1053.25,105.63" fill="#8d0026"/><polygon points="1053.51,106.1 1059.5,107.73 1053.56,101.56" fill="#8d0026"/><polygon points="1057.95,165.23 1063.82,166.95 1058.01,160.9" fill="#870026"/><polygon points="1063.56,167.06 1063.63,162.73 1057.75,161.01" fill="#850026"/><polygon points="1058,161.47 1063.88,163.18 1058.06,157.13" fill="#800026"/><polygon points="1063.62,163.29 1063.69,158.95 1057.8,157.24" fill="#800026"/><polygon points="1058.05,157.69 1063.94,159.4 1058.11,153.34" fill="#800026"/><polygon points="1063.68,159.52 1063.75,155.16 1057.85,153.45" fill="#800026"/><polygon points="1058.1,153.91 1064,155.61 1058.16,149.54" fill="#800026"/><polygon points="1063.74,155.73 1063.81,151.35 1057.9,149.66" fill="#800026"/><polygon points="1058.15,150.11 1064.06,151.81 1058.21,145.73" fill="#800026"/><polygon points="1063.8,151.93 1063.87,147.54 1057.95,145.85" fill="#800026"/><polygon points="1058.2,146.3 1064.12,147.99 1058.26,141.9" fill="#830026"/><polygon points="1063.86,148.11 1063.93,143.71 1058,142.02" fill="#870026"/><polygon points="1058.25,142.48 1064.18,144.17 1058.31,138.07" fill="#890026"/><polygon points="1063.92,144.28 1063.99,139.87 1058.05,138.19" fill="#8b0026"/><polygon points="1058.3,138.64 1064.24,140.33 1058.36,134.22" fill="#8b0026"/><polygon points="1063.98,140.45 1064.05,136.01 1058.1,134.34" fill="#8d0026"/><polygon points="1058.35,134.8 1064.3,136.47 1058.41,130.36" fill="#8d0026"/><polygon points="1064.04,136.59 1064.11,132.15 1058.15,130.48" fill="#8d0026"/><polygon points="1058.41,130.94 1064.37,132.61 1058.47,126.48" fill="#8d0026"/><polygon points="1064.1,132.73 1064.17,128.27 1058.2,126.61" fill="#8d0026"/><polygon points="1058.46,127.07 1064.43,128.73 1058.52,122.6" fill="#8d0026"/><polygon points="1064.16,128.85 1064.23,124.38 1058.26,122.72" fill="#8d0026"/><polygon points="1058.51,123.18 1064.49,124.84 1058.57,118.7" fill="#8d0026"/><polygon points="1064.23,124.96 1064.3,120.47 1058.31,118.82" fill="#8d0026"/><polygon points="1058.56,119.28 1064.55,120.94 1058.62,114.79" fill="#8d0026"/><polygon points="1064.29,121.06 1064.36,116.56 1058.36,114.91" fill="#8d0026"/><polygon points="1058.61,115.37 1064.61,117.02 1058.68,110.86" fill="#8d0026"/><polygon points="1064.35,117.15 1064.42,112.63 1058.41,110.99" fill="#8d0026"/><polygon points="1058.67,111.45 1064.68,113.09 1058.73,106.92" fill="#8d0026"/><polygon points="1063.05,166.72 1068.94,168.45 1063.12,162.39" fill="#890026"/><polygon points="1068.69,168.56 1068.76,164.22 1062.86,162.5" fill="#890026"/><polygon points="1063.11,162.96 1069.01,164.68 1063.18,158.61" fill="#850026"/><polygon points="1068.75,164.79 1068.83,160.44 1062.92,158.73" fill="#870026"/><polygon points="1063.17,159.18 1069.08,160.89 1063.24,154.82" fill="#810026"/><polygon points="1068.82,161.01 1068.9,156.64 1062.98,154.93" fill="#830026"/><polygon points="1063.23,155.39 1069.15,157.1 1063.3,151.02" fill="#810026"/><polygon points="1068.89,157.21 1068.97,152.84 1063.04,151.13" fill="#850026"/><polygon points="1063.29,151.59 1069.22,153.29 1063.36,147.2" fill="#830026"/><polygon points="1068.96,153.41 1069.04,149.01 1063.09,147.32" fill="#870026"/><polygon points="1063.35,147.77 1069.29,149.47 1063.42,143.37" fill="#870026"/><polygon points="1069.03,149.59 1069.11,145.18 1063.15,143.49" fill="#890026"/><polygon points="1063.41,143.95 1069.36,145.64 1063.48,139.53" fill="#8b0026"/><polygon points="1069.1,145.76 1069.17,141.34 1063.21,139.65" fill="#8b0026"/><polygon points="1063.47,140.11 1069.43,141.79 1063.54,135.68" fill="#8d0026"/><polygon points="1069.17,141.91 1069.24,137.48 1063.27,135.8" fill="#8d0026"/><polygon points="1063.53,136.25 1069.5,137.94 1063.6,131.81" fill="#8d0026"/><polygon points="1069.23,138.06 1069.31,133.61 1063.33,131.93" fill="#8d0026"/><polygon points="1063.59,132.39 1069.57,134.07 1063.66,127.93" fill="#8d0026"/><polygon points="1069.3,134.19 1069.38,129.72 1063.39,128.05" fill="#8d0026"/><polygon points="1063.65,128.51 1069.64,130.18 1063.72,124.04" fill="#8d0026"/><polygon points="1069.37,130.31 1069.45,125.83 1063.45,124.16" fill="#8d0026"/><polygon points="1063.71,124.62 1069.71,126.29 1063.78,120.14" fill="#8d0026"/><polygon points="1069.44,126.41 1069.52,121.92 1063.51,120.26" fill="#8d0026"/><polygon points="1063.77,120.72 1069.78,122.38 1063.84,116.22" fill="#8d0026"/><polygon points="1069.51,122.5 1069.6,118 1063.57,116.34" fill="#8d0026"/><polygon points="1063.83,116.81 1069.85,118.46 1063.9,112.29" fill="#8d0026"/><polygon points="1068.17,168.22 1074.09,169.95 1068.25,163.89" fill="#950026"/><polygon points="1073.83,170.07 1073.92,165.73 1067.99,164" fill="#9e0026"/><polygon points="1068.24,164.45 1074.17,166.18 1068.32,160.1" fill="#930026"/><polygon points="1073.91,166.29 1073.99,161.94 1068.06,160.22" fill="#9e0026"/><polygon points="1068.31,160.67 1074.24,162.39 1068.39,156.3" fill="#930026"/><polygon points="1073.98,162.51 1074.07,158.14 1068.13,156.42" fill="#9c0026"/><polygon points="1068.38,156.88 1074.32,158.59 1068.45,152.5" fill="#910026"/><polygon points="1074.06,158.71 1074.15,154.32 1068.19,152.61" fill="#9c0026"/><polygon points="1068.44,153.07 1074.4,154.78 1068.52,148.68" fill="#930026"/><polygon points="1074.14,154.9 1074.22,150.5 1068.26,148.79" fill="#9e0026"/><polygon points="1068.51,149.25 1074.48,150.95 1068.59,144.84" fill="#950026"/><polygon points="1074.21,151.07 1074.3,146.66 1068.33,144.96" fill="#9e0026"/><polygon points="1068.58,145.42 1074.55,147.12 1068.66,141" fill="#960026"/><polygon points="1074.29,147.24 1074.38,142.81 1068.4,141.11" fill="#a00026"/><polygon points="1068.65,141.57 1074.63,143.27 1068.73,137.14" fill="#960026"/><polygon points="1074.37,143.39 1074.46,138.95 1068.46,137.26" fill="#a00026"/><polygon points="1068.72,137.72 1074.71,139.41 1068.8,133.27" fill="#960026"/><polygon points="1074.45,139.53 1074.54,135.07 1068.53,133.39" fill="#a00026"/><polygon points="1068.79,133.85 1074.79,135.53 1068.87,129.38" fill="#960026"/><polygon points="1074.53,135.65 1074.61,131.18 1068.6,129.5" fill="#a00026"/><polygon points="1068.86,129.97 1074.87,131.64 1068.94,125.49" fill="#960026"/><polygon points="1074.6,131.76 1074.69,127.28 1068.67,125.61" fill="#a00026"/><polygon points="1068.92,126.07 1074.95,127.74 1069,121.58" fill="#960026"/><polygon points="1074.68,127.87 1074.77,123.37 1068.74,121.7" fill="#a00026"/><polygon points="1068.99,122.16 1075.03,123.83 1069.07,117.66" fill="#960026"/><polygon points="1073.32,169.73 1079.25,171.47 1073.4,165.39" fill="#b30026"/><polygon points="1078.99,171.58 1079.09,167.23 1073.14,165.5" fill="#bd0025"/><polygon points="1073.39,165.95 1079.34,167.69 1073.48,161.6" fill="#b10026"/><polygon points="1079.08,167.8 1079.17,163.44 1073.22,161.71" fill="#bb0026"/><polygon points="1073.47,162.17 1079.43,163.89 1073.56,157.8" fill="#b10026"/><polygon points="1079.16,164.01 1079.26,159.63 1073.29,157.91" fill="#bb0026"/><polygon points="1073.54,158.37 1079.51,160.09 1073.63,153.98" fill="#b10026"/><polygon points="1079.25,160.2 1079.35,155.82 1073.37,154.1" fill="#bb0026"/><polygon points="1073.62,154.56 1079.6,156.27 1073.71,150.16" fill="#b10026"/><polygon points="1079.33,156.39 1079.43,151.98 1073.44,150.27" fill="#bb0026"/><polygon points="1073.7,150.73 1079.68,152.44 1073.79,146.32" fill="#b10026"/><polygon points="1079.42,152.56 1079.52,148.14 1073.52,146.44" fill="#bd0025"/><polygon points="1073.77,146.9 1079.77,148.6 1073.86,142.47" fill="#b30026"/><polygon points="1079.51,148.72 1079.6,144.29 1073.6,142.59" fill="#bd0025"/><polygon points="1073.85,143.05 1079.86,144.75 1073.94,138.6" fill="#b30026"/><polygon points="1079.59,144.87 1079.69,140.42 1073.67,138.72" fill="#bd0025"/><polygon points="1073.93,139.18 1079.94,140.88 1074.02,134.73" fill="#b30026"/><polygon points="1079.68,141 1079.78,136.54 1073.75,134.85" fill="#bd0025"/><polygon points="1074.01,135.31 1080.03,137 1074.1,130.84" fill="#b30026"/><polygon points="1079.77,137.12 1079.87,132.64 1073.83,130.96" fill="#bd0025"/><polygon points="1074.08,131.42 1080.12,133.11 1074.17,126.94" fill="#b30026"/><polygon points="1079.85,133.23 1079.95,128.74 1073.91,127.06" fill="#bd0025"/><polygon points="1074.16,127.52 1080.21,129.2 1074.25,123.02" fill="#b30026"/><polygon points="1078.48,171.24 1084.44,172.98 1078.58,166.89" fill="#c90822"/><polygon points="1084.17,173.1 1084.28,168.74 1078.31,167.01" fill="#cd0b21"/><polygon points="1078.56,167.46 1084.53,169.2 1078.66,163.1" fill="#c90822"/><polygon points="1084.27,169.31 1084.38,164.95 1078.4,163.21" fill="#cd0b21"/><polygon points="1078.65,163.67 1084.63,165.4 1078.74,159.29" fill="#c70723"/><polygon points="1084.36,165.52 1084.47,161.14 1078.48,159.41" fill="#cd0b21"/><polygon points="1078.73,159.86 1084.72,161.59 1078.83,155.47" fill="#c70723"/><polygon points="1084.46,161.71 1084.56,157.31 1078.56,155.59" fill="#cd0b21"/><polygon points="1078.82,156.05 1084.82,157.77 1078.91,151.64" fill="#c70723"/><polygon points="1084.55,157.89 1084.66,153.48 1078.65,151.76" fill="#cd0b21"/><polygon points="1078.9,152.22 1084.91,153.94 1079,147.8" fill="#c90822"/><polygon points="1084.64,154.05 1084.75,149.63 1078.73,147.92" fill="#cd0b21"/><polygon points="1078.99,148.38 1085.01,150.09 1079.09,143.95" fill="#c90822"/><polygon points="1084.74,150.21 1084.85,145.77 1078.82,144.06" fill="#cd0b21"/><polygon points="1079.07,144.52 1085.1,146.23 1079.17,140.08" fill="#c90822"/><polygon points="1084.83,146.35 1084.94,141.9 1078.9,140.2" fill="#cd0b21"/><polygon points="1079.16,140.66 1085.2,142.36 1079.26,136.2" fill="#c90822"/><polygon points="1084.93,142.48 1085.04,138.01 1078.99,136.32" fill="#cd0b21"/><polygon points="1079.24,136.78 1085.29,138.47 1079.34,132.3" fill="#c90822"/><polygon points="1085.03,138.6 1085.14,134.11 1079.08,132.42" fill="#cd0b21"/><polygon points="1079.33,132.89 1085.39,134.58 1079.43,128.4" fill="#c90822"/><polygon points="1083.66,172.76 1089.64,174.51 1083.77,168.4" fill="#d30f20"/><polygon points="1089.38,174.62 1089.49,170.26 1083.5,168.52" fill="#d7121f"/><polygon points="1083.75,168.97 1089.74,170.72 1083.86,164.61" fill="#d30f20"/><polygon points="1089.48,170.83 1089.6,166.46 1083.59,164.72" fill="#d7121f"/><polygon points="1083.85,165.18 1089.85,166.92 1083.95,160.79" fill="#d30f20"/><polygon points="1089.58,167.03 1089.7,162.64 1083.69,160.91" fill="#d7121f"/><polygon points="1083.94,161.37 1089.95,163.1 1084.05,156.97" fill="#d30f20"/><polygon points="1089.68,163.22 1089.8,158.82 1083.78,157.09" fill="#d7121f"/><polygon points="1084.03,157.55 1090.05,159.28 1084.14,153.14" fill="#d30f20"/><polygon points="1089.79,159.39 1089.91,154.98 1083.87,153.25" fill="#d7121f"/><polygon points="1084.13,153.71 1090.16,155.44 1084.23,149.29" fill="#d30f20"/><polygon points="1089.89,155.55 1090.01,151.13 1083.97,149.41" fill="#d7121f"/><polygon points="1084.22,149.87 1090.26,151.59 1084.33,145.43" fill="#d30f20"/><polygon points="1089.99,151.7 1090.11,147.26 1084.06,145.55" fill="#d7121f"/><polygon points="1084.31,146.01 1090.37,147.72 1084.42,141.56" fill="#d30f20"/><polygon points="1090.1,147.84 1090.22,143.38 1084.16,141.67" fill="#d7121f"/><polygon points="1084.41,142.14 1090.47,143.84 1084.52,137.67" fill="#d30f20"/><polygon points="1090.2,143.96 1090.32,139.49 1084.25,137.79" fill="#d7121f"/><polygon points="1084.5,138.25 1090.58,139.95 1084.61,133.77" fill="#d30f20"/><polygon points="1088.86,174.28 1094.86,176.04 1088.98,169.92" fill="#dd161d"/><polygon points="1094.6,176.15 1094.73,171.79 1088.71,170.03" fill="#e0181c"/><polygon points="1088.96,170.49 1094.98,172.24 1089.08,166.12" fill="#dd161d"/><polygon points="1094.71,172.36 1094.84,167.98 1088.81,166.23" fill="#e0181c"/><polygon points="1089.06,166.69 1095.09,168.44 1089.18,162.3" fill="#dd161d"/><polygon points="1094.82,168.55 1094.95,164.16 1088.91,162.42" fill="#e0181c"/><polygon points="1089.16,162.88 1095.2,164.62 1089.28,158.48" fill="#dd161d"/><polygon points="1094.93,164.73 1095.06,160.33 1089.01,158.59" fill="#e0181c"/><polygon points="1089.27,159.05 1095.31,160.79 1089.39,154.64" fill="#dd161d"/><polygon points="1095.04,160.9 1095.17,156.48 1089.12,154.75" fill="#e0181c"/><polygon points="1089.37,155.21 1095.42,156.94 1089.49,150.78" fill="#dd161d"/><polygon points="1095.16,157.06 1095.28,152.63 1089.22,150.9" fill="#e0181c"/><polygon points="1089.47,151.36 1095.54,153.09 1089.59,146.92" fill="#dd161d"/><polygon points="1095.27,153.2 1095.4,148.76 1089.32,147.04" fill="#e0181c"/><polygon points="1089.58,147.5 1095.65,149.22 1089.69,143.04" fill="#dd161d"/><polygon points="1095.38,149.34 1095.51,144.87 1089.43,143.16" fill="#e0181c"/><polygon points="1089.68,143.62 1095.76,145.34 1089.8,139.15" fill="#dd161d"/><polygon points="1094.08,175.81 1100.11,177.57 1094.21,171.44" fill="#e51f1d"/><polygon points="1099.84,177.68 1099.98,173.32 1093.94,171.56" fill="#e7241e"/><polygon points="1094.19,172.01 1100.23,173.77 1094.32,167.64" fill="#e51f1d"/><polygon points="1099.96,173.89 1100.1,169.5 1094.05,167.75" fill="#e7241e"/><polygon points="1094.3,168.21 1100.35,169.96 1094.43,163.82" fill="#e51f1d"/><polygon points="1100.08,170.08 1100.22,165.68 1094.16,163.93" fill="#e7241e"/><polygon points="1094.41,164.39 1100.47,166.14 1094.54,159.98" fill="#e51f1d"/><polygon points="1100.2,166.25 1100.34,161.84 1094.27,160.1" fill="#e7241e"/><polygon points="1094.52,160.56 1100.59,162.3 1094.65,156.14" fill="#e51f1d"/><polygon points="1100.32,162.42 1100.46,157.99 1094.38,156.26" fill="#e7241e"/><polygon points="1094.63,156.72 1100.71,158.45 1094.76,152.28" fill="#e51f1d"/><polygon points="1100.44,158.57 1100.58,154.13 1094.49,152.4" fill="#e7241e"/><polygon points="1094.74,152.86 1100.83,154.59 1094.87,148.41" fill="#e51f1d"/><polygon points="1100.56,154.71 1100.7,150.26 1094.6,148.53" fill="#e7241e"/><polygon points="1094.86,148.99 1100.95,150.72 1094.99,144.53" fill="#e51f1d"/><polygon points="1099.32,177.34 1105.37,179.11 1099.46,172.97" fill="#eb2c20"/><polygon points="1105.1,179.22 1105.25,174.85 1099.19,173.09" fill="#ee3222"/><polygon points="1099.44,173.54 1105.5,175.31 1099.58,169.16" fill="#eb2c20"/><polygon points="1105.23,175.42 1105.38,171.03 1099.31,169.27" fill="#ee3222"/><polygon points="1099.56,169.73 1105.63,171.49 1099.69,165.34" fill="#eb2c20"/><polygon points="1105.36,171.61 1105.5,167.21 1099.42,165.45" fill="#ee3222"/><polygon points="1099.68,165.91 1105.76,167.66 1099.81,161.5" fill="#eb2c20"/><polygon points="1105.49,167.78 1105.63,163.36 1099.54,161.61" fill="#ee3222"/><polygon points="1099.8,162.07 1105.89,163.82 1099.93,157.65" fill="#eb2c20"/><polygon points="1105.62,163.94 1105.76,159.51 1099.66,157.77" fill="#ee3222"/><polygon points="1099.92,158.23 1106.02,159.97 1100.06,153.79" fill="#eb2c20"/><polygon points="1105.75,160.09 1105.89,155.64 1099.78,153.9" fill="#ee3222"/><polygon points="1100.04,154.37 1106.15,156.1 1100.18,149.91" fill="#eb2c20"/><polygon points="1104.58,178.88 1110.65,180.66 1104.73,174.51" fill="#f74427"/><polygon points="1110.38,180.77 1110.54,176.39 1104.46,174.62" fill="#fb4c29"/><polygon points="1104.71,175.08 1110.79,176.85 1104.85,170.69" fill="#f74427"/><polygon points="1110.52,176.96 1110.68,172.57 1104.58,170.8" fill="#fb4c29"/><polygon points="1104.83,171.26 1110.93,173.03 1104.98,166.86" fill="#f74427"/><polygon points="1110.66,173.14 1110.81,168.74 1104.71,166.98" fill="#fb4c29"/><polygon points="1104.96,167.44 1111.07,169.2 1105.11,163.02" fill="#f74427"/><polygon points="1110.79,169.31 1110.95,164.89 1104.84,163.13" fill="#fb4c29"/><polygon points="1105.09,163.6 1111.2,165.35 1105.24,159.16" fill="#f74427"/><polygon points="1110.93,165.47 1111.09,161.03 1104.97,159.28" fill="#fb4c29"/><polygon points="1105.22,159.74 1111.34,161.49 1105.37,155.3" fill="#f74427"/><polygon points="1109.86,180.43 1115.95,182.21 1110.02,176.05" fill="#fc622f"/><polygon points="1115.68,182.32 1115.85,177.94 1109.74,176.16" fill="#fc6e33"/><polygon points="1109.99,176.62 1116.1,178.4 1110.15,172.23" fill="#fc622f"/><polygon points="1115.83,178.51 1116,174.11 1109.88,172.34" fill="#fc6e33"/><polygon points="1110.13,172.8 1116.25,174.57 1110.29,168.39" fill="#fc622f"/><polygon points="1115.97,174.69 1116.14,170.27 1110.02,168.51" fill="#fc6e33"/><polygon points="1110.27,168.97 1116.39,170.74 1110.43,164.55" fill="#fc622f"/><polygon points="1116.12,170.85 1116.29,166.42 1110.15,164.66" fill="#fc6e33"/><polygon points="1110.41,165.12 1116.54,166.89 1110.57,160.69" fill="#fc622f"/><polygon points="1115.16,181.98 1121.28,183.77 1115.32,177.59" fill="#fc8439"/><polygon points="1121,183.88 1121.18,179.49 1115.05,177.71" fill="#fd8d3c"/><polygon points="1115.3,178.17 1121.43,179.95 1115.47,173.77" fill="#fc8439"/><polygon points="1121.16,180.07 1121.34,175.66 1115.2,173.88" fill="#fd8d3c"/><polygon points="1115.45,174.34 1121.59,176.12 1115.62,169.93" fill="#fc8439"/><polygon points="1121.31,176.24 1121.49,171.82 1115.34,170.04" fill="#fd8d3c"/><polygon points="1115.59,170.5 1121.74,172.28 1115.76,166.08" fill="#fc8439"/><polygon points="1120.48,183.54 1126.62,185.33 1120.65,179.15" fill="#fd9a41"/><polygon points="1126.34,185.45 1126.53,181.05 1120.38,179.26" fill="#fda044"/><polygon points="1120.63,179.72 1126.78,181.51 1120.81,175.31" fill="#fd9a41"/><polygon points="1126.51,181.63 1126.7,177.22 1120.53,175.43" fill="#fda044"/><polygon points="1120.79,175.89 1126.95,177.68 1120.96,171.47" fill="#fd9a41"/><polygon points="1125.82,185.1 1131.98,186.9 1126,180.7" fill="#fdab49"/><polygon points="1131.7,187.02 1131.9,182.62 1125.73,180.82" fill="#fdb14b"/><polygon points="1125.98,181.28 1132.15,183.08 1126.17,176.87" fill="#fdab49"/><polygon points="1131.17,186.67 1137.36,188.48 1131.37,182.27" fill="#febd58"/></g>
<g opacity="0.9" filter="url(#blurS)"><polygon points="1003.17,148.84 1008.81,150.49 999.77,151.67" fill="#d30f20"/><polygon points="1008.71,150.29 1005.32,153.13 999.67,151.47" fill="#d30f20"/><polygon points="1000.21,151.3 1005.86,152.96 996.79,154.14" fill="#d30f20"/><polygon points="1005.76,152.76 1002.36,155.62 996.69,153.95" fill="#d30f20"/><polygon points="997.24,153.77 1002.9,155.44 993.8,156.64" fill="#d30f20"/><polygon points="1002.8,155.24 999.37,158.12 993.7,156.44" fill="#d20e20"/><polygon points="994.25,156.26 999.92,157.94 990.78,159.15" fill="#d20e20"/><polygon points="999.82,157.74 996.37,160.64 990.69,158.95" fill="#d20e20"/><polygon points="991.24,158.77 996.92,160.46 987.75,161.67" fill="#d20e20"/><polygon points="996.83,160.26 993.35,163.17 987.65,161.47" fill="#d20e20"/><polygon points="988.21,161.29 993.9,162.99 984.7,164.21" fill="#d20e20"/><polygon points="993.81,162.79 990.31,165.72 984.6,164.01" fill="#d10d20"/><polygon points="985.16,163.83 990.87,165.54 981.63,166.77" fill="#d20e20"/><polygon points="990.77,165.34 987.25,168.29 981.53,166.57" fill="#d00d20"/><polygon points="982.09,166.38 987.81,168.11 978.53,169.34" fill="#d10d20"/><polygon points="987.71,167.9 984.17,170.87 978.44,169.14" fill="#cf0c21"/><polygon points="979,168.95 984.73,170.69 975.42,171.93" fill="#d00d20"/><polygon points="984.64,170.49 981.07,173.47 975.33,171.73" fill="#cf0c21"/><polygon points="975.89,171.54 981.63,173.29 972.29,174.54" fill="#d00d20"/><polygon points="981.54,173.08 977.95,176.09 972.2,174.33" fill="#cd0b21"/><polygon points="972.76,174.15 978.52,175.91 969.14,177.16" fill="#d00d20"/><polygon points="978.42,175.7 974.81,178.73 969.04,176.96" fill="#cc0a21"/><polygon points="969.61,176.77 975.38,178.54 965.97,179.8" fill="#cf0c21"/><polygon points="975.29,178.33 971.65,181.38 965.87,179.6" fill="#cc0a21"/><polygon points="966.44,179.41 972.22,181.19 962.77,182.46" fill="#cf0c21"/><polygon points="972.13,180.98 968.47,184.05 962.68,182.25" fill="#cd0b21"/><polygon points="963.25,182.06 969.04,183.86 959.56,185.14" fill="#cf0c21"/><polygon points="968.95,183.65 965.27,186.73 959.46,184.93" fill="#cd0b21"/><polygon points="960.04,184.74 965.84,186.54 956.32,187.83" fill="#d00d20"/><polygon points="965.75,186.33 962.05,189.44 956.23,187.62" fill="#cf0c21"/><polygon points="956.81,187.43 962.62,189.25 953.06,190.55" fill="#d00d20"/><polygon points="962.53,189.03 958.8,192.16 952.97,190.33" fill="#d00d20"/><polygon points="953.55,190.14 959.38,191.97 949.78,193.27" fill="#d10d20"/><polygon points="959.29,191.75 955.54,194.9 949.69,193.06" fill="#d10d20"/><polygon points="950.28,192.86 956.12,194.71 946.48,196.02" fill="#d10d20"/><polygon points="956.03,194.49 952.25,197.66 946.39,195.8" fill="#d10d20"/><polygon points="946.98,195.61 952.83,197.46 943.16,198.79" fill="#d20e20"/><polygon points="952.74,197.24 948.94,200.44 943.07,198.57" fill="#d20e20"/><polygon points="943.66,198.37 949.52,200.24 939.81,201.57" fill="#d20e20"/><polygon points="949.44,200.02 945.6,203.23 939.73,201.35" fill="#d20e20"/><polygon points="940.32,201.15 946.2,203.03 936.45,204.38" fill="#d20e20"/><polygon points="946.11,202.81 942.25,206.05 936.36,204.15" fill="#d20e20"/><polygon points="936.95,203.96 942.84,205.85 933.06,207.2" fill="#d30f20"/><polygon points="942.76,205.62 938.87,208.88 932.97,206.98" fill="#d30f20"/><polygon points="933.57,206.77 939.47,208.68 929.64,210.04" fill="#d30f20"/><polygon points="939.38,208.45 935.47,211.73 929.56,209.82" fill="#d30f20"/><polygon points="930.16,209.61 936.07,211.53 926.21,212.9" fill="#d30f20"/><polygon points="935.98,211.3 932.05,214.6 926.12,212.68" fill="#d30f20"/><polygon points="926.72,212.47 932.65,214.4 922.75,215.78" fill="#d30f20"/><polygon points="932.56,214.17 928.6,217.5 922.66,215.55" fill="#d30f20"/><polygon points="923.27,215.35 929.21,217.29 919.26,218.68" fill="#d30f20"/><polygon points="1008.07,150.27 1013.73,151.93 1004.68,153.11" fill="#d20e20"/><polygon points="1013.63,151.73 1010.25,154.58 1004.58,152.92" fill="#d20e20"/><polygon points="1005.12,152.74 1010.8,154.41 1001.72,155.6" fill="#d20e20"/><polygon points="1010.7,154.21 1007.3,157.08 1001.62,155.4" fill="#d10d20"/><polygon points="1002.16,155.22 1007.84,156.9 998.73,158.1" fill="#d20e20"/><polygon points="1007.75,156.7 1004.33,159.59 998.63,157.9" fill="#d00d20"/><polygon points="999.18,157.72 1004.87,159.41 995.73,160.62" fill="#d10d20"/><polygon points="1004.78,159.21 1001.34,162.12 995.63,160.42" fill="#cf0c21"/><polygon points="996.18,160.24 1001.89,161.94 992.71,163.15" fill="#d00d20"/><polygon points="1001.79,161.74 998.33,164.66 992.61,162.95" fill="#cc0a21"/><polygon points="993.16,162.77 998.88,164.48 989.66,165.7" fill="#cd0b21"/><polygon points="998.78,164.28 995.3,167.22 989.57,165.5" fill="#ca0922"/><polygon points="990.12,165.32 995.85,167.04 986.6,168.27" fill="#cc0a21"/><polygon points="995.75,166.84 992.25,169.8 986.5,168.07" fill="#c60623"/><polygon points="987.06,167.88 992.8,169.61 983.52,170.85" fill="#ca0922"/><polygon points="992.71,169.41 989.18,172.39 983.42,170.65" fill="#c40424"/><polygon points="983.98,170.46 989.74,172.21 980.42,173.45" fill="#c70723"/><polygon points="989.64,172 986.09,175 980.32,173.25" fill="#c10324"/><polygon points="980.88,173.06 986.65,174.82 977.3,176.07" fill="#c60623"/><polygon points="986.56,174.61 982.98,177.63 977.2,175.86" fill="#c00225"/><polygon points="977.77,175.68 983.54,177.44 974.16,178.7" fill="#c50523"/><polygon points="983.45,177.23 979.85,180.27 974.06,178.49" fill="#c00225"/><polygon points="974.63,178.31 980.42,180.08 970.99,181.36" fill="#c60623"/><polygon points="980.32,179.87 976.7,182.93 970.9,181.15" fill="#c30424"/><polygon points="971.47,180.96 977.27,182.75 967.81,184.02" fill="#c70723"/><polygon points="977.18,182.53 973.53,185.61 967.72,183.81" fill="#c50523"/><polygon points="968.29,183.62 974.1,185.42 964.6,186.71" fill="#c90822"/><polygon points="974.01,185.21 970.34,188.31 964.51,186.5" fill="#c70723"/><polygon points="965.09,186.31 970.91,188.12 961.38,189.41" fill="#cb0922"/><polygon points="970.82,187.9 967.13,191.02 961.29,189.2" fill="#ca0922"/><polygon points="961.86,189.01 967.7,190.83 958.13,192.14" fill="#cd0b21"/><polygon points="967.61,190.62 963.89,193.76 958.04,191.92" fill="#cc0a21"/><polygon points="958.62,191.73 964.47,193.56 954.86,194.88" fill="#cf0c21"/><polygon points="964.38,193.35 960.64,196.51 954.77,194.66" fill="#cf0c21"/><polygon points="955.35,194.46 961.22,196.31 951.57,197.64" fill="#d00d20"/><polygon points="961.13,196.09 957.36,199.28 951.48,197.42" fill="#d10d20"/><polygon points="952.07,197.22 957.94,199.08 948.26,200.41" fill="#d10d20"/><polygon points="957.85,198.86 954.06,202.07 948.17,200.19" fill="#d20e20"/><polygon points="948.76,199.99 954.65,201.87 944.93,203.21" fill="#d20e20"/><polygon points="954.56,201.65 950.74,204.87 944.84,202.99" fill="#d20e20"/><polygon points="945.43,202.79 951.33,204.67 941.57,206.02" fill="#d20e20"/><polygon points="951.24,204.45 947.39,207.7 941.48,205.8" fill="#d20e20"/><polygon points="942.07,205.6 947.99,207.5 938.19,208.86" fill="#d20e20"/><polygon points="947.9,207.27 944.03,210.54 938.1,208.63" fill="#d30f20"/><polygon points="938.7,208.43 944.62,210.34 934.79,211.71" fill="#d30f20"/><polygon points="944.53,210.11 940.64,213.41 934.7,211.48" fill="#d30f20"/><polygon points="935.3,211.28 941.24,213.2 931.36,214.58" fill="#d30f20"/><polygon points="941.15,212.98 937.22,216.29 931.27,214.35" fill="#d30f20"/><polygon points="931.87,214.15 937.83,216.09 927.91,217.47" fill="#d30f20"/><polygon points="1012.99,151.71 1018.67,153.37 1009.61,154.56" fill="#d10d20"/><polygon points="1018.57,153.18 1015.21,156.04 1009.51,154.37" fill="#cf0c21"/><polygon points="1010.05,154.19 1015.75,155.86 1006.66,157.06" fill="#d00d20"/><polygon points="1015.65,155.66 1012.26,158.54 1006.56,156.86" fill="#cc0a21"/><polygon points="1007.1,156.68 1012.81,158.37 1003.68,159.57" fill="#cc0a21"/><polygon points="1012.71,158.17 1009.3,161.06 1003.58,159.37" fill="#c90822"/><polygon points="1004.13,159.19 1009.85,160.89 1000.69,162.1" fill="#ca0922"/><polygon points="1009.75,160.68 1006.32,163.6 1000.59,161.9" fill="#c30424"/><polygon points="1001.14,161.72 1006.87,163.42 997.68,164.64" fill="#c50523"/><polygon points="1006.77,163.22 1003.32,166.15 997.58,164.44" fill="#be0025"/><polygon points="998.13,164.26 1003.87,165.97 994.65,167.2" fill="#c00225"/><polygon points="1003.77,165.77 1000.3,168.72 994.55,167" fill="#b50026"/><polygon points="995.1,166.81 1000.85,168.54 991.6,169.78" fill="#bb0026"/><polygon points="1000.76,168.34 997.26,171.31 991.5,169.57" fill="#ac0026"/><polygon points="992.05,169.39 997.82,171.13 988.52,172.37" fill="#b50026"/><polygon points="997.72,170.92 994.2,173.91 988.43,172.16" fill="#a80026"/><polygon points="988.99,171.98 994.76,173.73 985.43,174.98" fill="#b10026"/><polygon points="994.66,173.52 991.12,176.53 985.34,174.77" fill="#a60026"/><polygon points="985.9,174.59 991.69,176.35 982.32,177.61" fill="#af0026"/><polygon points="991.59,176.14 988.03,179.17 982.23,177.4" fill="#a80026"/><polygon points="982.79,177.21 988.59,178.98 979.19,180.25" fill="#b10026"/><polygon points="988.49,178.77 984.91,181.82 979.09,180.04" fill="#ad0026"/><polygon points="979.66,179.85 985.47,181.64 976.04,182.91" fill="#b70026"/><polygon points="985.38,181.43 981.77,184.5 975.94,182.7" fill="#b50026"/><polygon points="976.51,182.51 982.34,184.31 972.87,185.59" fill="#be0025"/><polygon points="982.24,184.09 978.61,187.19 972.77,185.38" fill="#be0025"/><polygon points="973.34,185.19 979.18,186.99 969.67,188.29" fill="#c30424"/><polygon points="979.08,186.78 975.43,189.89 969.58,188.07" fill="#c40424"/><polygon points="970.15,187.88 976,189.7 966.46,191" fill="#c70723"/><polygon points="975.91,189.49 972.22,192.62 966.36,190.79" fill="#c90822"/><polygon points="966.94,190.59 972.8,192.42 963.22,193.73" fill="#cb0922"/><polygon points="972.71,192.21 969,195.36 963.13,193.52" fill="#cc0a21"/><polygon points="963.71,193.32 969.58,195.17 959.96,196.48" fill="#cd0b21"/><polygon points="969.49,194.95 965.76,198.12 959.87,196.27" fill="#cf0c21"/><polygon points="960.45,196.07 966.34,197.93 956.68,199.25" fill="#d00d20"/><polygon points="966.25,197.71 962.49,200.9 956.59,199.03" fill="#d10d20"/><polygon points="957.18,198.84 963.07,200.71 953.38,202.04" fill="#d10d20"/><polygon points="962.98,200.48 959.2,203.7 953.29,201.82" fill="#d20e20"/><polygon points="953.88,201.62 959.79,203.5 950.06,204.85" fill="#d20e20"/><polygon points="959.7,203.28 955.89,206.52 949.97,204.63" fill="#d20e20"/><polygon points="950.56,204.43 956.48,206.32 946.71,207.67" fill="#d20e20"/><polygon points="956.39,206.1 952.56,209.36 946.62,207.45" fill="#d20e20"/><polygon points="947.21,207.25 953.15,209.15 943.34,210.52" fill="#d30f20"/><polygon points="953.06,208.93 949.2,212.21 943.25,210.29" fill="#d30f20"/><polygon points="943.85,210.09 949.8,212.01 939.95,213.38" fill="#d30f20"/><polygon points="949.71,211.78 945.82,215.09 939.86,213.16" fill="#d30f20"/><polygon points="940.46,212.95 946.42,214.88 936.54,216.27" fill="#d30f20"/><polygon points="1017.93,153.16 1023.63,154.83 1014.56,156.02" fill="#cb0922"/><polygon points="1023.53,154.63 1020.18,157.5 1014.46,155.82" fill="#c70723"/><polygon points="1015,155.64 1020.72,157.32 1011.62,158.52" fill="#c70723"/><polygon points="1020.61,157.12 1017.24,160.01 1011.52,158.32" fill="#c00225"/><polygon points="1012.06,158.15 1017.79,159.84 1008.66,161.04" fill="#c00225"/><polygon points="1017.68,159.64 1014.29,162.54 1008.55,160.84" fill="#b70026"/><polygon points="1009.1,160.66 1014.84,162.36 1005.67,163.58" fill="#b70026"/><polygon points="1014.74,162.16 1011.32,165.09 1005.57,163.38" fill="#aa0026"/><polygon points="1006.12,163.2 1011.87,164.91 1002.67,166.13" fill="#ac0026"/><polygon points="1011.77,164.71 1008.33,167.65 1002.57,165.93" fill="#9c0026"/><polygon points="1003.12,165.75 1008.88,167.47 999.65,168.7" fill="#a00026"/><polygon points="1008.78,167.27 1005.32,170.23 999.55,168.5" fill="#930026"/><polygon points="1000.1,168.32 1005.88,170.05 996.61,171.29" fill="#960026"/><polygon points="1005.78,169.84 1002.29,172.83 996.51,171.08" fill="#8d0026"/><polygon points="997.06,170.9 1002.85,172.64 993.55,173.89" fill="#930026"/><polygon points="1002.75,172.44 999.25,175.44 993.45,173.68" fill="#8d0026"/><polygon points="994.01,173.5 999.8,175.26 990.47,176.51" fill="#930026"/><polygon points="999.71,175.05 996.18,178.07 990.37,176.3" fill="#930026"/><polygon points="990.93,176.12 996.74,177.88 987.37,179.15" fill="#9a0026"/><polygon points="996.64,177.68 993.09,180.72 987.27,178.94" fill="#9c0026"/><polygon points="987.83,178.75 993.65,180.53 984.25,181.8" fill="#a40026"/><polygon points="993.56,180.32 989.98,183.38 984.15,181.59" fill="#aa0026"/><polygon points="984.71,181.4 990.55,183.19 981.1,184.47" fill="#af0026"/><polygon points="990.45,182.98 986.85,186.06 981.01,184.26" fill="#b50026"/><polygon points="981.58,184.07 987.42,185.87 977.94,187.16" fill="#bb0026"/><polygon points="987.33,185.66 983.7,188.76 977.84,186.95" fill="#c00225"/><polygon points="978.42,186.76 984.28,188.57 974.76,189.87" fill="#c30424"/><polygon points="984.18,188.36 980.53,191.48 974.66,189.66" fill="#c60623"/><polygon points="975.24,189.46 981.11,191.29 971.55,192.59" fill="#c90822"/><polygon points="981.01,191.07 977.34,194.22 971.46,192.38" fill="#cb0922"/><polygon points="972.04,192.18 977.92,194.02 968.33,195.34" fill="#cc0a21"/><polygon points="977.82,193.81 974.13,196.97 968.23,195.12" fill="#cf0c21"/><polygon points="968.81,194.93 974.71,196.78 965.08,198.1" fill="#d00d20"/><polygon points="974.62,196.56 970.9,199.74 964.99,197.88" fill="#d10d20"/><polygon points="965.57,197.68 971.48,199.55 961.81,200.88" fill="#d10d20"/><polygon points="971.38,199.33 967.64,202.53 961.72,200.66" fill="#d20e20"/><polygon points="962.3,200.46 968.23,202.34 958.52,203.68" fill="#d20e20"/><polygon points="968.13,202.11 964.36,205.34 958.43,203.46" fill="#d20e20"/><polygon points="959.02,203.26 964.95,205.14 955.21,206.5" fill="#d20e20"/><polygon points="964.86,204.92 961.06,208.17 955.12,206.27" fill="#d20e20"/><polygon points="955.71,206.07 961.65,207.97 951.87,209.33" fill="#d30f20"/><polygon points="961.56,207.75 957.74,211.02 951.78,209.11" fill="#d30f20"/><polygon points="952.37,208.91 958.33,210.82 948.52,212.19" fill="#d30f20"/><polygon points="958.24,210.59 954.4,213.89 948.42,211.96" fill="#d30f20"/><polygon points="949.02,211.76 954.99,213.68 945.13,215.06" fill="#d30f20"/><polygon points="1022.88,154.61 1028.61,156.28 1019.53,157.48" fill="#c30424"/><polygon points="1028.5,156.08 1025.16,158.97 1019.43,157.28" fill="#be0025"/><polygon points="1019.97,157.1 1025.7,158.79 1016.6,159.99" fill="#bb0026"/><polygon points="1025.6,158.59 1022.24,161.49 1016.49,159.79" fill="#b10026"/><polygon points="1017.04,159.61 1022.78,161.31 1013.64,162.52" fill="#ad0026"/><polygon points="1022.68,161.11 1019.3,164.03 1013.54,162.32" fill="#a40026"/><polygon points="1014.09,162.14 1019.85,163.85 1010.67,165.07" fill="#a00026"/><polygon points="1019.74,163.65 1016.34,166.58 1010.57,164.87" fill="#980026"/><polygon points="1011.12,164.69 1016.89,166.4 1007.68,167.63" fill="#930026"/><polygon points="1016.79,166.2 1013.36,169.16 1007.58,167.43" fill="#8f0026"/><polygon points="1008.13,167.25 1013.91,168.97 1004.67,170.21" fill="#8b0026"/><polygon points="1013.81,168.77 1010.36,171.75 1004.57,170.01" fill="#8d0026"/><polygon points="1005.12,169.82 1010.92,171.56 1001.64,172.81" fill="#890026"/><polygon points="1010.82,171.36 1007.35,174.35 1001.54,172.6" fill="#8f0026"/><polygon points="1002.09,172.42 1007.9,174.17 998.59,175.42" fill="#8d0026"/><polygon points="1007.8,173.96 1004.31,176.97 998.49,175.21" fill="#960026"/><polygon points="999.05,175.03 1004.87,176.79 995.52,178.05" fill="#950026"/><polygon points="1004.77,176.58 1001.25,179.61 995.42,177.84" fill="#a20026"/><polygon points="995.98,177.65 1001.81,179.43 992.43,180.7" fill="#a20026"/><polygon points="1001.71,179.22 998.17,182.27 992.33,180.49" fill="#af0026"/><polygon points="992.89,180.3 998.74,182.08 989.32,183.36" fill="#af0026"/><polygon points="998.64,181.87 995.08,184.95 989.22,183.15" fill="#bb0026"/><polygon points="989.79,182.96 995.64,184.76 986.19,186.04" fill="#bd0025"/><polygon points="995.54,184.54 991.96,187.64 986.09,185.83" fill="#c30424"/><polygon points="986.66,185.64 992.53,187.45 983.04,188.74" fill="#c40424"/><polygon points="992.43,187.23 988.82,190.35 982.94,188.53" fill="#c90822"/><polygon points="983.51,188.33 989.39,190.16 979.86,191.46" fill="#ca0922"/><polygon points="989.29,189.94 985.66,193.08 979.77,191.24" fill="#cd0b21"/><polygon points="980.34,191.05 986.24,192.88 976.67,194.19" fill="#cd0b21"/><polygon points="986.14,192.67 982.48,195.82 976.57,193.98" fill="#d00d20"/><polygon points="977.15,193.78 983.06,195.63 973.46,196.95" fill="#d00d20"/><polygon points="982.96,195.41 979.28,198.59 973.36,196.73" fill="#d10d20"/><polygon points="973.94,196.53 979.86,198.39 970.22,199.72" fill="#d10d20"/><polygon points="979.76,198.17 976.06,201.37 970.12,199.5" fill="#d20e20"/><polygon points="970.71,199.3 976.64,201.17 966.96,202.51" fill="#d20e20"/><polygon points="976.54,200.95 972.81,204.17 966.87,202.29" fill="#d20e20"/><polygon points="967.45,202.09 973.4,203.97 963.68,205.32" fill="#d20e20"/><polygon points="973.3,203.75 969.55,206.99 963.59,205.1" fill="#d30f20"/><polygon points="964.18,204.9 970.13,206.79 960.38,208.15" fill="#d30f20"/><polygon points="970.04,206.57 966.26,209.83 960.29,207.92" fill="#d30f20"/><polygon points="960.88,207.72 966.85,209.63 957.06,211" fill="#d30f20"/><polygon points="966.75,209.41 962.95,212.69 956.96,210.77" fill="#d30f20"/><polygon points="957.56,210.57 963.54,212.49 953.71,213.86" fill="#d30f20"/><polygon points="1027.86,156.06 1033.6,157.74 1024.52,158.95" fill="#be0025"/><polygon points="1033.5,157.55 1030.17,160.44 1024.41,158.75" fill="#bb0026"/><polygon points="1024.95,158.57 1030.71,160.26 1021.59,161.47" fill="#b30026"/><polygon points="1030.61,160.06 1027.26,162.97 1021.49,161.27" fill="#b30026"/><polygon points="1022.03,161.09 1027.8,162.79 1018.65,164.01" fill="#aa0026"/><polygon points="1027.7,162.59 1024.33,165.52 1018.55,163.81" fill="#ac0026"/><polygon points="1019.09,163.63 1024.87,165.34 1015.69,166.56" fill="#a00026"/><polygon points="1024.77,165.14 1021.38,168.09 1015.59,166.36" fill="#a60026"/><polygon points="1016.13,166.18 1021.93,167.9 1012.71,169.14" fill="#9c0026"/><polygon points="1021.82,167.7 1018.41,170.67 1012.61,168.93" fill="#a60026"/><polygon points="1013.16,168.75 1018.96,170.48 1009.71,171.72" fill="#9c0026"/><polygon points="1018.86,170.28 1015.42,173.27 1009.61,171.52" fill="#aa0026"/><polygon points="1010.16,171.33 1015.98,173.08 1006.69,174.33" fill="#a00026"/><polygon points="1015.87,172.87 1012.42,175.88 1006.59,174.12" fill="#af0026"/><polygon points="1007.14,173.94 1012.97,175.7 1003.65,176.95" fill="#aa0026"/><polygon points="1012.87,175.49 1009.39,178.51 1003.55,176.74" fill="#b90026"/><polygon points="1004.11,176.56 1009.95,178.33 1000.59,179.59" fill="#b30026"/><polygon points="1009.85,178.12 1006.34,181.16 1000.49,179.38" fill="#bf0125"/><polygon points="1001.05,179.19 1006.9,180.98 997.51,182.25" fill="#be0025"/><polygon points="1006.8,180.77 1003.28,183.83 997.41,182.04" fill="#c50523"/><polygon points="997.97,181.85 1003.84,183.64 994.41,184.92" fill="#c40424"/><polygon points="1003.74,183.43 1000.19,186.52 994.31,184.71" fill="#ca0922"/><polygon points="994.88,184.52 1000.76,186.33 991.29,187.62" fill="#c90822"/><polygon points="1000.66,186.11 997.08,189.22 991.19,187.4" fill="#cd0b21"/><polygon points="991.76,187.21 997.65,189.03 988.15,190.33" fill="#cd0b21"/><polygon points="997.55,188.81 993.96,191.94 988.05,190.11" fill="#d00d20"/><polygon points="988.62,189.92 994.53,191.75 984.99,193.05" fill="#d00d20"/><polygon points="994.43,191.53 990.81,194.68 984.89,192.84" fill="#d10d20"/><polygon points="985.46,192.64 991.38,194.48 981.81,195.8" fill="#d10d20"/><polygon points="991.28,194.27 987.64,197.43 981.71,195.58" fill="#d20e20"/><polygon points="982.29,195.39 988.22,197.24 978.6,198.56" fill="#d20e20"/><polygon points="988.12,197.02 984.45,200.21 978.51,198.34" fill="#d20e20"/><polygon points="979.09,198.15 985.03,200.01 975.38,201.35" fill="#d20e20"/><polygon points="984.93,199.79 981.24,203 975.28,201.13" fill="#d30f20"/><polygon points="975.86,200.93 981.82,202.81 972.13,204.15" fill="#d30f20"/><polygon points="981.72,202.58 978,205.82 972.04,203.93" fill="#d30f20"/><polygon points="972.62,203.73 978.59,205.62 968.86,206.97" fill="#d30f20"/><polygon points="978.49,205.39 974.75,208.65 968.77,206.75" fill="#d30f20"/><polygon points="969.35,206.54 975.33,208.45 965.57,209.81" fill="#d30f20"/><polygon points="975.24,208.22 971.47,211.5 965.48,209.58" fill="#d30f20"/><polygon points="966.07,209.38 972.06,211.3 962.26,212.67" fill="#d30f20"/><polygon points="1032.85,157.52 1038.61,159.21 1029.52,160.42" fill="#c10324"/><polygon points="1038.51,159.01 1035.19,161.92 1029.42,160.22" fill="#c40424"/><polygon points="1029.96,160.04 1035.73,161.74 1026.61,162.95" fill="#be0025"/><polygon points="1035.63,161.54 1032.29,164.46 1026.5,162.75" fill="#c10324"/><polygon points="1027.05,162.57 1032.84,164.28 1023.68,165.5" fill="#bb0026"/><polygon points="1032.73,164.08 1029.37,167.02 1023.57,165.3" fill="#c00225"/><polygon points="1024.12,165.11 1029.92,166.83 1020.73,168.06" fill="#bb0026"/><polygon points="1029.81,166.63 1026.44,169.59 1020.62,167.86" fill="#c10324"/><polygon points="1021.17,167.68 1026.98,169.41 1017.76,170.65" fill="#bb0026"/><polygon points="1026.88,169.2 1023.48,172.18 1017.65,170.44" fill="#c30424"/><polygon points="1018.2,170.26 1024.03,172 1014.77,173.24" fill="#be0025"/><polygon points="1023.92,171.79 1020.5,174.79 1014.66,173.04" fill="#c50523"/><polygon points="1015.22,172.85 1021.05,174.61 1011.76,175.86" fill="#c10324"/><polygon points="1020.95,174.4 1017.51,177.42 1011.65,175.65" fill="#c70723"/><polygon points="1012.21,175.47 1018.06,177.23 1008.73,178.49" fill="#c50523"/><polygon points="1017.96,177.02 1014.49,180.06 1008.63,178.28" fill="#cb0922"/><polygon points="1009.18,178.1 1015.05,179.87 1005.68,181.14" fill="#c90822"/><polygon points="1014.94,179.66 1011.45,182.72 1005.58,180.93" fill="#cd0b21"/><polygon points="1006.14,180.74 1012.02,182.53 1002.61,183.81" fill="#cc0a21"/><polygon points="1011.91,182.32 1008.4,185.4 1002.51,183.6" fill="#d00d20"/><polygon points="1003.07,183.41 1008.96,185.21 999.52,186.49" fill="#cf0c21"/><polygon points="1008.86,184.99 1005.32,188.09 999.42,186.28" fill="#d10d20"/><polygon points="999.99,186.09 1005.89,187.9 996.42,189.2" fill="#d00d20"/><polygon points="1005.79,187.69 1002.23,190.8 996.31,188.98" fill="#d20e20"/><polygon points="996.88,188.79 1002.8,190.61 993.29,191.92" fill="#d10d20"/><polygon points="1002.7,190.4 999.11,193.54 993.18,191.7" fill="#d20e20"/><polygon points="993.76,191.51 999.68,193.34 990.14,194.65" fill="#d20e20"/><polygon points="999.58,193.12 995.97,196.28 990.04,194.44" fill="#d20e20"/><polygon points="990.61,194.24 996.55,196.09 986.96,197.41" fill="#d20e20"/><polygon points="996.45,195.87 992.82,199.05 986.86,197.19" fill="#d30f20"/><polygon points="987.44,197 993.39,198.86 983.77,200.19" fill="#d30f20"/><polygon points="993.29,198.64 989.64,201.84 983.67,199.97" fill="#d30f20"/><polygon points="984.25,199.77 990.22,201.64 980.56,202.98" fill="#d30f20"/><polygon points="990.12,201.42 986.44,204.64 980.46,202.76" fill="#d30f20"/><polygon points="981.04,202.56 987.02,204.44 977.32,205.79" fill="#d30f20"/><polygon points="986.92,204.22 983.21,207.47 977.22,205.57" fill="#d30f20"/><polygon points="977.81,205.37 983.8,207.27 974.06,208.62" fill="#d30f20"/><polygon points="983.7,207.04 979.97,210.31 973.97,208.4" fill="#d30f20"/><polygon points="974.55,208.2 980.56,210.11 970.78,211.48" fill="#d30f20"/><polygon points="1037.86,158.99 1043.65,160.68 1034.55,161.89" fill="#cb0922"/><polygon points="1043.54,160.48 1040.24,163.4 1034.44,161.69" fill="#cd0b21"/><polygon points="1034.98,161.51 1040.78,163.22 1031.64,164.44" fill="#ca0922"/><polygon points="1040.67,163.02 1037.35,165.95 1031.54,164.23" fill="#cc0a21"/><polygon points="1032.08,164.05 1037.89,165.77 1028.72,166.99" fill="#ca0922"/><polygon points="1037.78,165.57 1034.44,168.52 1028.62,166.79" fill="#cd0b21"/><polygon points="1029.16,166.61 1034.98,168.34 1025.78,169.57" fill="#ca0922"/><polygon points="1034.88,168.13 1031.51,171.1 1025.68,169.37" fill="#cd0b21"/><polygon points="1026.22,169.18 1032.06,170.92 1022.82,172.16" fill="#cb0922"/><polygon points="1031.95,170.71 1028.56,173.7 1022.72,171.96" fill="#cf0c21"/><polygon points="1023.27,171.77 1029.11,173.52 1019.84,174.77" fill="#cc0a21"/><polygon points="1029.01,173.31 1025.6,176.32 1019.74,174.56" fill="#d00d20"/><polygon points="1020.29,174.38 1026.15,176.14 1016.85,177.39" fill="#cf0c21"/><polygon points="1026.05,175.93 1022.61,178.96 1016.74,177.19" fill="#d10d20"/><polygon points="1017.3,177 1023.17,178.77 1013.83,180.04" fill="#d00d20"/><polygon points="1023.06,178.56 1019.61,181.61 1013.72,179.83" fill="#d20e20"/><polygon points="1014.28,179.64 1020.17,181.42 1010.79,182.7" fill="#d10d20"/><polygon points="1020.06,181.21 1016.59,184.28 1010.69,182.49" fill="#d20e20"/><polygon points="1011.25,182.3 1017.15,184.09 1007.73,185.37" fill="#d20e20"/><polygon points="1017.04,183.88 1013.54,186.97 1007.63,185.16" fill="#d30f20"/><polygon points="1008.19,184.97 1014.1,186.78 1004.66,188.07" fill="#d20e20"/><polygon points="1014,186.56 1010.48,189.67 1004.55,187.86" fill="#d4101f"/><polygon points="1005.12,187.66 1011.04,189.48 1001.56,190.78" fill="#d20e20"/><polygon points="1010.94,189.27 1007.39,192.4 1001.46,190.57" fill="#d4101f"/><polygon points="1002.02,190.37 1007.96,192.2 998.44,193.51" fill="#d30f20"/><polygon points="1007.86,191.99 1004.29,195.14 998.34,193.3" fill="#d6111f"/><polygon points="998.91,193.1 1004.86,194.94 995.3,196.26" fill="#d30f20"/><polygon points="1004.76,194.73 1001.16,197.9 995.2,196.04" fill="#d6111f"/><polygon points="995.77,195.85 1001.73,197.7 992.14,199.03" fill="#d30f20"/><polygon points="1001.63,197.48 998.01,200.68 992.04,198.81" fill="#d7121f"/><polygon points="992.62,198.61 998.59,200.48 988.96,201.81" fill="#d30f20"/><polygon points="998.49,200.26 994.85,203.47 988.86,201.59" fill="#d7121f"/><polygon points="989.44,201.4 995.43,203.27 985.76,204.62" fill="#d30f20"/><polygon points="995.32,203.05 991.66,206.29 985.66,204.4" fill="#d8121e"/><polygon points="986.24,204.2 992.24,206.09 982.53,207.44" fill="#d30f20"/><polygon points="992.14,205.87 988.45,209.12 982.43,207.22" fill="#d8121e"/><polygon points="983.02,207.02 989.03,208.92 979.29,210.29" fill="#d30f20"/><polygon points="1042.89,160.46 1048.7,162.16 1039.59,163.38" fill="#d10d20"/><polygon points="1048.59,161.96 1045.3,164.89 1039.48,163.18" fill="#d10d20"/><polygon points="1040.02,163 1045.84,164.71 1036.7,165.93" fill="#d10d20"/><polygon points="1045.73,164.5 1042.42,167.45 1036.59,165.73" fill="#d20e20"/><polygon points="1037.13,165.54 1042.96,167.27 1033.79,168.5" fill="#d10d20"/><polygon points="1042.85,167.06 1039.52,170.03 1033.68,168.29" fill="#d20e20"/><polygon points="1034.22,168.11 1040.07,169.84 1030.86,171.08" fill="#d10d20"/><polygon points="1039.96,169.64 1036.61,172.62 1030.75,170.88" fill="#d20e20"/><polygon points="1031.3,170.69 1037.15,172.44 1027.91,173.68" fill="#d10d20"/><polygon points="1037.05,172.23 1033.67,175.23 1027.8,173.48" fill="#d20e20"/><polygon points="1028.35,173.29 1034.22,175.05 1024.94,176.3" fill="#d20e20"/><polygon points="1034.11,174.84 1030.72,177.86 1024.83,176.09" fill="#d20e20"/><polygon points="1025.39,175.91 1031.27,177.67 1021.95,178.94" fill="#d30f20"/><polygon points="1031.16,177.46 1027.74,180.5 1021.85,178.73" fill="#d7121f"/><polygon points="1022.4,178.54 1028.3,180.32 1018.95,181.59" fill="#d6111f"/><polygon points="1028.19,180.11 1024.75,183.17 1018.84,181.38" fill="#da141e"/><polygon points="1019.4,181.19 1025.31,182.98 1015.92,184.26" fill="#d8121e"/><polygon points="1025.2,182.77 1021.74,185.85 1015.81,184.05" fill="#de161d"/><polygon points="1016.37,183.86 1022.3,185.66 1012.87,186.95" fill="#da141e"/><polygon points="1022.19,185.44 1018.7,188.55 1012.77,186.73" fill="#e2191c"/><polygon points="1013.33,186.54 1019.27,188.35 1009.81,189.65" fill="#de161d"/><polygon points="1019.16,188.14 1015.65,191.26 1009.7,189.44" fill="#e7221e"/><polygon points="1010.27,189.24 1016.21,191.07 1006.72,192.37" fill="#e2191c"/><polygon points="1016.11,190.85 1012.58,193.99 1006.62,192.16" fill="#eb2c20"/><polygon points="1007.18,191.96 1013.14,193.8 1003.61,195.12" fill="#e51f1d"/><polygon points="1013.04,193.58 1009.48,196.75 1003.51,194.9" fill="#f03623"/><polygon points="1004.08,194.7 1010.05,196.55 1000.49,197.87" fill="#e7241e"/><polygon points="1009.95,196.33 1006.37,199.52 1000.38,197.66" fill="#f33c25"/><polygon points="1000.96,197.46 1006.94,199.32 997.34,200.65" fill="#e9271f"/><polygon points="1006.84,199.1 1003.23,202.31 997.23,200.43" fill="#f64327"/><polygon points="997.81,200.23 1003.81,202.11 994.17,203.45" fill="#eb2c20"/><polygon points="1003.71,201.89 1000.08,205.11 994.06,203.23" fill="#f94828"/><polygon points="994.64,203.03 1000.65,204.92 990.98,206.27" fill="#ec2d21"/><polygon points="1000.55,204.69 996.9,207.94 990.87,206.04" fill="#fa4b29"/><polygon points="991.45,205.84 997.48,207.74 987.76,209.1" fill="#ed2f21"/><polygon points="1047.94,161.94 1053.77,163.65 1044.65,164.86" fill="#d20e20"/><polygon points="1053.66,163.44 1050.38,166.38 1044.54,164.66" fill="#d30f20"/><polygon points="1045.08,164.48 1050.92,166.2 1041.77,167.43" fill="#d20e20"/><polygon points="1050.81,166 1047.51,168.95 1041.66,167.22" fill="#d30f20"/><polygon points="1042.2,167.04 1048.05,168.77 1038.87,170" fill="#d20e20"/><polygon points="1047.94,168.56 1044.62,171.54 1038.76,169.8" fill="#d30f20"/><polygon points="1039.3,169.62 1045.17,171.35 1035.95,172.6" fill="#d20e20"/><polygon points="1045.06,171.15 1041.72,174.14 1035.84,172.39" fill="#d30f20"/><polygon points="1036.39,172.21 1042.27,173.96 1033.01,175.21" fill="#d30f20"/><polygon points="1042.16,173.75 1038.8,176.76 1032.9,175" fill="#d30f20"/><polygon points="1033.45,174.82 1039.35,176.58 1030.06,177.84" fill="#d6111f"/><polygon points="1039.24,176.37 1035.85,179.4 1029.95,177.63" fill="#dc151d"/><polygon points="1030.5,177.44 1036.4,179.21 1027.08,180.48" fill="#dd161d"/><polygon points="1036.3,179 1032.89,182.06 1026.97,180.27" fill="#e41d1c"/><polygon points="1027.53,180.08 1033.44,181.87 1024.08,183.14" fill="#e31c1c"/><polygon points="1033.34,181.66 1029.91,184.73 1023.98,182.93" fill="#ea2920"/><polygon points="1024.53,182.74 1030.46,184.54 1021.07,185.82" fill="#e7241e"/><polygon points="1030.36,184.33 1026.91,187.42 1020.96,185.61" fill="#f03623"/><polygon points="1021.52,185.42 1027.47,187.23 1018.03,188.52" fill="#ee3222"/><polygon points="1027.36,187.02 1023.88,190.13 1017.93,188.31" fill="#fb4c29"/><polygon points="1018.49,188.12 1024.45,189.94 1014.98,191.24" fill="#f74427"/><polygon points="1024.34,189.72 1020.84,192.85 1014.87,191.02" fill="#fc6831"/><polygon points="1015.44,190.83 1021.41,192.66 1011.9,193.97" fill="#fc582d"/><polygon points="1021.3,192.44 1017.78,195.6 1011.8,193.76" fill="#fc8238"/><polygon points="1012.37,193.56 1018.35,195.4 1008.81,196.72" fill="#fc6c32"/><polygon points="1018.24,195.19 1014.7,198.36 1008.7,196.51" fill="#fd923e"/><polygon points="1009.27,196.31 1015.27,198.17 1005.69,199.49" fill="#fc7c37"/><polygon points="1015.16,197.95 1011.59,201.14 1005.59,199.27" fill="#fd9d43"/><polygon points="1006.16,199.08 1012.17,200.95 1002.55,202.28" fill="#fc8a3b"/><polygon points="1012.06,200.73 1008.47,203.94 1002.45,202.06" fill="#fda747"/><polygon points="1003.02,201.86 1009.05,203.74 999.39,205.09" fill="#fd913d"/><polygon points="1008.94,203.52 1005.33,206.76 999.29,204.87" fill="#fdab49"/><polygon points="999.87,204.67 1005.9,206.56 996.21,207.92" fill="#fd943f"/><polygon points="1053.01,163.42 1058.86,165.14 1049.73,166.36" fill="#d30f20"/><polygon points="1058.74,164.93 1055.48,167.88 1049.62,166.16" fill="#d30f20"/><polygon points="1050.16,165.97 1056.02,167.7 1046.86,168.93" fill="#d30f20"/><polygon points="1055.91,167.49 1052.62,170.46 1046.75,168.73" fill="#d30f20"/><polygon points="1047.29,168.54 1053.16,170.28 1043.97,171.52" fill="#d30f20"/><polygon points="1053.05,170.07 1049.75,173.06 1043.86,171.31" fill="#d30f20"/><polygon points="1044.4,171.13 1050.29,172.87 1041.06,174.12" fill="#d30f20"/><polygon points="1050.18,172.67 1046.85,175.67 1040.95,173.91" fill="#d30f20"/><polygon points="1041.5,173.73 1047.4,175.49 1038.14,176.74" fill="#d7121f"/><polygon points="1047.29,175.28 1043.94,178.3 1038.03,176.53" fill="#e0181c"/><polygon points="1038.58,176.35 1044.49,178.12 1035.19,179.38" fill="#e31c1c"/><polygon points="1044.38,177.91 1041.01,180.95 1035.08,179.17" fill="#eb2a20"/><polygon points="1035.63,178.98 1041.56,180.76 1032.23,182.03" fill="#eb2c20"/><polygon points="1041.45,180.55 1038.06,183.62 1032.12,181.82" fill="#f33c25"/><polygon points="1032.67,181.64 1038.61,183.43 1029.24,184.71" fill="#f33c25"/><polygon points="1038.5,183.21 1035.09,186.3 1029.13,184.5" fill="#fc522b"/><polygon points="1029.69,184.31 1035.64,186.11 1026.24,187.4" fill="#fc542b"/><polygon points="1035.53,185.9 1032.09,189 1026.13,187.18" fill="#fc7c37"/><polygon points="1026.69,186.99 1032.65,188.81 1023.21,190.11" fill="#fc7a36"/><polygon points="1032.55,188.59 1029.08,191.72 1023.11,189.89" fill="#fd9b42"/><polygon points="1023.67,189.7 1029.65,191.53 1020.17,192.83" fill="#fd9840"/><polygon points="1029.54,191.31 1026.05,194.45 1020.06,192.62" fill="#feb34e"/><polygon points="1020.63,192.42 1026.62,194.26 1017.11,195.58" fill="#fdab49"/><polygon points="1026.51,194.04 1023,197.21 1017,195.36" fill="#fec661"/><polygon points="1017.57,195.16 1023.57,197.01 1014.02,198.34" fill="#febc57"/><polygon points="1023.46,196.8 1019.93,199.98 1013.91,198.12" fill="#fed976"/><polygon points="1014.48,197.92 1020.5,199.79 1010.92,201.12" fill="#fecd69"/><polygon points="1020.4,199.57 1016.84,202.78 1010.81,200.9" fill="#fee085"/><polygon points="1011.38,200.7 1017.41,202.58 1007.79,203.92" fill="#fed673"/><polygon points="1017.31,202.36 1013.73,205.59 1007.68,203.7" fill="#fee48e"/><polygon points="1008.26,203.5 1014.3,205.39 1004.64,206.74" fill="#fedb7a"/><polygon points="1058.09,164.91 1063.96,166.63 1054.83,167.86" fill="#d30f20"/><polygon points="1063.85,166.43 1060.6,169.38 1054.71,167.65" fill="#d30f20"/><polygon points="1055.25,167.47 1061.14,169.2 1051.97,170.44" fill="#d30f20"/><polygon points="1061.02,169 1057.75,171.97 1051.85,170.23" fill="#d30f20"/><polygon points="1052.4,170.05 1058.29,171.79 1049.09,173.04" fill="#d30f20"/><polygon points="1058.18,171.58 1054.89,174.58 1048.98,172.83" fill="#d30f20"/><polygon points="1049.52,172.64 1055.43,174.4 1046.19,175.65" fill="#d8121e"/><polygon points="1055.32,174.19 1052,177.21 1046.08,175.44" fill="#e31a1c"/><polygon points="1046.63,175.26 1052.55,177.02 1043.28,178.28" fill="#e6201d"/><polygon points="1052.44,176.81 1049.1,179.85 1043.17,178.07" fill="#ed2f21"/><polygon points="1043.72,177.88 1049.65,179.66 1040.35,180.93" fill="#f03623"/><polygon points="1049.54,179.45 1046.18,182.5 1040.23,180.72" fill="#f84627"/><polygon points="1040.79,180.53 1046.73,182.32 1037.39,183.59" fill="#fa4b29"/><polygon points="1046.62,182.1 1043.24,185.18 1037.28,183.38" fill="#fc602f"/><polygon points="1037.83,183.19 1043.8,184.99 1034.42,186.28" fill="#fc6e33"/><polygon points="1043.69,184.78 1040.28,187.87 1034.31,186.06" fill="#fd8f3d"/><polygon points="1034.86,185.87 1040.84,187.68 1031.43,188.98" fill="#fd9640"/><polygon points="1040.73,187.47 1037.3,190.58 1031.32,188.76" fill="#fdab49"/><polygon points="1031.88,188.57 1037.86,190.39 1028.41,191.7" fill="#feb24c"/><polygon points="1037.75,190.18 1034.31,193.31 1028.3,191.48" fill="#feca65"/><polygon points="1028.87,191.29 1034.87,193.12 1025.38,194.43" fill="#fecd69"/><polygon points="1034.76,192.9 1031.29,196.06 1025.27,194.21" fill="#fedc7d"/><polygon points="1025.84,194.02 1031.85,195.87 1022.33,197.19" fill="#fede81"/><polygon points="1031.74,195.65 1028.25,198.83 1022.22,196.97" fill="#fee793"/><polygon points="1022.79,196.77 1028.82,198.63 1019.26,199.96" fill="#fee997"/><polygon points="1028.71,198.41 1025.19,201.61 1019.15,199.74" fill="#ffefa6"/><polygon points="1019.72,199.54 1025.76,201.41 1016.16,202.75" fill="#ffefa5"/><polygon points="1025.65,201.19 1022.11,204.41 1016.05,202.53" fill="#fff3b0"/><polygon points="1016.63,202.33 1022.68,204.22 1013.05,205.56" fill="#fff3af"/><polygon points="1063.2,166.4 1069.09,168.13 1059.94,169.36" fill="#d30f20"/><polygon points="1068.97,167.93 1065.74,170.89 1059.83,169.16" fill="#d30f20"/><polygon points="1060.37,168.98 1066.28,170.71 1057.1,171.95" fill="#d30f20"/><polygon points="1066.16,170.51 1062.9,173.49 1056.98,171.75" fill="#d30f20"/><polygon points="1057.52,171.56 1063.44,173.31 1054.23,174.56" fill="#d9131e"/><polygon points="1063.33,173.1 1060.05,176.11 1054.12,174.35" fill="#e31a1c"/><polygon points="1054.66,174.17 1060.59,175.93 1051.35,177.18" fill="#e7221e"/><polygon points="1060.48,175.72 1057.18,178.75 1051.23,176.97" fill="#ed2f21"/><polygon points="1051.78,176.79 1057.72,178.56 1048.44,179.82" fill="#f13724"/><polygon points="1057.61,178.35 1054.29,181.4 1048.33,179.61" fill="#f84627"/><polygon points="1048.88,179.43 1054.84,181.21 1045.52,182.48" fill="#fb4c29"/><polygon points="1054.72,181 1051.38,184.06 1045.41,182.27" fill="#fc602f"/><polygon points="1045.96,182.08 1051.93,183.88 1042.58,185.16" fill="#fc7033"/><polygon points="1051.82,183.66 1048.45,186.75 1042.46,184.95" fill="#fd8f3d"/><polygon points="1043.02,184.75 1049,186.56 1039.62,187.85" fill="#fd9941"/><polygon points="1048.89,186.35 1045.5,189.45 1039.5,187.64" fill="#fdab49"/><polygon points="1040.06,187.45 1046.06,189.26 1036.63,190.56" fill="#feb650"/><polygon points="1045.95,189.05 1042.53,192.18 1036.52,190.35" fill="#feca65"/><polygon points="1037.08,190.15 1043.09,191.98 1033.63,193.29" fill="#fed16d"/><polygon points="1042.98,191.77 1039.55,194.92 1033.52,193.07" fill="#fedc7d"/><polygon points="1034.08,192.88 1040.11,194.72 1030.61,196.04" fill="#fee085"/><polygon points="1040,194.5 1036.54,197.67 1030.5,195.82" fill="#fee793"/><polygon points="1031.07,195.62 1037.1,197.48 1027.57,198.8" fill="#feeb9b"/><polygon points="1036.99,197.26 1033.51,200.45 1027.46,198.58" fill="#ffefa6"/><polygon points="1028.03,198.39 1034.08,200.25 1024.51,201.59" fill="#fff0a9"/><polygon points="1033.97,200.03 1030.46,203.25 1024.4,201.37" fill="#fff3b0"/><polygon points="1024.97,201.17 1031.03,203.05 1021.43,204.39" fill="#fff5b4"/><polygon points="1068.32,167.9 1074.23,169.64 1065.08,170.87" fill="#d30f20"/><polygon points="1074.12,169.43 1070.89,172.41 1064.96,170.67" fill="#d30f20"/><polygon points="1065.5,170.48 1071.43,172.23 1062.24,173.47" fill="#d9131e"/><polygon points="1071.32,172.02 1068.07,175.02 1062.13,173.27" fill="#e31a1c"/><polygon points="1062.67,173.08 1068.61,174.84 1059.39,176.09" fill="#e7221e"/><polygon points="1068.5,174.63 1065.23,177.65 1059.27,175.88" fill="#ed2f21"/><polygon points="1059.82,175.7 1065.77,177.46 1056.52,178.72" fill="#f13724"/><polygon points="1065.66,177.25 1062.37,180.29 1056.4,178.51" fill="#f84627"/><polygon points="1056.95,178.33 1062.91,180.1 1053.62,181.37" fill="#fb4c29"/><polygon points="1062.8,179.89 1059.49,182.95 1053.51,181.16" fill="#fc602f"/><polygon points="1054.06,180.98 1060.04,182.76 1050.71,184.04" fill="#fc7033"/><polygon points="1059.92,182.55 1056.59,185.63 1050.6,183.83" fill="#fd8f3d"/><polygon points="1051.15,183.64 1057.14,185.44 1047.78,186.73" fill="#fd9941"/><polygon points="1057.03,185.23 1053.67,188.33 1047.67,186.51" fill="#fdab49"/><polygon points="1048.22,186.32 1054.23,188.14 1044.83,189.43" fill="#feb650"/><polygon points="1054.11,187.92 1050.74,191.04 1044.72,189.22" fill="#feca65"/><polygon points="1045.27,189.02 1051.3,190.85 1041.86,192.15" fill="#fed16d"/><polygon points="1051.18,190.63 1047.78,193.77 1041.75,191.94" fill="#fedc7d"/><polygon points="1042.31,191.74 1048.34,193.58 1038.87,194.89" fill="#fee085"/><polygon points="1048.23,193.36 1044.81,196.52 1038.76,194.68" fill="#fee793"/><polygon points="1039.32,194.48 1045.37,196.33 1035.86,197.65" fill="#feeb9b"/><polygon points="1045.26,196.11 1041.81,199.29 1035.75,197.43" fill="#ffefa6"/><polygon points="1036.32,197.24 1042.38,199.1 1032.83,200.43" fill="#fff0a9"/><polygon points="1042.26,198.88 1038.8,202.08 1032.72,200.21" fill="#fff3b0"/><polygon points="1033.29,200.01 1039.36,201.88 1029.78,203.22" fill="#fff5b4"/><polygon points="1073.46,169.41 1079.4,171.15 1070.24,172.39" fill="#d9131e"/><polygon points="1079.28,170.94 1076.07,173.93 1070.12,172.18" fill="#e31a1c"/><polygon points="1070.66,172 1076.61,173.75 1067.41,175" fill="#e7221e"/><polygon points="1076.49,173.54 1073.26,176.55 1067.29,174.79" fill="#ed2f21"/><polygon points="1067.83,174.61 1073.8,176.37 1064.57,177.63" fill="#f13724"/><polygon points="1073.68,176.16 1070.43,179.19 1064.45,177.42" fill="#f84627"/><polygon points="1064.99,177.23 1070.97,179 1061.71,180.27" fill="#fb4c29"/><polygon points="1070.85,178.79 1067.58,181.84 1061.59,180.06" fill="#fc602f"/><polygon points="1062.13,179.87 1068.13,181.65 1058.82,182.93" fill="#fc7033"/><polygon points="1068.01,181.44 1064.71,184.51 1058.71,182.72" fill="#fd8f3d"/><polygon points="1059.26,182.53 1065.26,184.32 1055.92,185.61" fill="#fd9941"/><polygon points="1065.14,184.11 1061.83,187.2 1055.81,185.4" fill="#fdab49"/><polygon points="1056.36,185.21 1062.38,187.01 1053.01,188.3" fill="#feb650"/><polygon points="1062.26,186.8 1058.92,189.91 1052.89,188.09" fill="#feca65"/><polygon points="1053.44,187.9 1059.47,189.72 1050.07,191.02" fill="#fed16d"/><polygon points="1059.36,189.5 1056,192.63 1049.95,190.8" fill="#fedc7d"/><polygon points="1050.51,190.61 1056.55,192.44 1047.11,193.75" fill="#fee085"/><polygon points="1056.44,192.22 1053.05,195.38 1046.99,193.53" fill="#fee793"/><polygon points="1047.55,193.34 1053.61,195.18 1044.13,196.5" fill="#feeb9b"/><polygon points="1053.5,194.96 1050.09,198.14 1044.02,196.28" fill="#ffefa6"/><polygon points="1044.58,196.09 1050.65,197.94 1041.14,199.27" fill="#fff0a9"/><polygon points="1050.54,197.72 1047.11,200.92 1041.02,199.05" fill="#fff3b0"/><polygon points="1041.58,198.85 1047.67,200.72 1038.12,202.06" fill="#fff5b4"/><polygon points="1078.62,170.92 1084.58,172.66 1075.41,173.91" fill="#e7221e"/><polygon points="1084.46,172.46 1081.26,175.46 1075.29,173.7" fill="#ed2f21"/><polygon points="1075.83,173.52 1081.8,175.28 1072.6,176.53" fill="#f13724"/><polygon points="1081.68,175.07 1078.46,178.09 1072.48,176.32" fill="#f84627"/><polygon points="1073.02,176.14 1079.01,177.9 1069.77,179.17" fill="#fb4c29"/><polygon points="1078.89,177.69 1075.65,180.74 1069.65,178.96" fill="#fc602f"/><polygon points="1070.19,178.77 1076.19,180.55 1066.91,181.82" fill="#fc7033"/><polygon points="1076.07,180.34 1072.81,183.4 1066.8,181.61" fill="#fd8f3d"/><polygon points="1067.34,181.42 1073.36,183.21 1064.05,184.49" fill="#fd9941"/><polygon points="1073.24,183 1069.95,186.08 1063.93,184.28" fill="#fdab49"/><polygon points="1064.48,184.09 1070.5,185.89 1061.16,187.18" fill="#feb650"/><polygon points="1070.38,185.68 1067.08,188.78 1061.04,186.97" fill="#feca65"/><polygon points="1061.59,186.78 1067.63,188.59 1058.25,189.89" fill="#fed16d"/><polygon points="1067.51,188.37 1064.19,191.5 1058.13,189.67" fill="#fedc7d"/><polygon points="1058.69,189.48 1064.74,191.31 1055.32,192.61" fill="#fee085"/><polygon points="1064.62,191.09 1061.27,194.23 1055.21,192.39" fill="#fee793"/><polygon points="1055.76,192.2 1061.83,194.04 1052.38,195.35" fill="#feeb9b"/><polygon points="1061.71,193.82 1058.34,196.99 1052.26,195.14" fill="#ffefa6"/><polygon points="1052.82,194.94 1058.9,196.79 1049.41,198.11" fill="#fff0a9"/><polygon points="1058.78,196.57 1055.39,199.76 1049.3,197.9" fill="#fff3b0"/><polygon points="1049.86,197.7 1055.95,199.56 1046.43,200.89" fill="#fff5b4"/><polygon points="1083.8,172.44 1089.79,174.19 1080.61,175.44" fill="#f13724"/><polygon points="1089.66,173.98 1086.48,176.99 1080.48,175.23" fill="#f84627"/><polygon points="1081.02,175.05 1087.02,176.81 1077.8,178.07" fill="#fb4c29"/><polygon points="1086.9,176.6 1083.69,179.63 1077.68,177.86" fill="#fc602f"/><polygon points="1078.22,177.67 1084.23,179.45 1074.98,180.71" fill="#fc7033"/><polygon points="1084.11,179.24 1080.88,182.29 1074.86,180.5" fill="#fd8f3d"/><polygon points="1075.41,180.32 1081.43,182.1 1072.14,183.38" fill="#fd9941"/><polygon points="1081.31,181.89 1078.06,184.96 1072.02,183.17" fill="#fdab49"/><polygon points="1072.57,182.98 1078.61,184.77 1069.29,186.06" fill="#feb650"/><polygon points="1078.49,184.56 1075.22,187.66 1069.17,185.85" fill="#feca65"/><polygon points="1069.72,185.66 1075.77,187.46 1066.41,188.76" fill="#fed16d"/><polygon points="1075.65,187.25 1072.35,190.36 1066.29,188.54" fill="#fedc7d"/><polygon points="1066.84,188.35 1072.91,190.17 1063.52,191.47" fill="#fee085"/><polygon points="1072.79,189.96 1069.47,193.09 1063.4,191.26" fill="#fee793"/><polygon points="1063.95,191.07 1070.03,192.9 1060.6,194.21" fill="#feeb9b"/><polygon points="1069.91,192.68 1066.57,195.84 1060.48,193.99" fill="#ffefa6"/><polygon points="1061.04,193.8 1067.13,195.64 1057.67,196.96" fill="#fff0a9"/><polygon points="1067.01,195.42 1063.65,198.6 1057.55,196.74" fill="#fff3b0"/><polygon points="1058.11,196.55 1064.21,198.41 1054.71,199.73" fill="#fff5b4"/><polygon points="1089,173.96 1095.01,175.72 1085.82,176.97" fill="#fb4c29"/><polygon points="1094.89,175.51 1091.71,178.53 1085.7,176.76" fill="#fc602f"/><polygon points="1086.23,176.58 1092.25,178.35 1083.03,179.61" fill="#fc7033"/><polygon points="1092.13,178.14 1088.94,181.18 1082.91,179.4" fill="#fd8f3d"/><polygon points="1083.45,179.21 1089.48,180.99 1080.22,182.27" fill="#fd9941"/><polygon points="1089.36,180.78 1086.14,183.85 1080.1,182.06" fill="#fdab49"/><polygon points="1080.64,181.87 1086.69,183.66 1077.39,184.94" fill="#feb650"/><polygon points="1086.56,183.45 1083.33,186.53 1077.27,184.73" fill="#feca65"/><polygon points="1077.82,184.54 1083.88,186.34 1074.55,187.63" fill="#fed16d"/><polygon points="1083.75,186.13 1080.5,189.24 1074.43,187.42" fill="#fedc7d"/><polygon points="1074.97,187.23 1081.05,189.04 1071.68,190.34" fill="#fee085"/><polygon points="1080.93,188.83 1077.65,191.95 1071.56,190.13" fill="#fee793"/><polygon points="1072.11,189.93 1078.2,191.76 1068.8,193.07" fill="#feeb9b"/><polygon points="1078.08,191.55 1074.78,194.69 1068.68,192.85" fill="#ffefa6"/><polygon points="1069.23,192.66 1075.33,194.5 1065.9,195.81" fill="#fff0a9"/><polygon points="1075.21,194.28 1071.89,197.45 1065.78,195.6" fill="#fff3b0"/><polygon points="1066.33,195.4 1072.45,197.25 1062.98,198.58" fill="#fff5b4"/><polygon points="1094.22,175.49 1100.25,177.25 1091.05,178.51" fill="#fc7033"/><polygon points="1100.13,177.04 1096.97,180.08 1090.93,178.3" fill="#fd8f3d"/><polygon points="1091.47,178.11 1097.51,179.89 1088.27,181.16" fill="#fd9941"/><polygon points="1097.38,179.68 1094.2,182.74 1088.15,180.95" fill="#fdab49"/><polygon points="1088.69,180.76 1094.74,182.55 1085.48,183.83" fill="#feb650"/><polygon points="1094.62,182.34 1091.42,185.41 1085.35,183.62" fill="#feca65"/><polygon points="1085.9,183.43 1091.96,185.22 1082.66,186.51" fill="#fed16d"/><polygon points="1091.84,185.01 1088.62,188.11 1082.54,186.3" fill="#fedc7d"/><polygon points="1083.08,186.11 1089.17,187.92 1079.83,189.21" fill="#fee085"/><polygon points="1089.04,187.7 1085.8,190.82 1079.71,189" fill="#fee793"/><polygon points="1080.25,188.81 1086.35,190.63 1076.98,191.93" fill="#feeb9b"/><polygon points="1086.23,190.41 1082.96,193.55 1076.85,191.72" fill="#ffefa6"/><polygon points="1077.4,191.52 1083.51,193.36 1074.1,194.67" fill="#fff0a9"/><polygon points="1083.39,193.14 1080.11,196.3 1073.98,194.45" fill="#fff3b0"/><polygon points="1074.54,194.26 1080.66,196.11 1071.21,197.43" fill="#fff5b4"/><polygon points="1099.46,177.02 1105.51,178.79 1096.31,180.06" fill="#fd9941"/><polygon points="1105.39,178.58 1102.24,181.63 1096.18,179.85" fill="#fdab49"/><polygon points="1096.72,179.66 1102.78,181.44 1093.54,182.71" fill="#feb650"/><polygon points="1102.65,181.23 1099.49,184.3 1093.41,182.5" fill="#feca65"/><polygon points="1093.95,182.31 1100.03,184.11 1090.75,185.39" fill="#fed16d"/><polygon points="1099.91,183.9 1096.72,186.99 1090.63,185.18" fill="#fedc7d"/><polygon points="1091.17,184.99 1097.26,186.79 1087.95,188.09" fill="#fee085"/><polygon points="1097.14,186.58 1093.93,189.69 1087.83,187.87" fill="#fee793"/><polygon points="1088.37,187.68 1094.48,189.5 1085.13,190.8" fill="#feeb9b"/><polygon points="1094.35,189.28 1091.12,192.41 1085,190.58" fill="#ffefa6"/><polygon points="1085.55,190.39 1091.67,192.22 1082.29,193.53" fill="#fff0a9"/><polygon points="1091.55,192 1088.3,195.15 1082.16,193.31" fill="#fff3b0"/><polygon points="1082.72,193.12 1088.85,194.96 1079.43,196.28" fill="#fff5b4"/><polygon points="1104.72,178.56 1110.79,180.34 1101.58,181.61" fill="#feb650"/><polygon points="1110.67,180.13 1107.54,183.19 1101.45,181.4" fill="#feca65"/><polygon points="1101.99,181.21 1108.07,183 1098.82,184.28" fill="#fed16d"/><polygon points="1107.95,182.78 1104.8,185.86 1098.7,184.06" fill="#fedc7d"/><polygon points="1099.24,183.87 1105.34,185.67 1096.05,186.96" fill="#fee085"/><polygon points="1105.21,185.46 1102.04,188.56 1095.92,186.75" fill="#fee793"/><polygon points="1096.47,186.56 1102.58,188.37 1093.26,189.67" fill="#feeb9b"/><polygon points="1102.45,188.16 1099.26,191.28 1093.13,189.45" fill="#ffefa6"/><polygon points="1093.68,189.26 1099.81,191.09 1090.45,192.39" fill="#fff0a9"/><polygon points="1099.68,190.87 1096.47,194.01 1090.32,192.17" fill="#fff3b0"/><polygon points="1090.87,191.98 1097.02,193.82 1087.62,195.13" fill="#fff5b4"/><polygon points="1110,180.1 1116.1,181.89 1106.87,183.16" fill="#fed16d"/><polygon points="1115.97,181.68 1112.85,184.75 1106.74,182.95" fill="#fedc7d"/><polygon points="1107.28,182.76 1113.39,184.56 1104.13,185.84" fill="#fee085"/><polygon points="1113.26,184.35 1110.12,187.44 1104,185.63" fill="#fee793"/><polygon points="1104.54,185.44 1110.66,187.25 1101.37,188.54" fill="#feeb9b"/><polygon points="1110.53,187.03 1107.38,190.15 1101.24,188.33" fill="#ffefa6"/><polygon points="1101.78,188.13 1107.92,189.95 1098.59,191.25" fill="#fff0a9"/><polygon points="1107.79,189.74 1104.61,192.87 1098.46,191.04" fill="#fff3b0"/><polygon points="1099.01,190.85 1105.16,192.68 1095.79,193.99" fill="#fff5b4"/><polygon points="1115.3,181.65 1121.42,183.44 1112.18,184.73" fill="#fedf84"/><polygon points="1121.29,183.23 1118.19,186.32 1112.05,184.51" fill="#fee590"/><polygon points="1112.59,184.32 1118.72,186.13 1109.45,187.42" fill="#feeb9b"/><polygon points="1118.59,185.91 1115.47,189.02 1109.32,187.2" fill="#ffeda1"/><polygon points="1109.86,187.01 1116.01,188.82 1106.71,190.12" fill="#fff0a9"/><polygon points="1115.88,188.61 1112.74,191.73 1106.58,189.91" fill="#fff2ac"/><polygon points="1107.12,189.72 1113.28,191.54 1103.94,192.85" fill="#fff4b3"/><polygon points="1120.62,183.21 1126.76,185.01 1117.52,186.29" fill="#fee188"/><polygon points="1126.63,184.8 1123.54,187.89 1117.38,186.08" fill="#fee188"/><polygon points="1117.92,185.89 1124.08,187.7 1114.8,188.99" fill="#fee795"/><polygon points="1123.95,187.49 1120.84,190.6 1114.67,188.78" fill="#fee692"/><polygon points="1115.21,188.59 1121.38,190.41 1112.06,191.71" fill="#feec9f"/><polygon points="1125.96,184.77 1132.12,186.58 1122.87,187.87" fill="#fed875"/><polygon points="1131.99,186.36 1128.92,189.47 1122.74,187.65" fill="#fed673"/><polygon points="1123.27,187.46 1129.45,189.28 1120.17,190.58" fill="#fedd80"/><polygon points="1131.32,186.34 1137.51,188.15 1128.24,189.45" fill="#feca65"/></g>
<g clip-path="url(#triBR)" opacity="0.35"><polygon points="1003.26,149.03 919.87,218.48 914.9,111.89 1002.27,48.57" fill="none" stroke="#dcdcdc" stroke-width="0.6"/><polygon points="1003.26,149.03 1136.83,188.13 1141.77,84.22 1002.27,48.57" fill="none" stroke="#dcdcdc" stroke-width="0.6"/><polygon points="1003.26,149.03 1136.83,188.13 1061.45,265 919.87,218.48" fill="none" stroke="#dcdcdc" stroke-width="0.6"/><path d="M1005.81,149.78L922.56,219.36M1001.73,150.31L1135.45,189.54M1001.73,150.31L1000.67,49.73M1003.24,147.1L919.77,216.44M1005.81,149.78L1004.93,49.25M1003.24,147.1L1136.93,186.14M1036.76,158.84L955.26,230.11M982.92,165.97L1118.51,206.82M982.92,165.97L981.02,63.97M1003.01,123.71L918.62,191.69M1036.76,158.84L1037.2,57.5M1003.01,123.71L1138.08,161.98M1068.44,168.11L988.79,241.13M963.34,182.28L1100.83,224.85M963.34,182.28L960.53,78.82M1002.78,99.85L917.44,166.4M1068.44,168.11L1070.26,65.95M1002.78,99.85L1139.25,137.32M1100.85,177.6L1023.19,252.43M942.95,199.26L1082.38,243.66M942.95,199.26L939.15,94.32M1002.54,75.5L916.24,140.55M1100.85,177.6L1104.13,74.6M1002.54,75.5L1140.45,112.12M1134.03,187.31L1058.47,264.02M921.68,216.97L1063.1,263.33M921.68,216.97L916.81,110.51M1002.29,50.66L915,114.12M1134.03,187.31L1138.84,83.47M1002.29,50.66L1141.67,86.39" fill="none" stroke="#5a1020" stroke-width="0.7"/></g>
<path d="M913.7,111.89L918.67,219.08M919.27,219.68L1060.95,266.6M1062.65,265.8L1138.43,188.73M918.57,216.44l-3.5,1.6M922.06,220.76l-2.6,3M1136.85,190.34l3.6,0.9M917.42,191.69l-3.5,1.6M954.76,231.51l-2.6,3M1119.91,207.62l3.6,0.9M916.24,166.4l-3.5,1.6M988.29,242.53l-2.6,3M1102.23,225.65l3.6,0.9M915.04,140.55l-3.5,1.6M1022.69,253.83l-2.6,3M1083.78,244.46l3.6,0.9M913.8,114.12l-3.5,1.6M1057.97,265.42l-2.6,3M1064.5,264.13l3.6,0.9" fill="none" stroke="#1a1a1a" stroke-width="1"/>
<text x="900.75" y="121" font-size="14.2" fill="#231f20" text-anchor="middle">1</text>
<text x="893.15" y="151" font-size="14.2" fill="#231f20" text-anchor="middle" textLength="30.7" lengthAdjust="spacingAndGlyphs">0.75</text>
<text x="897.35" y="177.3" font-size="14.2" fill="#231f20" text-anchor="middle" textLength="25.1" lengthAdjust="spacingAndGlyphs">0.5</text>
<text x="896.4" y="205.4" font-size="14.2" fill="#231f20" text-anchor="middle" textLength="29.8" lengthAdjust="spacingAndGlyphs">0.25</text>
<text x="900.25" y="231" font-size="14.2" fill="#231f20" text-anchor="middle">0</text>
<text x="916.95" y="238.4" font-size="14.2" fill="#231f20" text-anchor="middle">0</text>
<text x="947.95" y="255.4" font-size="14.2" fill="#231f20" text-anchor="middle" textLength="29.9" lengthAdjust="spacingAndGlyphs">0.25</text>
<text x="983.8" y="265.3" font-size="14.2" fill="#231f20" text-anchor="middle" textLength="22.2" lengthAdjust="spacingAndGlyphs">0.5</text>
<text x="1019.95" y="278" font-size="14.2" fill="#231f20" text-anchor="middle" textLength="29.3" lengthAdjust="spacingAndGlyphs">07.5</text>
<text x="1056.1" y="285.1" font-size="14.2" fill="#231f20" text-anchor="middle">1</text>
<text x="1152.85" y="198.7" font-size="14.2" fill="#231f20" text-anchor="middle">0</text>
<text x="1142.2" y="220" font-size="14.2" fill="#231f20" text-anchor="middle" textLength="30.2" lengthAdjust="spacingAndGlyphs">0.25</text>
<text x="1121.7" y="238.4" font-size="14.2" fill="#231f20" text-anchor="middle" textLength="21.4" lengthAdjust="spacingAndGlyphs">0.5</text>
<text x="1103.55" y="259.6" font-size="14.2" fill="#231f20" text-anchor="middle" textLength="29.3" lengthAdjust="spacingAndGlyphs">07.5</text>
<text x="1075.9" y="281" font-size="14.2" fill="#231f20" text-anchor="middle">1</text>
<text x="868.3" y="210" font-size="17.5" fill="#231f20" textLength="69.4" lengthAdjust="spacingAndGlyphs" transform="rotate(-90 868.3 210)">Glycerol</text>
<text x="970.3" y="288.5" font-size="17.5" fill="#231f20" text-anchor="middle" transform="rotate(21 970.3 288.5)">CNF</text>
<text x="1146" y="261" font-size="17.5" fill="#231f20" text-anchor="middle" transform="rotate(-47 1146 261)">MMT</text>
<rect x="947" y="321.3" width="188" height="10.2" fill="url(#cbar)" stroke="#333" stroke-width="1"/>
<text x="917" y="332" font-size="15.5" fill="#231f20" textLength="21.8" lengthAdjust="spacingAndGlyphs">0%</text>
<text x="1138.8" y="332" font-size="15.5" fill="#231f20" textLength="38.2" lengthAdjust="spacingAndGlyphs">100%</text>
<text x="962.5" y="353.3" font-size="17.4" fill="#231f20" textLength="153.8" lengthAdjust="spacingAndGlyphs">A grade possibility</text>
<path d="M90,436 L167,446 L500,506 L650,521 L800,533 L968,551 L968,604 L650,636 L300,682 L200,700 L90,728 Z" fill="url(#fanC)" filter="url(#blur3)"/>
<g clip-path="url(#fanClip)"><g filter="url(#blur6)" fill="none" stroke="url(#fanE)" stroke-width="26" opacity="0.6"><path d="M90,436 L167,446 L500,506 L650,521 L800,533 L968,551"/><path d="M968,604 L650,636 L300,682 L200,700 L90,728"/></g></g>
<text x="3" y="424.5" font-size="26" fill="#000" font-weight="bold" stroke="#000" stroke-width="1.1">c</text>
<rect x="35" y="416.6" width="273" height="26.2" fill="#002060" rx="8"/>
<text x="0" y="0" font-size="1" fill="#fff"></text>
<text x="84.8" y="437.5" font-size="19.5" fill="#fff" textLength="173.9" lengthAdjust="spacingAndGlyphs">Composition labels</text>
<rect x="339" y="416.6" width="265" height="26.2" fill="#002060" rx="8"/>
<text x="0" y="0" font-size="1" fill="#fff"></text>
<text x="384.3" y="438" font-size="19.5" fill="#fff" textLength="169.4" lengthAdjust="spacingAndGlyphs">Data augmentation</text>
<rect x="649" y="417.9" width="511.5" height="25.4" fill="#002060" rx="8"/>
<text x="0" y="0" font-size="1" fill="#fff"></text>
<text x="810.2" y="438" font-size="19.5" fill="#fff" textLength="190.2" lengthAdjust="spacingAndGlyphs">Active learning loops</text>
<rect x="36" y="551.5" width="273" height="25.8" fill="#002060" rx="8"/>
<text x="0" y="0" font-size="1" fill="#fff"></text>
<text x="104.8" y="572.5" font-size="19.5" fill="#fff" textLength="135.2" lengthAdjust="spacingAndGlyphs">Property labels</text>
<circle cx="75.5" cy="477.5" r="17.3" fill="#ffffff" stroke="#1a1a1a" stroke-width="2.3"/>
<circle cx="140.2" cy="477.2" r="17.3" fill="#ffffff" stroke="#1a1a1a" stroke-width="2.3"/>
<circle cx="203.8" cy="476.7" r="17.3" fill="#ffffff" stroke="#1a1a1a" stroke-width="2.3"/>
<circle cx="266.7" cy="475.8" r="17.3" fill="#ffffff" stroke="#1a1a1a" stroke-width="2.3"/>
<path d="M62,475.6 L74.4,480.1 L76.5,486.5 L65.6,482.8 Z" fill="#c8694c" stroke="#111" stroke-width="0.9" stroke-linejoin="round"/>
<path d="M83.6,472.4 L86,473 L89.4,480.9 L82.3,478.6 Z" fill="#b5442a" stroke="#111" stroke-width="0.9" stroke-linejoin="round"/>
<path d="M72.7,468.5 L83.6,472.4 L78.9,487.5 L76.5,486.5 L74.4,480.1 L69.5,478.3 Z" fill="#f7941d" stroke="#111" stroke-width="0.9" stroke-linejoin="round"/>
<g clip-path="url(#cnfc)"><line x1="124.5" y1="479.5" x2="141" y2="469" stroke="#111" stroke-width="5.8" stroke-linecap="round"/><line x1="124.5" y1="479.5" x2="141" y2="469" stroke="#2fbf74" stroke-width="3.4" stroke-linecap="round"/><line x1="130.5" y1="483" x2="150" y2="470.3" stroke="#111" stroke-width="5.8" stroke-linecap="round"/><line x1="130.5" y1="483" x2="150" y2="470.3" stroke="#2fbf74" stroke-width="3.4" stroke-linecap="round"/><line x1="139.5" y1="483" x2="158" y2="471.3" stroke="#111" stroke-width="5.8" stroke-linecap="round"/><line x1="139.5" y1="483" x2="158" y2="471.3" stroke="#2fbf74" stroke-width="3.4" stroke-linecap="round"/></g>
<path d="M190.75,470.88L194.13,473.14L202.01,472.01L202.76,466.38L205.01,464.5L212.52,466.38L214.02,470.13L215.52,473.14M193.38,467.51L197.51,466.76L203.14,465.26M191.5,477.26L196.76,478.76L204.26,476.51L208.02,475.76L213.27,476.51L215.89,480.26L215.14,484.39M192.63,483.64L196.38,484.77L201.64,482.52L208.02,483.27L208.77,487.02L205.01,488.52L200.89,488.14M194.51,467.51L194.88,472.76L197.13,477.26L197.51,482.89M203.51,468.26L202.76,472.76L205.01,476.51L209.52,480.26L210.27,486.64M204.26,471.26L208.77,469.38L212.52,470.51M207.26,474.26L213.27,475.01L213.64,480.26" fill="none" stroke="#a7a9ac" stroke-width="1.5" stroke-linejoin="round" stroke-linecap="round"/>
<line x1="257.1" y1="472.9" x2="262.4" y2="478.1" stroke="#444" stroke-width="1.4"/>
<line x1="262.4" y1="478.1" x2="267.5" y2="474" stroke="#444" stroke-width="1.4"/>
<line x1="267.5" y1="474" x2="264.4" y2="469.5" stroke="#444" stroke-width="1.4"/>
<line x1="267.5" y1="474" x2="272.5" y2="478.9" stroke="#444" stroke-width="1.4"/>
<line x1="272.5" y1="478.9" x2="276.6" y2="474" stroke="#444" stroke-width="1.4"/>
<line x1="257.1" y1="472.9" x2="253.4" y2="476.6" stroke="#444" stroke-width="1.4"/>
<line x1="262.4" y1="478.1" x2="259.4" y2="481.5" stroke="#444" stroke-width="1.4"/>
<line x1="262.4" y1="478.1" x2="264.3" y2="481.5" stroke="#444" stroke-width="1.4"/>
<line x1="267.5" y1="474" x2="270.6" y2="470.6" stroke="#444" stroke-width="1.4"/>
<line x1="264.4" y1="469.5" x2="262.8" y2="473.3" stroke="#444" stroke-width="1.4"/>
<line x1="272.5" y1="478.9" x2="269.9" y2="482.3" stroke="#444" stroke-width="1.4"/>
<line x1="272.5" y1="478.9" x2="274.8" y2="481.5" stroke="#444" stroke-width="1.4"/>
<line x1="276.6" y1="474" x2="280" y2="477" stroke="#444" stroke-width="1.4"/>
<circle cx="253.4" cy="476.6" r="1.3" fill="#d0d0d0"/>
<circle cx="262.8" cy="473.3" r="1.3" fill="#d0d0d0"/>
<circle cx="270.6" cy="470.6" r="1.3" fill="#d0d0d0"/>
<circle cx="280" cy="477" r="1.3" fill="#d0d0d0"/>
<circle cx="259.4" cy="481.5" r="1.3" fill="#d0d0d0"/>
<circle cx="264.3" cy="481.5" r="1.3" fill="#d0d0d0"/>
<circle cx="269.9" cy="482.3" r="1.3" fill="#d0d0d0"/>
<circle cx="274.8" cy="481.5" r="1.3" fill="#d0d0d0"/>
<circle cx="262.4" cy="478.1" r="1.7" fill="#333"/>
<circle cx="267.5" cy="474" r="1.7" fill="#333"/>
<circle cx="272.5" cy="478.9" r="1.7" fill="#333"/>
<circle cx="257.1" cy="472.9" r="1.9" fill="#e8141b"/>
<circle cx="264.4" cy="469.5" r="1.9" fill="#e8141b"/>
<circle cx="276.6" cy="474" r="1.9" fill="#e8141b"/>
<text x="46.7" y="526.8" font-size="18.2" fill="#231f20" textLength="286.6" lengthAdjust="spacingAndGlyphs">MMT/CNF/gelatin/glycerol ratio</text>
<circle cx="54.7" cy="604.8" r="18.2" fill="#27aae1"/>
<path d="M41,605 Q54.7,591 68.4,605 Q54.7,619 41,605 Z" fill="#fff"/>
<g clip-path="url(#eyeC)"><circle cx="54.7" cy="605.3" r="4.8" fill="#27aae1"/><circle cx="54.7" cy="599.6" r="2.3" fill="#fff"/></g>
<circle cx="54.7" cy="652.5" r="18.2" fill="#e63c3f"/>
<path d="M53,641.5 a2.8,2.8 0 0 1 5.6,0 l0,12.5 a4.8,4.8 0 1 1 -5.6,0 z" fill="#fff"/>
<path d="M54.6,642 l0,13" stroke="#e63c3f" stroke-width="1.2"/>
<line x1="44.5" y1="647.5" x2="51" y2="647.5" stroke="#fff" stroke-width="1.2"/>
<line x1="48" y1="644" x2="51" y2="644" stroke="#fff" stroke-width="1.2"/>
<line x1="48" y1="651" x2="51" y2="651" stroke="#fff" stroke-width="1.2"/>
<circle cx="54.7" cy="701.3" r="18.2" fill="#808285"/>
<rect x="-2.6" y="-11" width="5.2" height="6" rx="0.8" fill="#fff" transform="translate(54.7 701.3) rotate(0)"/><rect x="-2.6" y="-11" width="5.2" height="6" rx="0.8" fill="#fff" transform="translate(54.7 701.3) rotate(45)"/><rect x="-2.6" y="-11" width="5.2" height="6" rx="0.8" fill="#fff" transform="translate(54.7 701.3) rotate(90)"/><rect x="-2.6" y="-11" width="5.2" height="6" rx="0.8" fill="#fff" transform="translate(54.7 701.3) rotate(135)"/><rect x="-2.6" y="-11" width="5.2" height="6" rx="0.8" fill="#fff" transform="translate(54.7 701.3) rotate(180)"/><rect x="-2.6" y="-11" width="5.2" height="6" rx="0.8" fill="#fff" transform="translate(54.7 701.3) rotate(225)"/><rect x="-2.6" y="-11" width="5.2" height="6" rx="0.8" fill="#fff" transform="translate(54.7 701.3) rotate(270)"/><rect x="-2.6" y="-11" width="5.2" height="6" rx="0.8" fill="#fff" transform="translate(54.7 701.3) rotate(315)"/>
<circle cx="54.7" cy="701.3" r="7.8" fill="#fff"/>
<circle cx="54.7" cy="701.3" r="3.2" fill="#808285"/>
<text x="85.3" y="612" font-size="18.2" fill="#231f20" textLength="176" lengthAdjust="spacingAndGlyphs">Absorption spectrum</text>
<text x="85.3" y="660" font-size="18.2" fill="#231f20" textLength="121.4" lengthAdjust="spacingAndGlyphs">Fire resistance</text>
<text x="85.3" y="709.3" font-size="18.2" fill="#231f20" textLength="158.7" lengthAdjust="spacingAndGlyphs">Stress–strain curve</text>
<ellipse cx="400.7" cy="503.5" rx="42" ry="33.5" fill="#ffffff" stroke="#8a8a8a" stroke-width="2"/>
<circle cx="412.8" cy="485.5" r="4.1" fill="#757575"/>
<circle cx="377.6" cy="503.2" r="4.1" fill="#757575"/>
<circle cx="413.4" cy="521.3" r="4.1" fill="#757575"/>
<ellipse cx="546.9" cy="503.3" rx="45.5" ry="36" fill="#ffffff" stroke="#8a8a8a" stroke-width="2"/>
<g clip-path="url(#ellR)"><circle cx="513.1" cy="494.6" r="4.7" fill="#93c08b"/><circle cx="526.3" cy="490.7" r="4.7" fill="#93c08b"/><circle cx="534.2" cy="501.7" r="4.7" fill="#93c08b"/><circle cx="510.9" cy="508" r="4.7" fill="#93c08b"/><circle cx="525.4" cy="515.7" r="4.7" fill="#93c08b"/><circle cx="550.2" cy="476.9" r="4.7" fill="#93c08b"/><circle cx="562.6" cy="472.2" r="4.7" fill="#93c08b"/><circle cx="573" cy="478.6" r="4.7" fill="#93c08b"/><circle cx="549" cy="490" r="4.7" fill="#93c08b"/><circle cx="570.8" cy="490" r="4.7" fill="#93c08b"/><circle cx="560" cy="495.1" r="4.7" fill="#93c08b"/><circle cx="559.5" cy="511.5" r="4.7" fill="#93c08b"/><circle cx="548.5" cy="522.8" r="4.7" fill="#93c08b"/><circle cx="572.2" cy="521.1" r="4.7" fill="#93c08b"/><circle cx="556.1" cy="534.3" r="4.7" fill="#93c08b"/><circle cx="569.7" cy="531.8" r="4.7" fill="#93c08b"/></g>
<circle cx="521.5" cy="503.6" r="4.7" fill="#6e6e6e"/>
<circle cx="559.5" cy="483.6" r="4.7" fill="#6e6e6e"/>
<circle cx="560.4" cy="523.3" r="4.7" fill="#6e6e6e"/>
<path d="M370.2,574.8 L370.2,618.9 A23.8,10.3 0 0 0 417.8,618.9 L417.8,574.8 Z" fill="#7a6b93"/>
<path d="M370.2,574.8 L370.2,604.2 A23.8,10.3 0 0 0 417.8,604.2 L417.8,574.8 Z" fill="#679bbf"/>
<path d="M370.2,574.8 L370.2,589.5 A23.8,10.3 0 0 0 417.8,589.5 L417.8,574.8 Z" fill="#62bae1"/>
<ellipse cx="394" cy="574.8" rx="23.8" ry="10.3" fill="#b1d5e6"/>
<path d="M490.7,566.7 L490.7,621 A54.3,12.4 0 0 0 599.3,621 L599.3,566.7 Z" fill="#7a6b93"/>
<path d="M490.7,566.7 L490.7,602.9 A54.3,12.4 0 0 0 599.3,602.9 L599.3,566.7 Z" fill="#679bbf"/>
<path d="M490.7,566.7 L490.7,584.8 A54.3,12.4 0 0 0 599.3,584.8 L599.3,566.7 Z" fill="#62bae1"/>
<ellipse cx="545" cy="566.7" rx="54.3" ry="12.4" fill="#b1d5e6"/>
<path d="M430.8,587 L438.4,587 L452,601.6 L438.4,616.2 L430.8,616.2 L444.4,601.6 Z" fill="#777"/>
<path d="M444.4,587 L452,587 L465.6,601.6 L452,616.2 L444.4,616.2 L458,601.6 Z" fill="#777"/>
<path d="M457.9,587 L465.5,587 L479.1,601.6 L465.5,616.2 L457.9,616.2 L471.5,601.6 Z" fill="#777"/>
<circle cx="410" cy="670.7" r="7" fill="#777777"/>
<circle cx="410" cy="703.3" r="7" fill="#9cc795"/>
<text x="425" y="677.5" font-size="18.2" fill="#231f20" textLength="94" lengthAdjust="spacingAndGlyphs">Real datum</text>
<text x="425" y="710" font-size="18.2" fill="#231f20" textLength="112" lengthAdjust="spacingAndGlyphs">Virtual datum</text>
<polygon points="660,532.3 674,596.7 663.7,608.3 649.6,544.7" fill="#c9c9cc" stroke="#a9a9ad" stroke-width="0.6"/>
<path d="M659,548.3C674,548.3 686,548.3 701,548.3M659,548.3C674,548.3 689,562.4 704,562.4M659,548.3C674,548.3 692,576.7 707,576.7M659,548.3C674,548.3 694.6,590 709.6,590M662,562.4C677,562.4 686,548.3 701,548.3M662,562.4C677,562.4 689,562.4 704,562.4M662,562.4C677,562.4 692,576.7 707,576.7M662,562.4C677,562.4 694.6,590 709.6,590M665,576.7C680,576.7 686,548.3 701,548.3M665,576.7C680,576.7 689,562.4 704,562.4M665,576.7C680,576.7 692,576.7 707,576.7M665,576.7C680,576.7 694.6,590 709.6,590M667.7,590C682.7,590 686,548.3 701,548.3M667.7,590C682.7,590 689,562.4 704,562.4M667.7,590C682.7,590 692,576.7 707,576.7M667.7,590C682.7,590 694.6,590 709.6,590" fill="none" stroke="#3fb0e6" stroke-width="0.9"/>
<polygon points="701.3,532.3 715.3,596.7 705,608.3 691.3,544.7" fill="#c9c9cc" stroke="#a9a9ad" stroke-width="0.6"/>
<path d="M701,548.3C719,548.3 730,562.4 748,562.4M701,548.3C719,548.3 733,576.7 751,576.7M704,562.4C722,562.4 730,562.4 748,562.4M704,562.4C722,562.4 733,576.7 751,576.7M707,576.7C725,576.7 730,562.4 748,562.4M707,576.7C725,576.7 733,576.7 751,576.7M709.6,590C727.6,590 730,562.4 748,562.4M709.6,590C727.6,590 733,576.7 751,576.7" fill="none" stroke="#1f6fb8" stroke-width="0.9"/>
<polygon points="749.3,548.3 755,578.7 745.3,590.7 739,560.7" fill="#c9c9cc" stroke="#a9a9ad" stroke-width="0.6"/>
<line x1="748" y1="562.4" x2="784.7" y2="562.4" stroke="#8a62b8" stroke-width="1"/>
<line x1="751" y1="576.7" x2="787.7" y2="577" stroke="#8a62b8" stroke-width="1"/>
<polygon points="786,548.3 792,578.7 782,590.7 775.3,560.7" fill="#c9c9cc" stroke="#a9a9ad" stroke-width="0.6"/>
<circle cx="659" cy="548.3" r="2.3" fill="#2aa0d8"/>
<circle cx="662" cy="562.4" r="2.3" fill="#2aa0d8"/>
<circle cx="665" cy="576.7" r="2.3" fill="#2aa0d8"/>
<circle cx="667.7" cy="590" r="2.3" fill="#2aa0d8"/>
<circle cx="701" cy="548.3" r="2.3" fill="#1a62a8"/>
<circle cx="704" cy="562.4" r="2.3" fill="#1a62a8"/>
<circle cx="707" cy="576.7" r="2.3" fill="#1a62a8"/>
<circle cx="709.6" cy="590" r="2.3" fill="#1a62a8"/>
<circle cx="748" cy="562.4" r="2.3" fill="#7448a8"/>
<circle cx="751" cy="576.7" r="2.3" fill="#7448a8"/>
<circle cx="784.7" cy="562.4" r="2.3" fill="#7448a8"/>
<circle cx="787.7" cy="577" r="2.3" fill="#7448a8"/>
<text x="665" y="684.2" font-size="18.2" fill="#231f20" textLength="126" lengthAdjust="spacingAndGlyphs">Artificial neural</text>
<text x="690" y="705.5" font-size="18.2" fill="#231f20" textLength="76" lengthAdjust="spacingAndGlyphs">networks</text>
<rect x="823.8" y="536.3" width="28.8" height="29" fill="#4b3f9e" rx="5"/>
<rect x="-1.7" y="-9.3" width="3.4" height="4.5" fill="#fff" transform="translate(838.2 550.9) rotate(0)"/><rect x="-1.7" y="-9.3" width="3.4" height="4.5" fill="#fff" transform="translate(838.2 550.9) rotate(45)"/><rect x="-1.7" y="-9.3" width="3.4" height="4.5" fill="#fff" transform="translate(838.2 550.9) rotate(90)"/><rect x="-1.7" y="-9.3" width="3.4" height="4.5" fill="#fff" transform="translate(838.2 550.9) rotate(135)"/><rect x="-1.7" y="-9.3" width="3.4" height="4.5" fill="#fff" transform="translate(838.2 550.9) rotate(180)"/><rect x="-1.7" y="-9.3" width="3.4" height="4.5" fill="#fff" transform="translate(838.2 550.9) rotate(225)"/><rect x="-1.7" y="-9.3" width="3.4" height="4.5" fill="#fff" transform="translate(838.2 550.9) rotate(270)"/><rect x="-1.7" y="-9.3" width="3.4" height="4.5" fill="#fff" transform="translate(838.2 550.9) rotate(315)"/>
<circle cx="838.2" cy="550.9" r="6.4" fill="#fff"/>
<circle cx="838.2" cy="550.9" r="2.5" fill="#4b3f9e"/>
<rect x="823.8" y="575.4" width="28.8" height="29" fill="#4b3f9e" rx="5"/>
<rect x="-1.7" y="-9.3" width="3.4" height="4.5" fill="#fff" transform="translate(838.2 590) rotate(0)"/><rect x="-1.7" y="-9.3" width="3.4" height="4.5" fill="#fff" transform="translate(838.2 590) rotate(45)"/><rect x="-1.7" y="-9.3" width="3.4" height="4.5" fill="#fff" transform="translate(838.2 590) rotate(90)"/><rect x="-1.7" y="-9.3" width="3.4" height="4.5" fill="#fff" transform="translate(838.2 590) rotate(135)"/><rect x="-1.7" y="-9.3" width="3.4" height="4.5" fill="#fff" transform="translate(838.2 590) rotate(180)"/><rect x="-1.7" y="-9.3" width="3.4" height="4.5" fill="#fff" transform="translate(838.2 590) rotate(225)"/><rect x="-1.7" y="-9.3" width="3.4" height="4.5" fill="#fff" transform="translate(838.2 590) rotate(270)"/><rect x="-1.7" y="-9.3" width="3.4" height="4.5" fill="#fff" transform="translate(838.2 590) rotate(315)"/>
<circle cx="838.2" cy="590" r="6.4" fill="#fff"/>
<circle cx="838.2" cy="590" r="2.5" fill="#4b3f9e"/>
<rect x="863.1" y="536.3" width="28.8" height="29" fill="#4b3f9e" rx="5"/>
<rect x="-1.7" y="-9.3" width="3.4" height="4.5" fill="#fff" transform="translate(877.5 550.9) rotate(0)"/><rect x="-1.7" y="-9.3" width="3.4" height="4.5" fill="#fff" transform="translate(877.5 550.9) rotate(45)"/><rect x="-1.7" y="-9.3" width="3.4" height="4.5" fill="#fff" transform="translate(877.5 550.9) rotate(90)"/><rect x="-1.7" y="-9.3" width="3.4" height="4.5" fill="#fff" transform="translate(877.5 550.9) rotate(135)"/><rect x="-1.7" y="-9.3" width="3.4" height="4.5" fill="#fff" transform="translate(877.5 550.9) rotate(180)"/><rect x="-1.7" y="-9.3" width="3.4" height="4.5" fill="#fff" transform="translate(877.5 550.9) rotate(225)"/><rect x="-1.7" y="-9.3" width="3.4" height="4.5" fill="#fff" transform="translate(877.5 550.9) rotate(270)"/><rect x="-1.7" y="-9.3" width="3.4" height="4.5" fill="#fff" transform="translate(877.5 550.9) rotate(315)"/>
<circle cx="877.5" cy="550.9" r="6.4" fill="#fff"/>
<circle cx="877.5" cy="550.9" r="2.5" fill="#4b3f9e"/>
<rect x="863.1" y="575.4" width="28.8" height="29" fill="#4b3f9e" rx="5"/>
<rect x="-1.7" y="-9.3" width="3.4" height="4.5" fill="#fff" transform="translate(877.5 590) rotate(0)"/><rect x="-1.7" y="-9.3" width="3.4" height="4.5" fill="#fff" transform="translate(877.5 590) rotate(45)"/><rect x="-1.7" y="-9.3" width="3.4" height="4.5" fill="#fff" transform="translate(877.5 590) rotate(90)"/><rect x="-1.7" y="-9.3" width="3.4" height="4.5" fill="#fff" transform="translate(877.5 590) rotate(135)"/><rect x="-1.7" y="-9.3" width="3.4" height="4.5" fill="#fff" transform="translate(877.5 590) rotate(180)"/><rect x="-1.7" y="-9.3" width="3.4" height="4.5" fill="#fff" transform="translate(877.5 590) rotate(225)"/><rect x="-1.7" y="-9.3" width="3.4" height="4.5" fill="#fff" transform="translate(877.5 590) rotate(270)"/><rect x="-1.7" y="-9.3" width="3.4" height="4.5" fill="#fff" transform="translate(877.5 590) rotate(315)"/>
<circle cx="877.5" cy="590" r="6.4" fill="#fff"/>
<circle cx="877.5" cy="590" r="2.5" fill="#4b3f9e"/>
<rect x="902.2" y="536.3" width="28.8" height="29" fill="#4b3f9e" rx="5"/>
<rect x="-1.7" y="-9.3" width="3.4" height="4.5" fill="#fff" transform="translate(916.6 550.9) rotate(0)"/><rect x="-1.7" y="-9.3" width="3.4" height="4.5" fill="#fff" transform="translate(916.6 550.9) rotate(45)"/><rect x="-1.7" y="-9.3" width="3.4" height="4.5" fill="#fff" transform="translate(916.6 550.9) rotate(90)"/><rect x="-1.7" y="-9.3" width="3.4" height="4.5" fill="#fff" transform="translate(916.6 550.9) rotate(135)"/><rect x="-1.7" y="-9.3" width="3.4" height="4.5" fill="#fff" transform="translate(916.6 550.9) rotate(180)"/><rect x="-1.7" y="-9.3" width="3.4" height="4.5" fill="#fff" transform="translate(916.6 550.9) rotate(225)"/><rect x="-1.7" y="-9.3" width="3.4" height="4.5" fill="#fff" transform="translate(916.6 550.9) rotate(270)"/><rect x="-1.7" y="-9.3" width="3.4" height="4.5" fill="#fff" transform="translate(916.6 550.9) rotate(315)"/>
<circle cx="916.6" cy="550.9" r="6.4" fill="#fff"/>
<circle cx="916.6" cy="550.9" r="2.5" fill="#4b3f9e"/>
<rect x="902.2" y="575.4" width="28.8" height="29" fill="#4b3f9e" rx="5"/>
<rect x="-1.7" y="-9.3" width="3.4" height="4.5" fill="#fff" transform="translate(916.6 590) rotate(0)"/><rect x="-1.7" y="-9.3" width="3.4" height="4.5" fill="#fff" transform="translate(916.6 590) rotate(45)"/><rect x="-1.7" y="-9.3" width="3.4" height="4.5" fill="#fff" transform="translate(916.6 590) rotate(90)"/><rect x="-1.7" y="-9.3" width="3.4" height="4.5" fill="#fff" transform="translate(916.6 590) rotate(135)"/><rect x="-1.7" y="-9.3" width="3.4" height="4.5" fill="#fff" transform="translate(916.6 590) rotate(180)"/><rect x="-1.7" y="-9.3" width="3.4" height="4.5" fill="#fff" transform="translate(916.6 590) rotate(225)"/><rect x="-1.7" y="-9.3" width="3.4" height="4.5" fill="#fff" transform="translate(916.6 590) rotate(270)"/><rect x="-1.7" y="-9.3" width="3.4" height="4.5" fill="#fff" transform="translate(916.6 590) rotate(315)"/>
<circle cx="916.6" cy="590" r="6.4" fill="#fff"/>
<circle cx="916.6" cy="590" r="2.5" fill="#4b3f9e"/>
<text x="859" y="684.2" font-size="18.2" fill="#231f20" textLength="52" lengthAdjust="spacingAndGlyphs">Model</text>
<text x="839" y="705.5" font-size="18.2" fill="#231f20" textLength="91" lengthAdjust="spacingAndGlyphs">committee</text>
<g clip-path="url(#bigc)"><rect x="955" y="493" width="146" height="147" fill="#dcaaa9"/><g filter="url(#blurG)" fill="#6fcc1c"><path d="M950,540 C975,525 1010,532 1040,540 C1070,548 1090,548 1105,552 L1105,575 C1085,580 1070,583 1060,600 C1050,612 1035,605 1025,592 C1012,578 995,565 950,562 Z"/></g><ellipse cx="1068" cy="588" rx="26" ry="16" fill="#8ac63a" opacity="0.45" filter="url(#blurG)"/></g>
<circle cx="1028.3" cy="566.4" r="70.5" fill="none" stroke="#231f20" stroke-width="3"/>
<line x1="1034" y1="562" x2="1054" y2="515" stroke="#f7ec13" stroke-width="2.2" stroke-dasharray="6,3.5"/>
<line x1="1020" y1="575" x2="992" y2="592" stroke="#f7ec13" stroke-width="2.2" stroke-dasharray="6,3.5"/>
<line x1="1034" y1="578" x2="1034.5" y2="610" stroke="#f7ec13" stroke-width="2.2" stroke-dasharray="6,3.5"/>
<polygon points="1057.5,509 1049,518 1058.5,520" fill="#f7ec13"/>
<polygon points="987,595 992,586 997,596" fill="#f7ec13"/>
<polygon points="1034.6,615.5 1029.5,606 1039.5,606" fill="#f7ec13"/>
<circle cx="1031.5" cy="569.5" r="6.4" fill="#00a82d"/>
<circle cx="1057.6" cy="504" r="6" fill="#e00000" clip-path="url(#bigc2)"/>
<circle cx="982.7" cy="599" r="6" fill="#e00000"/>
<circle cx="1034.6" cy="625" r="6" fill="#e00000"/>
<circle cx="1028.3" cy="566.4" r="70.5" fill="none" stroke="#231f20" stroke-width="3"/>
<rect x="1114" y="484" width="23.6" height="164.8" fill="url(#unf)"/>
<line x1="1126" y1="636" x2="1126" y2="504" stroke="#000" stroke-width="1.8"/>
<polygon points="1126,496 1121.5,507 1130.5,507" fill="#000"/>
<text x="1151" y="484" font-size="18.2" fill="#231f20" textLength="174" lengthAdjust="spacingAndGlyphs" transform="rotate(90 1151 484)">Level of unfamiliarity</text>
<circle cx="974" cy="670.5" r="7" fill="#00a82d"/>
<circle cx="974" cy="702" r="7" fill="#e00000"/>
<text x="987.6" y="676.3" font-size="18.2" fill="#231f20" textLength="131.4" lengthAdjust="spacingAndGlyphs">In-model datum</text>
<text x="987.6" y="708" font-size="18.2" fill="#231f20" textLength="130.4" lengthAdjust="spacingAndGlyphs">Targeted datum</text>
<text x="0" y="770.4" font-size="26" fill="#000" font-weight="bold" stroke="#000" stroke-width="1.1">d</text>
<polygon points="169.39,885.32 70.61,967.69 64.95,842 168.42,766.82" fill="#fdfdfd" stroke="#dcdcdc" stroke-width="0.6"/>
<polygon points="169.39,885.32 327.29,930.69 333.35,808.1 168.42,766.82" fill="#fefefe" stroke="#dcdcdc" stroke-width="0.6"/>
<polygon points="169.39,885.32 327.29,930.69 237.98,1021.79 70.61,967.69" fill="#fdfdfd" stroke="#dcdcdc" stroke-width="0.6"/>
<path d="M172.4,886.18L73.79,968.72M167.57,886.83L325.66,932.36M167.57,886.83L166.52,768.2M169.37,883.04L70.5,965.29M172.4,886.18L171.56,767.61M169.37,883.04L327.41,928.34M208.99,896.7L112.45,981.21M145.29,905.41L305.58,952.84M145.29,905.41L143.25,785.11M169.15,855.45L69.19,936.1M208.99,896.7L209.72,777.16M169.15,855.45L328.82,899.84M246.43,907.46L152.09,994.03M122.1,924.75L284.63,974.2M122.1,924.75L118.99,802.74M168.92,827.31L67.85,906.28M246.43,907.46L248.8,786.94M168.92,827.31L330.25,870.74M284.75,918.47L192.74,1007.17M97.95,944.9L262.77,996.5M97.95,944.9L93.67,821.14M168.68,798.59L66.48,875.79M284.75,918.47L288.85,796.97M168.68,798.59L331.72,841.02M323.98,929.74L234.45,1020.65M72.76,965.9L239.93,1019.8M72.76,965.9L67.21,840.36M168.44,769.29L65.07,844.63M323.98,929.74L329.88,807.24M168.44,769.29L333.22,810.66" fill="none" stroke="#b6b6b6" stroke-width="0.95"/>
<polygon points="88.3,956.8 100,940 109.3,926.5 125.8,902.7 140.5,886.2 162.5,875.2 182.7,867.8 193.7,860.5 201,849.5 204.7,833 208.3,816.5 211.1,811 219.3,816.5 234,833 248.7,851.3 263.3,866 276.2,882.5 285.3,900.8 288.1,917.3 281.7,920 245,922.8 219.3,924.7 199.2,932 180.8,941.2 162.5,944.8 135,948.5 107.5,954 88.3,957.7" fill="#cfcfcf" opacity="0.8"/>
<g clip-path="url(#dinner)" opacity="0.6"><polygon points="218.58,914.53 211.06,914.78 210.98,906.28 219.08,913.06" fill="#989898" stroke="#f2f2f2" stroke-width="0.7"/><polygon points="262.63,895.48 267.37,892.22 275.04,899.58 274.33,901.22 266.21,904.04" fill="#b8b8b8" stroke="#f2f2f2" stroke-width="0.7"/><polygon points="205.54,886.36 204.92,882.25 204.61,881.98 195,889.06 193.18,895.2 205.59,891.42" fill="#949494" stroke="#f2f2f2" stroke-width="0.7"/><polygon points="155.45,938.33 156.21,930.56 152.26,929.56 150.56,936.45" fill="#b8b8b8" stroke="#f2f2f2" stroke-width="0.7"/><polygon points="233.55,832.52 245.04,820.42 205.37,826.63" fill="#aeaeae" stroke="#f2f2f2" stroke-width="0.7"/><polygon points="210.39,902.63 210.16,903.31 200.16,910.48 198.3,910.12 191.72,901.78 192.89,896.46" fill="#989898" stroke="#f2f2f2" stroke-width="0.7"/><polygon points="148.47,956.7 148.31,960.61 135.79,933.62 139.41,931.9 147.45,940.92" fill="#949494" stroke="#f2f2f2" stroke-width="0.7"/><polygon points="139.88,884.71 153.25,897.38 160.62,898.74 164.52,893.04 148,837.17 125.57,810.57 93.23,785.09 74.05,800.81" fill="#989898" stroke="#f2f2f2" stroke-width="0.7"/><polygon points="248.27,884.11 255.05,876.29 255.03,872.09 251.23,872.09 237.64,877.25 237.22,878.66 237.35,878.77" fill="#8e8e8e" stroke="#f2f2f2" stroke-width="0.7"/><polygon points="174.95,896.78 164.52,893.04 148,837.17 174.27,862.4 175.5,896.05" fill="#a4a4a4" stroke="#f2f2f2" stroke-width="0.7"/><polygon points="135.79,933.62 148.31,960.61 157.44,1097.94 136.59,1079.88 124.52,944.96 126.44,937.05 135.76,933.63" fill="#8e8e8e" stroke="#f2f2f2" stroke-width="0.7"/><polygon points="144.66,910.67 118.27,899.75 130.56,916.73 139.37,920.97 145.11,917.11" fill="#8e8e8e" stroke="#f2f2f2" stroke-width="0.7"/><polygon points="198.3,910.12 200.16,910.48 204.69,919.32 199.31,928.75 195.94,926.68 191.13,917.41" fill="#949494" stroke="#f2f2f2" stroke-width="0.7"/><polygon points="0.59,845.82 -116.29,900 -44.96,949.87 117.48,942.02" fill="#989898" stroke="#f2f2f2" stroke-width="0.7"/><polygon points="160.85,938.33 199.3,1044.85 176.37,933.57 161.57,931.21" fill="#949494" stroke="#f2f2f2" stroke-width="0.7"/><polygon points="212.35,920.16 209.39,917.97 204.69,919.32 199.31,928.75 254.45,1066.63 268.82,1051.13 215.87,924.45" fill="#8e8e8e" stroke="#f2f2f2" stroke-width="0.7"/><polygon points="16.98,837.86 0.59,845.82 117.48,942.02 124.52,944.96 126.44,937.05 125.43,935.36" fill="#b8b8b8" stroke="#f2f2f2" stroke-width="0.7"/><polygon points="218.98,915.91 212.35,920.16 215.87,924.45 219.37,916.5" fill="#989898" stroke="#f2f2f2" stroke-width="0.7"/><polygon points="135.76,933.63 126.44,937.05 125.43,935.36 130.36,919.19" fill="#949494" stroke="#f2f2f2" stroke-width="0.7"/><polygon points="179.7,913.17 191.13,917.41 198.3,910.12 191.72,901.78 180.1,910.62" fill="#8e8e8e" stroke="#f2f2f2" stroke-width="0.7"/><polygon points="275.04,899.58 406.82,842.43 378.44,824.36 274.28,884.39 267.37,892.22" fill="#aeaeae" stroke="#f2f2f2" stroke-width="0.7"/><polygon points="179.69,913.19 176.98,924.69 166.18,921.94 164.19,912.68" fill="#949494" stroke="#f2f2f2" stroke-width="0.7"/><polygon points="239.37,909.75 252.35,940.11 250.73,908.66 243.01,903.27" fill="#a4a4a4" stroke="#f2f2f2" stroke-width="0.7"/><polygon points="222.56,909.96 219.08,913.06 218.58,914.53 218.98,915.91 219.37,916.5 234.88,925.18 231.29,917.64" fill="#aeaeae" stroke="#f2f2f2" stroke-width="0.7"/><polygon points="161.5,911.17 164.19,912.68 179.69,913.19 179.7,913.17 180.1,910.62 174.75,900.81 163.09,904.66 161.13,910.7" fill="#aeaeae" stroke="#f2f2f2" stroke-width="0.7"/><polygon points="239.37,909.75 243.01,903.27 238.51,898.61 238.33,898.67 235.89,903.59" fill="#949494" stroke="#f2f2f2" stroke-width="0.7"/><polygon points="155.68,938.66 160.85,938.33 199.3,1044.85 216.52,1114.67 200,1139.83 157.44,1097.94 148.31,960.61 148.47,956.7" fill="#aeaeae" stroke="#f2f2f2" stroke-width="0.7"/><polygon points="222.52,879.69 223.28,879.66 229.17,881.96 228.61,888.69 225.44,893.3 216.68,890.96 215.82,886.58 216.67,883.12 219.16,881.38" fill="#949494" stroke="#f2f2f2" stroke-width="0.7"/><polygon points="148.17,908.22 139.88,884.71 153.25,897.38 152.67,907.96" fill="#b8b8b8" stroke="#f2f2f2" stroke-width="0.7"/><polygon points="179.7,913.17 191.13,917.41 195.94,926.68 177.76,928.99 176.98,924.69 179.69,913.19" fill="#989898" stroke="#f2f2f2" stroke-width="0.7"/><polygon points="219.37,916.5 234.88,925.18 254.29,951.72 272.79,1000.02 283.61,1036.29 268.82,1051.13 215.87,924.45" fill="#b8b8b8" stroke="#f2f2f2" stroke-width="0.7"/><polygon points="163.09,904.66 160.62,898.74 164.52,893.04 174.95,896.78 174.75,900.81" fill="#8e8e8e" stroke="#f2f2f2" stroke-width="0.7"/><polygon points="161.57,931.21 176.37,933.57 177.76,928.99 176.98,924.69 166.18,921.94 162.34,924.78 161.2,930.85" fill="#a4a4a4" stroke="#f2f2f2" stroke-width="0.7"/><polygon points="250.73,908.66 250.92,907.88 261.19,895.24 262.63,895.48 266.21,904.04 272.79,1000.02 254.29,951.72 252.35,940.11" fill="#b8b8b8" stroke="#f2f2f2" stroke-width="0.7"/><polygon points="195,889.06 186.71,867.67 200.13,870.13 204.61,881.98" fill="#aeaeae" stroke="#f2f2f2" stroke-width="0.7"/><polygon points="135.79,933.62 139.41,931.9 141.15,929.5 139.37,920.97 130.56,916.73 130.36,919.19 135.76,933.63" fill="#989898" stroke="#f2f2f2" stroke-width="0.7"/><polygon points="222.53,906.62 230.89,905.75 231.29,917.64 222.56,909.96" fill="#949494" stroke="#f2f2f2" stroke-width="0.7"/><polygon points="243.76,895.93 252.39,890.06 248.27,884.11 237.35,878.77 241.21,896.38" fill="#8e8e8e" stroke="#f2f2f2" stroke-width="0.7"/><polygon points="219.05,863.6 227.03,857.32 227.97,860.87 223.45,874.87" fill="#989898" stroke="#f2f2f2" stroke-width="0.7"/><polygon points="218.98,915.91 218.58,914.53 211.06,914.78 209.39,917.97 212.35,920.16" fill="#a4a4a4" stroke="#f2f2f2" stroke-width="0.7"/><polygon points="218.8,901.41 222.53,906.62 222.56,909.96 219.08,913.06 210.98,906.28 210.16,903.31 210.39,902.63 211.55,901.41 213.46,900.94" fill="#aeaeae" stroke="#f2f2f2" stroke-width="0.7"/><polygon points="192.76,895.77 187.51,893.29 175.5,896.05 174.95,896.78 174.75,900.81 180.1,910.62 191.72,901.78 192.89,896.46" fill="#8e8e8e" stroke="#f2f2f2" stroke-width="0.7"/><polygon points="144.66,910.67 118.27,899.75 38,826.14 74.05,800.81 139.88,884.71 148.17,908.22" fill="#a4a4a4" stroke="#f2f2f2" stroke-width="0.7"/><polygon points="212.21,889.38 215.82,886.58 216.68,890.96 213.46,900.94 211.55,901.41 208.66,894.54" fill="#aeaeae" stroke="#f2f2f2" stroke-width="0.7"/><polygon points="147.45,940.92 139.41,931.9 141.15,929.5 151.04,928.31 152.26,929.56 150.56,936.45" fill="#a4a4a4" stroke="#f2f2f2" stroke-width="0.7"/><polygon points="38,826.14 16.98,837.86 125.43,935.36 130.36,919.19 130.56,916.73 118.27,899.75" fill="#989898" stroke="#f2f2f2" stroke-width="0.7"/><polygon points="205.37,826.63 181.5,827.7 165.58,824.92 125.57,810.57 93.23,785.09 200,599.81 307.78,763.02 245.04,820.42" fill="#989898" stroke="#f2f2f2" stroke-width="0.7"/><polygon points="202.62,868.81 201.46,869.5 200.13,870.13 186.71,867.67 175.12,862.94 174.27,862.4 148,837.17 125.57,810.57 165.58,824.92 198.99,845.64 207.81,852.84 206.03,865.18" fill="#949494" stroke="#f2f2f2" stroke-width="0.7"/><polygon points="251.23,872.09 243.77,862.7 244.43,859.85 279.6,837.72 261.72,863.93 255.03,872.09" fill="#8e8e8e" stroke="#f2f2f2" stroke-width="0.7"/><polygon points="243.76,895.93 249.48,903.26 252.64,890.15 252.39,890.06" fill="#aeaeae" stroke="#f2f2f2" stroke-width="0.7"/><polygon points="212.21,889.38 215.82,886.58 216.67,883.12 204.92,882.25 205.54,886.36" fill="#989898" stroke="#f2f2f2" stroke-width="0.7"/><polygon points="206.03,865.18 207.81,852.84 210.95,852.27 213.91,860.27 213.36,863.86" fill="#b8b8b8" stroke="#f2f2f2" stroke-width="0.7"/><polygon points="233.55,832.52 226.87,840.3 181.5,827.7 205.37,826.63" fill="#8e8e8e" stroke="#f2f2f2" stroke-width="0.7"/><polygon points="210.95,852.27 207.81,852.84 198.99,845.64 226.2,842.63 225.24,847.57 217.79,850.5" fill="#aeaeae" stroke="#f2f2f2" stroke-width="0.7"/><polygon points="155.45,938.33 150.56,936.45 147.45,940.92 148.47,956.7 155.68,938.66" fill="#949494" stroke="#f2f2f2" stroke-width="0.7"/><polygon points="202.62,868.81 201.46,869.5 219.16,881.38 222.52,879.69 216.74,873.32" fill="#b8b8b8" stroke="#f2f2f2" stroke-width="0.7"/><polygon points="218.8,901.41 224.05,897.28 225.44,893.3 216.68,890.96 213.46,900.94" fill="#989898" stroke="#f2f2f2" stroke-width="0.7"/><polygon points="279.6,837.72 332.51,789.21 307.78,763.02 245.04,820.42 233.55,832.52 226.87,840.3 226.2,842.63 225.24,847.57 227.61,855.25 244.43,859.85" fill="#a4a4a4" stroke="#f2f2f2" stroke-width="0.7"/><polygon points="241.21,896.38 238.51,898.61 238.33,898.67 236.14,897.28 228.61,888.69 229.17,881.96 237.22,878.66 237.35,878.77" fill="#8e8e8e" stroke="#f2f2f2" stroke-width="0.7"/><polygon points="254.61,890.55 261.19,895.24 262.63,895.48 267.37,892.22 274.28,884.39 260.68,880.91 260.38,880.97" fill="#aeaeae" stroke="#f2f2f2" stroke-width="0.7"/><polygon points="187.51,893.29 175.12,862.94 174.27,862.4 175.5,896.05" fill="#b8b8b8" stroke="#f2f2f2" stroke-width="0.7"/><polygon points="225.44,893.3 228.61,888.69 236.14,897.28 227.84,899.67 224.05,897.28" fill="#989898" stroke="#f2f2f2" stroke-width="0.7"/><polygon points="151.77,922.41 151.04,928.31 152.26,929.56 156.21,930.56 161.2,930.85 162.34,924.78 158.34,920.68" fill="#8e8e8e" stroke="#f2f2f2" stroke-width="0.7"/><polygon points="223.45,874.87 227.97,860.87 237.65,876.03 237.64,877.25 237.22,878.66 229.17,881.96 223.28,879.66" fill="#b8b8b8" stroke="#f2f2f2" stroke-width="0.7"/><polygon points="150.13,919.37 156.65,910.44 161.13,910.7 161.5,911.17 158.34,920.68 151.77,922.41" fill="#989898" stroke="#f2f2f2" stroke-width="0.7"/><polygon points="195,889.06 186.71,867.67 175.12,862.94 187.51,893.29 192.76,895.77 193.18,895.2" fill="#a4a4a4" stroke="#f2f2f2" stroke-width="0.7"/><polygon points="150.13,919.37 145.11,917.11 139.37,920.97 141.15,929.5 151.04,928.31 151.77,922.41" fill="#a4a4a4" stroke="#f2f2f2" stroke-width="0.7"/><polygon points="243.76,895.93 249.48,903.26 250.92,907.88 250.73,908.66 243.01,903.27 238.51,898.61 241.21,896.38" fill="#8e8e8e" stroke="#f2f2f2" stroke-width="0.7"/><polygon points="155.45,938.33 156.21,930.56 161.2,930.85 161.57,931.21 160.85,938.33 155.68,938.66" fill="#8e8e8e" stroke="#f2f2f2" stroke-width="0.7"/><polygon points="211.06,914.78 209.39,917.97 204.69,919.32 200.16,910.48 210.16,903.31 210.98,906.28" fill="#aeaeae" stroke="#f2f2f2" stroke-width="0.7"/><polygon points="201.46,869.5 200.13,870.13 204.61,881.98 204.92,882.25 216.67,883.12 219.16,881.38" fill="#a4a4a4" stroke="#f2f2f2" stroke-width="0.7"/><polygon points="208.66,894.54 211.55,901.41 210.39,902.63 192.89,896.46 192.76,895.77 193.18,895.2 205.59,891.42" fill="#aeaeae" stroke="#f2f2f2" stroke-width="0.7"/><polygon points="150.13,919.37 145.11,917.11 144.66,910.67 148.17,908.22 152.67,907.96 156.65,910.44" fill="#949494" stroke="#f2f2f2" stroke-width="0.7"/><polygon points="235.89,903.59 231.14,905.43 227.84,899.67 236.14,897.28 238.33,898.67" fill="#8e8e8e" stroke="#f2f2f2" stroke-width="0.7"/><polygon points="226.87,840.3 226.2,842.63 198.99,845.64 165.58,824.92 181.5,827.7" fill="#a4a4a4" stroke="#f2f2f2" stroke-width="0.7"/><polygon points="255.03,872.09 261.72,863.93 261.2,879.53 260.68,880.91 260.38,880.97 255.05,876.29" fill="#b8b8b8" stroke="#f2f2f2" stroke-width="0.7"/><polygon points="158.34,920.68 162.34,924.78 166.18,921.94 164.19,912.68 161.5,911.17" fill="#989898" stroke="#f2f2f2" stroke-width="0.7"/><polygon points="266.21,904.04 274.33,901.22 335.77,1002.63 283.61,1036.29 272.79,1000.02" fill="#949494" stroke="#f2f2f2" stroke-width="0.7"/><polygon points="274.33,901.22 335.77,1002.63 501.39,900 406.82,842.43 275.04,899.58" fill="#8e8e8e" stroke="#f2f2f2" stroke-width="0.7"/><polygon points="217.28,864.22 219.05,863.6 227.03,857.32 227.61,855.25 225.24,847.57 217.79,850.5 213.91,860.27 213.36,863.86" fill="#aeaeae" stroke="#f2f2f2" stroke-width="0.7"/><polygon points="213.91,860.27 217.79,850.5 210.95,852.27" fill="#989898" stroke="#f2f2f2" stroke-width="0.7"/><polygon points="252.64,890.15 249.48,903.26 250.92,907.88 261.19,895.24 254.61,890.55" fill="#b8b8b8" stroke="#f2f2f2" stroke-width="0.7"/><polygon points="251.23,872.09 243.77,862.7 237.65,876.03 237.64,877.25" fill="#b8b8b8" stroke="#f2f2f2" stroke-width="0.7"/><polygon points="252.39,890.06 252.64,890.15 254.61,890.55 260.38,880.97 255.05,876.29 248.27,884.11" fill="#8e8e8e" stroke="#f2f2f2" stroke-width="0.7"/><polygon points="212.21,889.38 205.54,886.36 205.59,891.42 208.66,894.54" fill="#b8b8b8" stroke="#f2f2f2" stroke-width="0.7"/><polygon points="243.77,862.7 237.65,876.03 227.97,860.87 227.03,857.32 227.61,855.25 244.43,859.85" fill="#8e8e8e" stroke="#f2f2f2" stroke-width="0.7"/><polygon points="261.72,863.93 261.2,879.53 334.81,791.01 332.51,789.21 279.6,837.72" fill="#b8b8b8" stroke="#f2f2f2" stroke-width="0.7"/><polygon points="176.37,933.57 199.3,1044.85 216.52,1114.67 254.45,1066.63 199.31,928.75 195.94,926.68 177.76,928.99" fill="#aeaeae" stroke="#f2f2f2" stroke-width="0.7"/><polygon points="202.62,868.81 216.74,873.32 217.28,864.22 213.36,863.86 206.03,865.18" fill="#a4a4a4" stroke="#f2f2f2" stroke-width="0.7"/><polygon points="218.8,901.41 222.53,906.62 230.89,905.75 231.14,905.43 227.84,899.67 224.05,897.28" fill="#8e8e8e" stroke="#f2f2f2" stroke-width="0.7"/><polygon points="161.13,910.7 163.09,904.66 160.62,898.74 153.25,897.38 152.67,907.96 156.65,910.44" fill="#aeaeae" stroke="#f2f2f2" stroke-width="0.7"/><polygon points="239.37,909.75 252.35,940.11 254.29,951.72 234.88,925.18 231.29,917.64 230.89,905.75 231.14,905.43 235.89,903.59" fill="#949494" stroke="#f2f2f2" stroke-width="0.7"/><polygon points="216.74,873.32 222.52,879.69 223.28,879.66 223.45,874.87 219.05,863.6 217.28,864.22" fill="#989898" stroke="#f2f2f2" stroke-width="0.7"/><polygon points="260.68,880.91 274.28,884.39 378.44,824.36 334.81,791.01 261.2,879.53" fill="#a4a4a4" stroke="#f2f2f2" stroke-width="0.7"/><polygon points="124.52,944.96 117.48,942.02 -44.96,949.87 136.59,1079.88" fill="#8e8e8e" stroke="#f2f2f2" stroke-width="0.7"/></g>
<g fill="#f43c3c" opacity="0.78"><circle cx="126.53" cy="941.92" r="2.1"/><circle cx="251.29" cy="870.42" r="2.1"/><circle cx="150.7" cy="939.5" r="2.1"/><circle cx="214.6" cy="833.86" r="2.1"/><circle cx="212.25" cy="896.5" r="2.1"/><circle cx="130.49" cy="914.47" r="2.1"/><circle cx="223.23" cy="833.52" r="2.1"/><circle cx="188.78" cy="877.85" r="2.1"/><circle cx="255.54" cy="903.86" r="2.1"/><circle cx="229.8" cy="859.47" r="2.1"/><circle cx="196.3" cy="914.45" r="2.1"/><circle cx="243.99" cy="861.13" r="2.1"/><circle cx="238.39" cy="849.71" r="2.1"/><circle cx="238.64" cy="875.94" r="2.1"/><circle cx="188.22" cy="883.52" r="2.1"/><circle cx="212.14" cy="895.21" r="2.1"/><circle cx="224.99" cy="893.77" r="2.1"/><circle cx="195.91" cy="879.16" r="2.1"/><circle cx="201.58" cy="904.54" r="2.1"/><circle cx="184.61" cy="917.54" r="2.1"/><circle cx="241.95" cy="893.83" r="2.1"/><circle cx="120.63" cy="940.89" r="2.1"/><circle cx="212.22" cy="887.3" r="2.1"/><circle cx="244.07" cy="868.76" r="2.1"/><circle cx="276.52" cy="901.93" r="2.1"/><circle cx="171.9" cy="912.61" r="2.1"/><circle cx="224.9" cy="855.07" r="2.1"/><circle cx="162.39" cy="924.98" r="2.1"/><circle cx="262.4" cy="904.24" r="2.1"/><circle cx="246.14" cy="918.82" r="2.1"/><circle cx="118.79" cy="939.37" r="2.1"/><circle cx="205.88" cy="895.95" r="2.1"/><circle cx="218.27" cy="885.15" r="2.1"/><circle cx="190.53" cy="891.89" r="2.1"/><circle cx="119.94" cy="931.18" r="2.1"/><circle cx="203.24" cy="887.49" r="2.1"/><circle cx="172.99" cy="932.85" r="2.1"/><circle cx="263.14" cy="894.45" r="2.1"/><circle cx="170.08" cy="913.9" r="2.1"/><circle cx="206.77" cy="871.11" r="2.1"/><circle cx="162.13" cy="915.12" r="2.1"/><circle cx="137.4" cy="931.75" r="2.1"/><circle cx="202.19" cy="889.77" r="2.1"/><circle cx="169.66" cy="921.1" r="2.1"/><circle cx="135.6" cy="931.38" r="2.1"/><circle cx="279.85" cy="914.56" r="2.1"/><circle cx="148.52" cy="938.15" r="2.1"/><circle cx="236.41" cy="877.75" r="2.1"/><circle cx="270.96" cy="907.45" r="2.1"/><circle cx="281.83" cy="912.63" r="2.1"/><circle cx="130.07" cy="933.37" r="2.1"/><circle cx="218.72" cy="914.66" r="2.1"/><circle cx="152.98" cy="908.48" r="2.1"/><circle cx="130.81" cy="941.64" r="2.1"/><circle cx="202.94" cy="869.95" r="2.1"/><circle cx="136.84" cy="925.07" r="2.1"/><circle cx="129.92" cy="920.62" r="2.1"/><circle cx="118.88" cy="942.18" r="2.1"/><circle cx="139.31" cy="919.67" r="2.1"/><circle cx="274.23" cy="892.18" r="2.1"/><circle cx="253.53" cy="875.03" r="2.1"/><circle cx="241.44" cy="879.02" r="2.1"/><circle cx="222" cy="894.84" r="2.1"/><circle cx="208.92" cy="840.89" r="2.1"/><circle cx="179.63" cy="908.92" r="2.1"/><circle cx="181.53" cy="932.35" r="2.1"/><circle cx="217.11" cy="915.08" r="2.1"/><circle cx="219.73" cy="912.15" r="2.1"/><circle cx="157" cy="932.1" r="2.1"/><circle cx="262.95" cy="886.72" r="2.1"/><circle cx="265.44" cy="885.37" r="2.1"/><circle cx="183.48" cy="928.69" r="2.1"/><circle cx="146.14" cy="907.97" r="2.1"/><circle cx="242.44" cy="886.74" r="2.1"/><circle cx="126.85" cy="933.43" r="2.1"/><circle cx="205.66" cy="848.94" r="2.1"/><circle cx="208.21" cy="891.63" r="2.1"/><circle cx="254.88" cy="891.18" r="2.1"/><circle cx="225.78" cy="898.38" r="2.1"/><circle cx="214.61" cy="825.19" r="2.1"/><circle cx="195.87" cy="921.53" r="2.1"/><circle cx="165.32" cy="921.23" r="2.1"/><circle cx="134.42" cy="917.75" r="2.1"/><circle cx="229.26" cy="891.33" r="2.1"/><circle cx="253.03" cy="891.58" r="2.1"/><circle cx="185.69" cy="904.96" r="2.1"/><circle cx="213.15" cy="902.32" r="2.1"/><circle cx="199.03" cy="871.32" r="2.1"/><circle cx="207.14" cy="883.88" r="2.1"/><circle cx="228.22" cy="906.57" r="2.1"/><circle cx="232.3" cy="891.29" r="2.1"/><circle cx="200.78" cy="924.44" r="2.1"/><circle cx="274.29" cy="903.09" r="2.1"/><circle cx="157.93" cy="929.76" r="2.1"/><circle cx="162.13" cy="900.12" r="2.1"/><circle cx="160.69" cy="893.97" r="2.1"/><circle cx="182.48" cy="881.43" r="2.1"/><circle cx="181.79" cy="887.47" r="2.1"/><circle cx="214.2" cy="838.27" r="2.1"/><circle cx="180.3" cy="925.37" r="2.1"/><circle cx="196.38" cy="877.22" r="2.1"/><circle cx="248.97" cy="904.42" r="2.1"/><circle cx="242.43" cy="884.77" r="2.1"/><circle cx="200.78" cy="899.31" r="2.1"/><circle cx="225.65" cy="855.32" r="2.1"/><circle cx="148.55" cy="894.42" r="2.1"/><circle cx="222.49" cy="863" r="2.1"/><circle cx="185.34" cy="921.99" r="2.1"/><circle cx="221.16" cy="836.23" r="2.1"/><circle cx="138.97" cy="930.12" r="2.1"/><circle cx="159.19" cy="926.7" r="2.1"/><circle cx="218.5" cy="853.06" r="2.1"/><circle cx="202.86" cy="918.92" r="2.1"/><circle cx="217.49" cy="846.28" r="2.1"/><circle cx="210.48" cy="873.26" r="2.1"/><circle cx="273.18" cy="915.05" r="2.1"/><circle cx="149.2" cy="898.11" r="2.1"/><circle cx="232.32" cy="846.44" r="2.1"/><circle cx="187.12" cy="902.69" r="2.1"/><circle cx="246.94" cy="876.56" r="2.1"/></g>
<path d="M63.75,842L69.41,968.29M70.01,968.89L237.48,1023.39M239.18,1022.59L328.89,931.29M69.3,965.29l-3.5,1.6M73.29,970.12l-2.6,3M327.06,933.16l3.6,0.9M67.99,936.1l-3.5,1.6M111.95,982.61l-2.6,3M306.98,953.64l3.6,0.9M66.65,906.28l-3.5,1.6M151.59,995.43l-2.6,3M286.03,975l3.6,0.9M65.28,875.79l-3.5,1.6M192.24,1008.57l-2.6,3M264.17,997.3l3.6,0.9M63.87,844.63l-3.5,1.6M233.95,1022.05l-2.6,3M241.33,1020.6l3.6,0.9" fill="none" stroke="#1a1a1a" stroke-width="1"/>
<text x="48.75" y="854.4" font-size="14.5" fill="#231f20" text-anchor="middle">1</text>
<text x="41.25" y="883.5" font-size="14.5" fill="#231f20" text-anchor="middle" textLength="29.5" lengthAdjust="spacingAndGlyphs">0.75</text>
<text x="46.5" y="915.6" font-size="14.5" fill="#231f20" text-anchor="middle" textLength="22" lengthAdjust="spacingAndGlyphs">0.5</text>
<text x="44.25" y="948" font-size="14.5" fill="#231f20" text-anchor="middle" textLength="29.5" lengthAdjust="spacingAndGlyphs">0.25</text>
<text x="55.5" y="977.4" font-size="14.5" fill="#231f20" text-anchor="middle">0</text>
<text x="63" y="991.5" font-size="14.5" fill="#231f20" text-anchor="middle">0</text>
<text x="95.25" y="1005" font-size="14.5" fill="#231f20" text-anchor="middle" textLength="29.5" lengthAdjust="spacingAndGlyphs">0.25</text>
<text x="138.75" y="1017" font-size="14.5" fill="#231f20" text-anchor="middle" textLength="20.5" lengthAdjust="spacingAndGlyphs">0.5</text>
<text x="183.75" y="1032" font-size="14.5" fill="#231f20" text-anchor="middle" textLength="29.5" lengthAdjust="spacingAndGlyphs">07.5</text>
<text x="225.75" y="1042.5" font-size="14.5" fill="#231f20" text-anchor="middle">1</text>
<text x="339.75" y="945" font-size="14.5" fill="#231f20" text-anchor="middle">0</text>
<text x="334.5" y="966" font-size="14.5" fill="#231f20" text-anchor="middle" textLength="31" lengthAdjust="spacingAndGlyphs">0.25</text>
<text x="309.75" y="990" font-size="14.5" fill="#231f20" text-anchor="middle" textLength="20.5" lengthAdjust="spacingAndGlyphs">0.5</text>
<text x="288.75" y="1014" font-size="14.5" fill="#231f20" text-anchor="middle" textLength="29.5" lengthAdjust="spacingAndGlyphs">07.5</text>
<text x="254.7" y="1036.5" font-size="14.5" fill="#231f20" text-anchor="middle">1</text>
<text x="19.5" y="949.5" font-size="18" fill="#231f20" textLength="67.5" lengthAdjust="spacingAndGlyphs" transform="rotate(-90 19.5 949.5)">Glycerol</text>
<text x="134" y="1047.5" font-size="18" fill="#231f20" text-anchor="middle" transform="rotate(21 134 1047.5)">CNF</text>
<text x="333" y="1010.5" font-size="18" fill="#231f20" text-anchor="middle" transform="rotate(-47 333 1010.5)">MMT</text>
<text x="373" y="768.3" font-size="26" fill="#000" font-weight="bold" stroke="#000" stroke-width="1.1">e</text>
<rect x="432.2" y="767.8" width="305" height="240.6" fill="none" stroke="#444444" stroke-width="1.2"/>
<path d="M432.2,984.3h-4.4M432.2,936.27h-4.4M432.2,888.25h-4.4M432.2,840.22h-4.4M432.2,792.2h-4.4M432.2,1008.31h-2.6M432.2,960.29h-2.6M432.2,912.26h-2.6M432.2,864.24h-2.6M432.2,816.21h-2.6M432.2,768.19h-2.6M452.53,1008.4v4.4M493.2,1008.4v4.4M533.87,1008.4v4.4M574.53,1008.4v4.4M615.2,1008.4v4.4M655.87,1008.4v4.4M696.53,1008.4v4.4M737.2,1008.4v4.4M432.2,1008.4v2.6M472.87,1008.4v2.6M513.53,1008.4v2.6M554.2,1008.4v2.6M594.87,1008.4v2.6M635.53,1008.4v2.6M676.2,1008.4v2.6M716.87,1008.4v2.6" fill="none" stroke="#444444" stroke-width="1.1"/>
<text x="421" y="989.2" font-size="16" fill="#231f20" text-anchor="end" textLength="18.5" lengthAdjust="spacingAndGlyphs">20</text>
<text x="421" y="941.17" font-size="16" fill="#231f20" text-anchor="end" textLength="18.5" lengthAdjust="spacingAndGlyphs">30</text>
<text x="421" y="893.15" font-size="16" fill="#231f20" text-anchor="end" textLength="18.5" lengthAdjust="spacingAndGlyphs">40</text>
<text x="421" y="845.12" font-size="16" fill="#231f20" text-anchor="end" textLength="18.5" lengthAdjust="spacingAndGlyphs">50</text>
<text x="421" y="797.1" font-size="16" fill="#231f20" text-anchor="end" textLength="18.5" lengthAdjust="spacingAndGlyphs">60</text>
<text x="452.53" y="1032.2" font-size="16" fill="#231f20" text-anchor="middle" textLength="18.6" lengthAdjust="spacingAndGlyphs">10</text>
<text x="493.2" y="1032.2" font-size="16" fill="#231f20" text-anchor="middle" textLength="18.6" lengthAdjust="spacingAndGlyphs">30</text>
<text x="533.87" y="1032.2" font-size="16" fill="#231f20" text-anchor="middle" textLength="18.6" lengthAdjust="spacingAndGlyphs">50</text>
<text x="574.53" y="1032.2" font-size="16" fill="#231f20" text-anchor="middle" textLength="18.6" lengthAdjust="spacingAndGlyphs">70</text>
<text x="615.2" y="1032.2" font-size="16" fill="#231f20" text-anchor="middle" textLength="18.6" lengthAdjust="spacingAndGlyphs">90</text>
<text x="655.87" y="1032.2" font-size="16" fill="#231f20" text-anchor="middle" textLength="27.9" lengthAdjust="spacingAndGlyphs">110</text>
<text x="696.53" y="1032.2" font-size="16" fill="#231f20" text-anchor="middle" textLength="27.9" lengthAdjust="spacingAndGlyphs">130</text>
<text x="737.2" y="1032.2" font-size="16" fill="#231f20" text-anchor="middle" textLength="27.9" lengthAdjust="spacingAndGlyphs">150</text>
<text x="387.7" y="920.8" font-size="18" fill="#231f20" textLength="65.5" lengthAdjust="spacingAndGlyphs" transform="rotate(-90 387.7 920.8)">MRE (%)</text>
<text x="507" y="1060.8" font-size="18" fill="#231f20" textLength="154.7" lengthAdjust="spacingAndGlyphs">Number of data (–)</text>
<path d="M452.53,872.88L472.87,869.04L493.2,877.68L513.53,889.69L533.87,904.1L554.2,874.32L574.53,891.13L594.87,871.44L615.2,874.32L635.53,881.05L655.87,888.25L676.2,893.05L696.53,895.93L716.87,895.93" fill="none" stroke="#000000" stroke-width="1.2"/>
<rect x="447.93" y="868.28" width="9.2" height="9.2" fill="#fff" stroke="#000000" stroke-width="1.6"/><rect x="468.27" y="864.44" width="9.2" height="9.2" fill="#fff" stroke="#000000" stroke-width="1.6"/><rect x="488.6" y="873.08" width="9.2" height="9.2" fill="#fff" stroke="#000000" stroke-width="1.6"/><rect x="508.93" y="885.09" width="9.2" height="9.2" fill="#fff" stroke="#000000" stroke-width="1.6"/><rect x="529.27" y="899.5" width="9.2" height="9.2" fill="#fff" stroke="#000000" stroke-width="1.6"/><rect x="549.6" y="869.72" width="9.2" height="9.2" fill="#fff" stroke="#000000" stroke-width="1.6"/><rect x="569.93" y="886.53" width="9.2" height="9.2" fill="#fff" stroke="#000000" stroke-width="1.6"/><rect x="590.27" y="866.84" width="9.2" height="9.2" fill="#fff" stroke="#000000" stroke-width="1.6"/><rect x="610.6" y="869.72" width="9.2" height="9.2" fill="#fff" stroke="#000000" stroke-width="1.6"/><rect x="630.93" y="876.45" width="9.2" height="9.2" fill="#fff" stroke="#000000" stroke-width="1.6"/><rect x="651.27" y="883.65" width="9.2" height="9.2" fill="#fff" stroke="#000000" stroke-width="1.6"/><rect x="671.6" y="888.45" width="9.2" height="9.2" fill="#fff" stroke="#000000" stroke-width="1.6"/><rect x="691.93" y="891.33" width="9.2" height="9.2" fill="#fff" stroke="#000000" stroke-width="1.6"/><rect x="712.27" y="891.33" width="9.2" height="9.2" fill="#fff" stroke="#000000" stroke-width="1.6"/>
<path d="M452.53,863.76L472.87,891.13L493.2,873.36L513.53,905.06L533.87,914.66L554.2,925.23L574.53,898.82L594.87,906.98L615.2,916.1L635.53,906.02L655.87,909.38L676.2,894.49L696.53,898.82L716.87,900.74" fill="none" stroke="#ff0000" stroke-width="1.2"/>
<circle cx="452.53" cy="863.76" r="5.2" fill="#fff" stroke="#ff0000" stroke-width="1.6"/><circle cx="472.87" cy="891.13" r="5.2" fill="#fff" stroke="#ff0000" stroke-width="1.6"/><circle cx="493.2" cy="873.36" r="5.2" fill="#fff" stroke="#ff0000" stroke-width="1.6"/><circle cx="513.53" cy="905.06" r="5.2" fill="#fff" stroke="#ff0000" stroke-width="1.6"/><circle cx="533.87" cy="914.66" r="5.2" fill="#fff" stroke="#ff0000" stroke-width="1.6"/><circle cx="554.2" cy="925.23" r="5.2" fill="#fff" stroke="#ff0000" stroke-width="1.6"/><circle cx="574.53" cy="898.82" r="5.2" fill="#fff" stroke="#ff0000" stroke-width="1.6"/><circle cx="594.87" cy="906.98" r="5.2" fill="#fff" stroke="#ff0000" stroke-width="1.6"/><circle cx="615.2" cy="916.1" r="5.2" fill="#fff" stroke="#ff0000" stroke-width="1.6"/><circle cx="635.53" cy="906.02" r="5.2" fill="#fff" stroke="#ff0000" stroke-width="1.6"/><circle cx="655.87" cy="909.38" r="5.2" fill="#fff" stroke="#ff0000" stroke-width="1.6"/><circle cx="676.2" cy="894.49" r="5.2" fill="#fff" stroke="#ff0000" stroke-width="1.6"/><circle cx="696.53" cy="898.82" r="5.2" fill="#fff" stroke="#ff0000" stroke-width="1.6"/><circle cx="716.87" cy="900.74" r="5.2" fill="#fff" stroke="#ff0000" stroke-width="1.6"/>
<path d="M452.53,900.74L472.87,923.79L493.2,914.66L513.53,941.56L533.87,938.2L554.2,926.67L574.53,936.27L594.87,931.47L615.2,932.91L635.53,930.51L655.87,927.63L676.2,930.51L696.53,933.87L716.87,933.87" fill="none" stroke="#0000ff" stroke-width="1.2"/>
<polygon points="452.53,894.3 458.41,904.73 446.65,904.73" fill="#fff" stroke="#0000ff" stroke-width="1.6" stroke-linejoin="miter"/><polygon points="472.87,917.35 478.75,927.78 466.99,927.78" fill="#fff" stroke="#0000ff" stroke-width="1.6" stroke-linejoin="miter"/><polygon points="493.2,908.22 499.08,918.66 487.32,918.66" fill="#fff" stroke="#0000ff" stroke-width="1.6" stroke-linejoin="miter"/><polygon points="513.53,935.12 519.41,945.55 507.65,945.55" fill="#fff" stroke="#0000ff" stroke-width="1.6" stroke-linejoin="miter"/><polygon points="533.87,931.76 539.75,942.19 527.99,942.19" fill="#fff" stroke="#0000ff" stroke-width="1.6" stroke-linejoin="miter"/><polygon points="554.2,920.23 560.08,930.66 548.32,930.66" fill="#fff" stroke="#0000ff" stroke-width="1.6" stroke-linejoin="miter"/><polygon points="574.53,929.83 580.41,940.27 568.65,940.27" fill="#fff" stroke="#0000ff" stroke-width="1.6" stroke-linejoin="miter"/><polygon points="594.87,925.03 600.75,935.47 588.99,935.47" fill="#fff" stroke="#0000ff" stroke-width="1.6" stroke-linejoin="miter"/><polygon points="615.2,926.47 621.08,936.91 609.32,936.91" fill="#fff" stroke="#0000ff" stroke-width="1.6" stroke-linejoin="miter"/><polygon points="635.53,924.07 641.41,934.5 629.65,934.5" fill="#fff" stroke="#0000ff" stroke-width="1.6" stroke-linejoin="miter"/><polygon points="655.87,921.19 661.75,931.62 649.99,931.62" fill="#fff" stroke="#0000ff" stroke-width="1.6" stroke-linejoin="miter"/><polygon points="676.2,924.07 682.08,934.5 670.32,934.5" fill="#fff" stroke="#0000ff" stroke-width="1.6" stroke-linejoin="miter"/><polygon points="696.53,927.43 702.41,937.87 690.65,937.87" fill="#fff" stroke="#0000ff" stroke-width="1.6" stroke-linejoin="miter"/><polygon points="716.87,927.43 722.75,937.87 710.99,937.87" fill="#fff" stroke="#0000ff" stroke-width="1.6" stroke-linejoin="miter"/>
<path d="M452.53,896.41L472.87,923.79L493.2,906.02L513.53,921.39L533.87,921.39L554.2,914.66L574.53,916.58L594.87,930.51L615.2,928.59L635.53,918.99L655.87,921.87L676.2,918.51L696.53,923.79L716.87,923.79" fill="none" stroke="#ff00ff" stroke-width="1.2"/>
<polygon points="452.53,902.85 458.41,892.42 446.65,892.42" fill="#fff" stroke="#ff00ff" stroke-width="1.6"/><polygon points="472.87,930.23 478.75,919.8 466.99,919.8" fill="#fff" stroke="#ff00ff" stroke-width="1.6"/><polygon points="493.2,912.46 499.08,902.03 487.32,902.03" fill="#fff" stroke="#ff00ff" stroke-width="1.6"/><polygon points="513.53,927.83 519.41,917.39 507.65,917.39" fill="#fff" stroke="#ff00ff" stroke-width="1.6"/><polygon points="533.87,927.83 539.75,917.39 527.99,917.39" fill="#fff" stroke="#ff00ff" stroke-width="1.6"/><polygon points="554.2,921.1 560.08,910.67 548.32,910.67" fill="#fff" stroke="#ff00ff" stroke-width="1.6"/><polygon points="574.53,923.02 580.41,912.59 568.65,912.59" fill="#fff" stroke="#ff00ff" stroke-width="1.6"/><polygon points="594.87,936.95 600.75,926.52 588.99,926.52" fill="#fff" stroke="#ff00ff" stroke-width="1.6"/><polygon points="615.2,935.03 621.08,924.6 609.32,924.6" fill="#fff" stroke="#ff00ff" stroke-width="1.6"/><polygon points="635.53,925.43 641.41,914.99 629.65,914.99" fill="#fff" stroke="#ff00ff" stroke-width="1.6"/><polygon points="655.87,928.31 661.75,917.87 649.99,917.87" fill="#fff" stroke="#ff00ff" stroke-width="1.6"/><polygon points="676.2,924.95 682.08,914.51 670.32,914.51" fill="#fff" stroke="#ff00ff" stroke-width="1.6"/><polygon points="696.53,930.23 702.41,919.8 690.65,919.8" fill="#fff" stroke="#ff00ff" stroke-width="1.6"/><polygon points="716.87,930.23 722.75,919.8 710.99,919.8" fill="#fff" stroke="#ff00ff" stroke-width="1.6"/>
<path d="M452.53,865.68L472.87,921.87L493.2,913.7L513.53,931.95L533.87,954.04L554.2,958.37L574.53,962.21L594.87,960.77L615.2,969.89L635.53,972.29L655.87,959.33L676.2,958.37L696.53,984.3L716.87,998.71" fill="none" stroke="#008000" stroke-width="1.2"/>
<polygon points="452.53,858.48 459.73,865.68 452.53,872.88 445.33,865.68" fill="#fff" stroke="#008000" stroke-width="1.6"/><polygon points="472.87,914.67 480.07,921.87 472.87,929.07 465.67,921.87" fill="#fff" stroke="#008000" stroke-width="1.6"/><polygon points="493.2,906.5 500.4,913.7 493.2,920.9 486,913.7" fill="#fff" stroke="#008000" stroke-width="1.6"/><polygon points="513.53,924.75 520.73,931.95 513.53,939.15 506.33,931.95" fill="#fff" stroke="#008000" stroke-width="1.6"/><polygon points="533.87,946.84 541.07,954.04 533.87,961.24 526.67,954.04" fill="#fff" stroke="#008000" stroke-width="1.6"/><polygon points="554.2,951.17 561.4,958.37 554.2,965.57 547,958.37" fill="#fff" stroke="#008000" stroke-width="1.6"/><polygon points="574.53,955.01 581.73,962.21 574.53,969.41 567.33,962.21" fill="#fff" stroke="#008000" stroke-width="1.6"/><polygon points="594.87,953.57 602.07,960.77 594.87,967.97 587.67,960.77" fill="#fff" stroke="#008000" stroke-width="1.6"/><polygon points="615.2,962.69 622.4,969.89 615.2,977.09 608,969.89" fill="#fff" stroke="#008000" stroke-width="1.6"/><polygon points="635.53,965.09 642.73,972.29 635.53,979.49 628.33,972.29" fill="#fff" stroke="#008000" stroke-width="1.6"/><polygon points="655.87,952.13 663.07,959.33 655.87,966.53 648.67,959.33" fill="#fff" stroke="#008000" stroke-width="1.6"/><polygon points="676.2,951.17 683.4,958.37 676.2,965.57 669,958.37" fill="#fff" stroke="#008000" stroke-width="1.6"/><polygon points="696.53,977.1 703.73,984.3 696.53,991.5 689.33,984.3" fill="#fff" stroke="#008000" stroke-width="1.6"/><polygon points="716.87,991.51 724.07,998.71 716.87,1005.91 709.67,998.71" fill="#fff" stroke="#008000" stroke-width="1.6"/>
<line x1="502.1" y1="780.9" x2="525.2" y2="780.9" stroke="#000000" stroke-width="1.1"/>
<rect x="509.7" y="777.2" width="7.4" height="7.4" fill="#fff" stroke="#000000" stroke-width="1.2"/>
<text x="533.4" y="785.5" font-size="13.6" fill="#231f20" textLength="108.6" lengthAdjust="spacingAndGlyphs">Linear regression</text>
<line x1="502.1" y1="798.2" x2="525.2" y2="798.2" stroke="#ff0000" stroke-width="1.1"/>
<circle cx="513.4" cy="798.2" r="4.1" fill="#fff" stroke="#ff0000" stroke-width="1.2"/>
<text x="533.4" y="802.8" font-size="13.6" fill="#231f20" textLength="82.5" lengthAdjust="spacingAndGlyphs">Decision tree</text>
<line x1="502.1" y1="815.4" x2="525.2" y2="815.4" stroke="#0000ff" stroke-width="1.1"/>
<polygon points="513.4,810.57 517.81,818.39 508.99,818.39" fill="#fff" stroke="#0000ff" stroke-width="1.2" stroke-linejoin="miter"/>
<text x="533.4" y="820" font-size="13.6" fill="#231f20" textLength="198" lengthAdjust="spacingAndGlyphs">Gradient-boosted decision tree</text>
<line x1="502.1" y1="832.9" x2="525.2" y2="832.9" stroke="#ff00ff" stroke-width="1.1"/>
<polygon points="513.4,837.73 517.81,829.91 508.99,829.91" fill="#fff" stroke="#ff00ff" stroke-width="1.2"/>
<text x="533.4" y="837.5" font-size="13.6" fill="#231f20" textLength="92.3" lengthAdjust="spacingAndGlyphs">Random forest</text>
<line x1="502.1" y1="850.3" x2="525.2" y2="850.3" stroke="#008000" stroke-width="1.1"/>
<polygon points="513.4,845.1 518.6,850.3 513.4,855.5 508.2,850.3" fill="#fff" stroke="#008000" stroke-width="1.2"/>
<text x="533.4" y="854.9" font-size="13.6" fill="#231f20" textLength="151.1" lengthAdjust="spacingAndGlyphs">Artificial neural network</text>
<text x="769" y="772.7" font-size="26" fill="#000" font-weight="bold" stroke="#000" stroke-width="1.1">f</text>
<rect x="833.3" y="768.3" width="304.1" height="240.1" fill="none" stroke="#444444" stroke-width="1.2"/>
<path d="M833.3,981.72h-4.4M833.3,928.37h-4.4M833.3,875.01h-4.4M833.3,821.66h-4.4M833.3,768.3h-4.4M833.3,1008.4h-2.6M833.3,981.72h-2.6M833.3,955.04h-2.6M833.3,928.37h-2.6M833.3,901.69h-2.6M833.3,875.01h-2.6M833.3,848.33h-2.6M833.3,821.66h-2.6M833.3,794.98h-2.6M833.3,768.3h-2.6M853.57,1008.4v4.4M894.12,1008.4v4.4M934.67,1008.4v4.4M975.21,1008.4v4.4M1015.76,1008.4v4.4M1056.31,1008.4v4.4M1096.85,1008.4v4.4M1137.4,1008.4v4.4M833.3,1008.4v2.6M873.85,1008.4v2.6M914.39,1008.4v2.6M954.94,1008.4v2.6M995.49,1008.4v2.6M1036.03,1008.4v2.6M1076.58,1008.4v2.6M1117.13,1008.4v2.6M1137.4,1008.4h-4.4M1137.4,990.33h-2.4M1137.4,979.76h-2.4M1137.4,972.26h-2.4M1137.4,966.44h-2.4M1137.4,961.69h-2.4M1137.4,957.67h-2.4M1137.4,954.19h-2.4M1137.4,951.12h-2.4M1137.4,948.38h-4.4M1137.4,930.31h-2.4M1137.4,919.74h-2.4M1137.4,912.24h-2.4M1137.4,906.42h-2.4M1137.4,901.67h-2.4M1137.4,897.65h-2.4M1137.4,894.17h-2.4M1137.4,891.1h-2.4M1137.4,888.35h-4.4M1137.4,870.28h-2.4M1137.4,859.71h-2.4M1137.4,852.21h-2.4M1137.4,846.39h-2.4M1137.4,841.64h-2.4M1137.4,837.62h-2.4M1137.4,834.14h-2.4M1137.4,831.07h-2.4M1137.4,828.32h-4.4M1137.4,810.26h-2.4M1137.4,799.69h-2.4M1137.4,792.19h-2.4M1137.4,786.37h-2.4M1137.4,781.62h-2.4M1137.4,777.6h-2.4M1137.4,774.12h-2.4M1137.4,771.05h-2.4M1137.4,768.3h-4.4" fill="none" stroke="#444444" stroke-width="1.1"/>
<text x="821.6" y="986.72" font-size="16" fill="#231f20" text-anchor="end" textLength="18.6" lengthAdjust="spacingAndGlyphs">20</text>
<text x="821.6" y="933.37" font-size="16" fill="#231f20" text-anchor="end" textLength="18.6" lengthAdjust="spacingAndGlyphs">40</text>
<text x="821.6" y="880.01" font-size="16" fill="#231f20" text-anchor="end" textLength="18.6" lengthAdjust="spacingAndGlyphs">60</text>
<text x="821.6" y="826.66" font-size="16" fill="#231f20" text-anchor="end" textLength="18.6" lengthAdjust="spacingAndGlyphs">80</text>
<text x="821.6" y="773.3" font-size="16" fill="#231f20" text-anchor="end" textLength="27.9" lengthAdjust="spacingAndGlyphs">100</text>
<text x="853.57" y="1032.2" font-size="16" fill="#231f20" text-anchor="middle" textLength="18.6" lengthAdjust="spacingAndGlyphs">10</text>
<text x="894.12" y="1032.2" font-size="16" fill="#231f20" text-anchor="middle" textLength="18.6" lengthAdjust="spacingAndGlyphs">30</text>
<text x="934.67" y="1032.2" font-size="16" fill="#231f20" text-anchor="middle" textLength="18.6" lengthAdjust="spacingAndGlyphs">50</text>
<text x="975.21" y="1032.2" font-size="16" fill="#231f20" text-anchor="middle" textLength="18.6" lengthAdjust="spacingAndGlyphs">70</text>
<text x="1015.76" y="1032.2" font-size="16" fill="#231f20" text-anchor="middle" textLength="18.6" lengthAdjust="spacingAndGlyphs">90</text>
<text x="1056.31" y="1032.2" font-size="16" fill="#231f20" text-anchor="middle" textLength="27.9" lengthAdjust="spacingAndGlyphs">110</text>
<text x="1096.85" y="1032.2" font-size="16" fill="#231f20" text-anchor="middle" textLength="27.9" lengthAdjust="spacingAndGlyphs">130</text>
<text x="1137.4" y="1032.2" font-size="16" fill="#231f20" text-anchor="middle" textLength="27.9" lengthAdjust="spacingAndGlyphs">150</text>
<text x="1145.8" y="1014.4" font-size="16" fill="#231f20" textLength="18.6" lengthAdjust="spacingAndGlyphs">10</text>
<text x="1165" y="1005.4" font-size="11" fill="#231f20" textLength="6.2" lengthAdjust="spacingAndGlyphs">1</text>
<text x="1145.8" y="954.38" font-size="16" fill="#231f20" textLength="18.6" lengthAdjust="spacingAndGlyphs">10</text>
<text x="1165" y="945.38" font-size="11" fill="#231f20" textLength="6.2" lengthAdjust="spacingAndGlyphs">2</text>
<text x="1145.8" y="894.35" font-size="16" fill="#231f20" textLength="18.6" lengthAdjust="spacingAndGlyphs">10</text>
<text x="1165" y="885.35" font-size="11" fill="#231f20" textLength="6.2" lengthAdjust="spacingAndGlyphs">3</text>
<text x="1145.8" y="834.32" font-size="16" fill="#231f20" textLength="18.6" lengthAdjust="spacingAndGlyphs">10</text>
<text x="1165" y="825.32" font-size="11" fill="#231f20" textLength="6.2" lengthAdjust="spacingAndGlyphs">4</text>
<text x="1145.8" y="774.3" font-size="16" fill="#231f20" textLength="18.6" lengthAdjust="spacingAndGlyphs">10</text>
<text x="1165" y="765.3" font-size="11" fill="#231f20" textLength="6.2" lengthAdjust="spacingAndGlyphs">5</text>
<text x="787.2" y="920.7" font-size="18" fill="#231f20" textLength="64.9" lengthAdjust="spacingAndGlyphs" transform="rotate(-90 787.2 920.7)">MRE (%)</text>
<text x="908.5" y="1060.8" font-size="18" fill="#231f20" textLength="154" lengthAdjust="spacingAndGlyphs">Number of data (–)</text>
<text x="1183.5" y="821" font-size="18" fill="#231f20" textLength="133.4" lengthAdjust="spacingAndGlyphs" transform="rotate(90 1183.5 821)">Training time (s)</text>
<path d="M853.57,882.2L873.85,876.7L894.12,873L914.39,871.2L934.67,867.5L954.94,865L975.21,862.7L995.49,861.3L1015.76,859.8L1036.03,860.2L1056.31,851L1076.58,848.1L1096.85,847.3L1117.13,846.6" fill="none" stroke="#008000" stroke-width="1.8" stroke-dasharray="6.5,5"/>
<path d="M853.57,940.9L873.85,911.5L894.12,902.4L914.39,892.4L934.67,892.1L954.94,890.3L975.21,887.7L995.49,884L1015.76,881.4L1036.03,882.2L1056.31,880.4L1076.58,880.4L1096.85,880.4L1117.13,880.4" fill="none" stroke="#0000ff" stroke-width="1.8" stroke-dasharray="6.5,5"/>
<path d="M853.57,980.1L873.85,977.5L894.12,972.8L914.39,976.4L934.67,973.1L954.94,971.3L975.21,951.9L995.49,951.9L1015.76,947.1L1036.03,942.7L1056.31,938.3L1076.58,940.1L1096.85,947.1L1117.13,946.4" fill="none" stroke="#ff0000" stroke-width="1.8" stroke-dasharray="6.5,5"/>
<path d="M853.57,992.2L873.85,993.3L894.12,992.6L914.39,990.4L934.67,988.5L954.94,980.5L975.21,983L995.49,986L1015.76,981.2L1036.03,981.9L1056.31,975L1076.58,982.3L1096.85,980.5L1117.13,980.5" fill="none" stroke="#000000" stroke-width="1.8" stroke-dasharray="6.5,5"/>
<path d="M853.57,818.72L873.85,846.2L894.12,870.21L914.39,879.55L934.67,884.08L954.94,887.82L975.21,888.35L995.49,892.08L1015.76,895.82L1036.03,897.95L1056.31,881.41L1076.58,900.62L1096.85,889.42L1117.13,892.35" fill="none" stroke="#000000" stroke-width="1.3"/>
<rect x="848.27" y="813.42" width="10.6" height="10.6" fill="#fff" stroke="#000000" stroke-width="1.8"/><rect x="868.55" y="840.9" width="10.6" height="10.6" fill="#fff" stroke="#000000" stroke-width="1.8"/><rect x="888.82" y="864.91" width="10.6" height="10.6" fill="#fff" stroke="#000000" stroke-width="1.8"/><rect x="909.09" y="874.25" width="10.6" height="10.6" fill="#fff" stroke="#000000" stroke-width="1.8"/><rect x="929.37" y="878.78" width="10.6" height="10.6" fill="#fff" stroke="#000000" stroke-width="1.8"/><rect x="949.64" y="882.52" width="10.6" height="10.6" fill="#fff" stroke="#000000" stroke-width="1.8"/><rect x="969.91" y="883.05" width="10.6" height="10.6" fill="#fff" stroke="#000000" stroke-width="1.8"/><rect x="990.19" y="886.78" width="10.6" height="10.6" fill="#fff" stroke="#000000" stroke-width="1.8"/><rect x="1010.46" y="890.52" width="10.6" height="10.6" fill="#fff" stroke="#000000" stroke-width="1.8"/><rect x="1030.73" y="892.65" width="10.6" height="10.6" fill="#fff" stroke="#000000" stroke-width="1.8"/><rect x="1051.01" y="876.11" width="10.6" height="10.6" fill="#fff" stroke="#000000" stroke-width="1.8"/><rect x="1071.28" y="895.32" width="10.6" height="10.6" fill="#fff" stroke="#000000" stroke-width="1.8"/><rect x="1091.55" y="884.12" width="10.6" height="10.6" fill="#fff" stroke="#000000" stroke-width="1.8"/><rect x="1111.83" y="887.05" width="10.6" height="10.6" fill="#fff" stroke="#000000" stroke-width="1.8"/>
<path d="M853.57,872.34L873.85,908.09L894.12,914.49L914.39,912.63L934.67,928.9L954.94,928.9L975.21,929.17L995.49,924.37L1015.76,927.3L1036.03,931.03L1056.31,921.43L1076.58,929.97L1096.85,929.43L1117.13,934.5" fill="none" stroke="#ff0000" stroke-width="1.3"/>
<circle cx="853.57" cy="872.34" r="5.8" fill="#fff" stroke="#ff0000" stroke-width="1.8"/><circle cx="873.85" cy="908.09" r="5.8" fill="#fff" stroke="#ff0000" stroke-width="1.8"/><circle cx="894.12" cy="914.49" r="5.8" fill="#fff" stroke="#ff0000" stroke-width="1.8"/><circle cx="914.39" cy="912.63" r="5.8" fill="#fff" stroke="#ff0000" stroke-width="1.8"/><circle cx="934.67" cy="928.9" r="5.8" fill="#fff" stroke="#ff0000" stroke-width="1.8"/><circle cx="954.94" cy="928.9" r="5.8" fill="#fff" stroke="#ff0000" stroke-width="1.8"/><circle cx="975.21" cy="929.17" r="5.8" fill="#fff" stroke="#ff0000" stroke-width="1.8"/><circle cx="995.49" cy="924.37" r="5.8" fill="#fff" stroke="#ff0000" stroke-width="1.8"/><circle cx="1015.76" cy="927.3" r="5.8" fill="#fff" stroke="#ff0000" stroke-width="1.8"/><circle cx="1036.03" cy="931.03" r="5.8" fill="#fff" stroke="#ff0000" stroke-width="1.8"/><circle cx="1056.31" cy="921.43" r="5.8" fill="#fff" stroke="#ff0000" stroke-width="1.8"/><circle cx="1076.58" cy="929.97" r="5.8" fill="#fff" stroke="#ff0000" stroke-width="1.8"/><circle cx="1096.85" cy="929.43" r="5.8" fill="#fff" stroke="#ff0000" stroke-width="1.8"/><circle cx="1117.13" cy="934.5" r="5.8" fill="#fff" stroke="#ff0000" stroke-width="1.8"/>
<path d="M853.57,905.42L873.85,937.17L894.12,934.5L914.39,931.83L934.67,941.97L954.94,948.11L975.21,951.84L995.49,955.58L1015.76,960.91L1036.03,960.38L1056.31,960.38L1076.58,960.38L1096.85,954.51L1117.13,961.71" fill="none" stroke="#0000ff" stroke-width="1.3"/>
<polygon points="853.57,897.83 860.5,910.13 846.64,910.13" fill="#fff" stroke="#0000ff" stroke-width="1.8" stroke-linejoin="miter"/><polygon points="873.85,929.58 880.78,941.88 866.92,941.88" fill="#fff" stroke="#0000ff" stroke-width="1.8" stroke-linejoin="miter"/><polygon points="894.12,926.91 901.05,939.21 887.19,939.21" fill="#fff" stroke="#0000ff" stroke-width="1.8" stroke-linejoin="miter"/><polygon points="914.39,924.24 921.32,936.54 907.46,936.54" fill="#fff" stroke="#0000ff" stroke-width="1.8" stroke-linejoin="miter"/><polygon points="934.67,934.38 941.6,946.68 927.74,946.68" fill="#fff" stroke="#0000ff" stroke-width="1.8" stroke-linejoin="miter"/><polygon points="954.94,940.52 961.87,952.81 948.01,952.81" fill="#fff" stroke="#0000ff" stroke-width="1.8" stroke-linejoin="miter"/><polygon points="975.21,944.25 982.14,956.55 968.28,956.55" fill="#fff" stroke="#0000ff" stroke-width="1.8" stroke-linejoin="miter"/><polygon points="995.49,947.99 1002.42,960.28 988.56,960.28" fill="#fff" stroke="#0000ff" stroke-width="1.8" stroke-linejoin="miter"/><polygon points="1015.76,953.32 1022.69,965.62 1008.83,965.62" fill="#fff" stroke="#0000ff" stroke-width="1.8" stroke-linejoin="miter"/><polygon points="1036.03,952.79 1042.96,965.09 1029.1,965.09" fill="#fff" stroke="#0000ff" stroke-width="1.8" stroke-linejoin="miter"/><polygon points="1056.31,952.79 1063.24,965.09 1049.38,965.09" fill="#fff" stroke="#0000ff" stroke-width="1.8" stroke-linejoin="miter"/><polygon points="1076.58,952.79 1083.51,965.09 1069.65,965.09" fill="#fff" stroke="#0000ff" stroke-width="1.8" stroke-linejoin="miter"/><polygon points="1096.85,946.92 1103.78,959.22 1089.92,959.22" fill="#fff" stroke="#0000ff" stroke-width="1.8" stroke-linejoin="miter"/><polygon points="1117.13,954.12 1124.06,966.42 1110.2,966.42" fill="#fff" stroke="#0000ff" stroke-width="1.8" stroke-linejoin="miter"/>
<path d="M853.57,916.36L873.85,947.57L894.12,942.77L914.39,952.91L934.67,965.45L954.94,967.58L975.21,971.05L995.49,969.45L1015.76,973.99L1036.03,975.85L1056.31,967.58L1076.58,967.58L1096.85,982.26L1117.13,990.53" fill="none" stroke="#008000" stroke-width="1.3"/>
<polygon points="853.57,908.46 861.47,916.36 853.57,924.26 845.67,916.36" fill="#fff" stroke="#008000" stroke-width="1.8"/><polygon points="873.85,939.67 881.75,947.57 873.85,955.47 865.95,947.57" fill="#fff" stroke="#008000" stroke-width="1.8"/><polygon points="894.12,934.87 902.02,942.77 894.12,950.67 886.22,942.77" fill="#fff" stroke="#008000" stroke-width="1.8"/><polygon points="914.39,945.01 922.29,952.91 914.39,960.81 906.49,952.91" fill="#fff" stroke="#008000" stroke-width="1.8"/><polygon points="934.67,957.55 942.57,965.45 934.67,973.35 926.77,965.45" fill="#fff" stroke="#008000" stroke-width="1.8"/><polygon points="954.94,959.68 962.84,967.58 954.94,975.48 947.04,967.58" fill="#fff" stroke="#008000" stroke-width="1.8"/><polygon points="975.21,963.15 983.11,971.05 975.21,978.95 967.31,971.05" fill="#fff" stroke="#008000" stroke-width="1.8"/><polygon points="995.49,961.55 1003.39,969.45 995.49,977.35 987.59,969.45" fill="#fff" stroke="#008000" stroke-width="1.8"/><polygon points="1015.76,966.09 1023.66,973.99 1015.76,981.89 1007.86,973.99" fill="#fff" stroke="#008000" stroke-width="1.8"/><polygon points="1036.03,967.95 1043.93,975.85 1036.03,983.75 1028.13,975.85" fill="#fff" stroke="#008000" stroke-width="1.8"/><polygon points="1056.31,959.68 1064.21,967.58 1056.31,975.48 1048.41,967.58" fill="#fff" stroke="#008000" stroke-width="1.8"/><polygon points="1076.58,959.68 1084.48,967.58 1076.58,975.48 1068.68,967.58" fill="#fff" stroke="#008000" stroke-width="1.8"/><polygon points="1096.85,974.36 1104.75,982.26 1096.85,990.16 1088.95,982.26" fill="#fff" stroke="#008000" stroke-width="1.8"/><polygon points="1117.13,982.63 1125.03,990.53 1117.13,998.43 1109.23,990.53" fill="#fff" stroke="#008000" stroke-width="1.8"/>
<text x="921.7" y="784.2" font-size="13.8" fill="#231f20" textLength="154.5" lengthAdjust="spacingAndGlyphs">Virtual-to-real data Ratio</text>
<line x1="923.8" y1="798.7" x2="946.7" y2="798.7" stroke="#000000" stroke-width="1.1"/>
<rect x="931.5" y="795" width="7.4" height="7.4" fill="#fff" stroke="#000000" stroke-width="1.2"/>
<text x="954.7" y="803.1" font-size="13.8" fill="#231f20" textLength="8.5" lengthAdjust="spacingAndGlyphs">0</text>
<line x1="923.8" y1="815.7" x2="946.7" y2="815.7" stroke="#ff0000" stroke-width="1.1"/>
<circle cx="935.2" cy="815.7" r="4.1" fill="#fff" stroke="#ff0000" stroke-width="1.2"/>
<text x="954.7" y="820.1" font-size="13.8" fill="#231f20" textLength="14.1" lengthAdjust="spacingAndGlyphs">10</text>
<line x1="923.8" y1="833" x2="946.7" y2="833" stroke="#0000ff" stroke-width="1.1"/>
<polygon points="935.2,828.17 939.61,835.99 930.79,835.99" fill="#fff" stroke="#0000ff" stroke-width="1.2" stroke-linejoin="miter"/>
<text x="954.7" y="837.4" font-size="13.8" fill="#231f20" textLength="23.1" lengthAdjust="spacingAndGlyphs">100</text>
<line x1="923.8" y1="850.5" x2="946.7" y2="850.5" stroke="#008000" stroke-width="1.1"/>
<polygon points="935.2,845.3 940.4,850.5 935.2,855.7 930,850.5" fill="#fff" stroke="#008000" stroke-width="1.2"/>
<text x="954.7" y="854.9" font-size="13.8" fill="#231f20" textLength="36.3" lengthAdjust="spacingAndGlyphs">1,000</text>
</svg>
</body></html>
